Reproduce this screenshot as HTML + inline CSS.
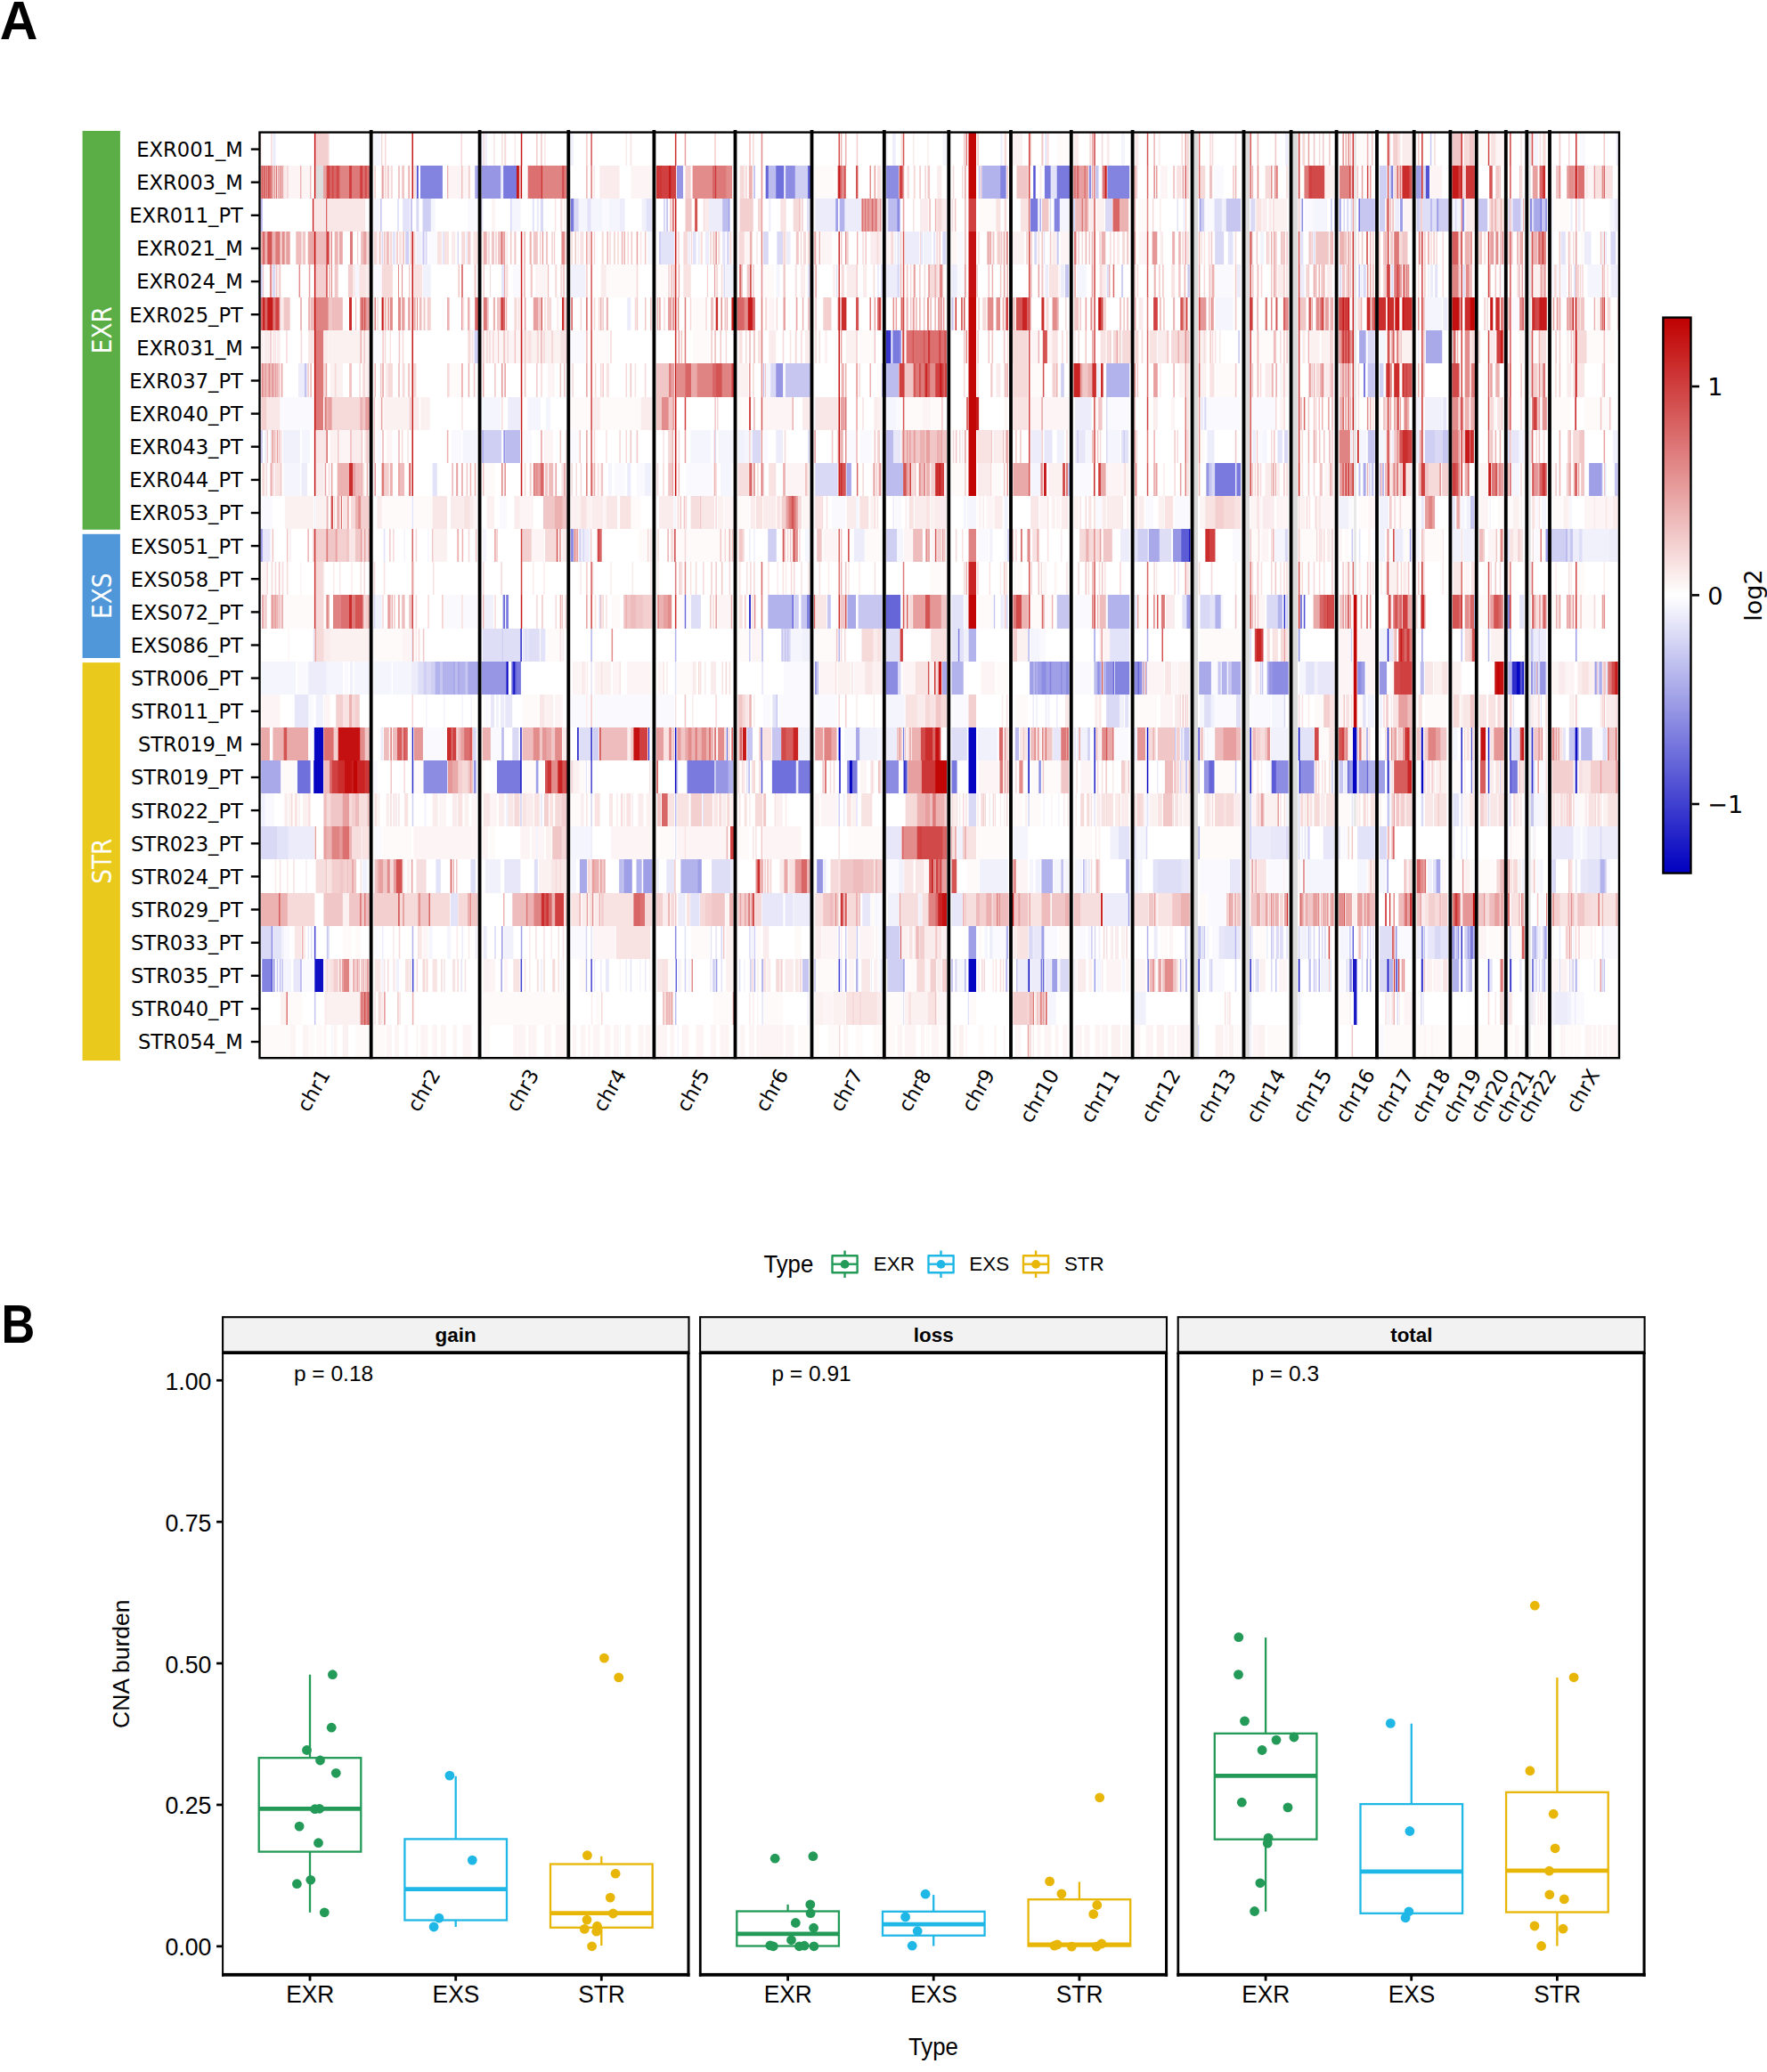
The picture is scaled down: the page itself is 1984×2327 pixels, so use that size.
<!DOCTYPE html>
<html lang="en"><head><meta charset="utf-8"><title>CNA heatmap and burden</title>
<style>
html,body{margin:0;padding:0;background:#fff;}
body{width:1984px;height:2327px;overflow:hidden;}
svg{display:block;}
.dj{font-family:"DejaVu Sans","Liberation Sans",sans-serif;}
.lb{font-family:"Liberation Sans",sans-serif;}
</style></head><body>
<svg width="1984" height="2327" viewBox="0 0 1984 2327">
<rect x="0" y="0" width="1984" height="2327" fill="#ffffff"/>
<text class="lb" transform="translate(-0.2 43.7) scale(0.96 1)" font-size="61.5" font-weight="bold" fill="#000">A</text>
<text class="lb" transform="translate(1.6 1508.3) scale(0.865 1)" font-size="60.5" font-weight="bold" fill="#000">B</text>
<rect x="92.6" y="147" width="42.3" height="447.8" fill="#5aae45"/>
<rect x="92.6" y="599.8" width="42.3" height="139.2" fill="#4f97d9"/>
<rect x="92.6" y="744.1" width="42.3" height="447" fill="#e8c91c"/>
<text class="dj" transform="translate(124.6 370.7) rotate(-90) scale(0.872 1)" text-anchor="middle" font-size="30.2" fill="#fff">EXR</text>
<text class="dj" transform="translate(124.6 669.2) rotate(-90) scale(0.872 1)" text-anchor="middle" font-size="30.2" fill="#fff">EXS</text>
<text class="dj" transform="translate(124.6 967.2) rotate(-90) scale(0.872 1)" text-anchor="middle" font-size="30.2" fill="#fff">STR</text>
<g fill="none">
<g transform="translate(0 167.5)" stroke-width="37">
<path stroke="#fefafa" d="M292 0h1M294 0h1M709 0h1M1130 0h1M1136 0h1M1187 0h12M1211 0h1M1236 0h1M1242 0h1M1300 0h1M1433 0h1M1480 0h1M1517 0h1M1524 0h10M1537 0h3M1661 0h8M1687 0h1M1802 0h1"/>
<path stroke="#faecec" d="M293 0h1M433 0h1M517 0h1M554 0h2M564 0h1M578 0h1M611 0h2M703 0h1M757 0h1M770 0h1M1025 0h1M1177 0h1M1206 0h5M1243 0h2M1275 0h3M1301 0h1M1326 0h1M1345 0h1M1470 0h1M1476 0h1M1575 0h10M1655 0h1M1707 0h1M1735 0h1M1750 0h1M1762 0h1"/>
<path stroke="#f7dede" d="M304 0h1M563 0h1M603 0h1M659 0h1M845 0h1M854 0h1M1169 0h1M1287 0h1M1334 0h1M1536 0h1M1569 0h1"/>
<path stroke="#f9e7e7" d="M305 0h1M352 0h1M369 0h1M846 0h1M856 0h1M1171 0h1M1223 0h1M1411 0h1M1431 0h1M1457 0h1M1515 0h1M1674 0h1M1708 0h1M1800 0h1"/>
<path stroke="#f5f5fd" d="M306 0h1M309 0h1M420 0h7M643 0h1M995 0h2M1005 0h1M1059 0h3M1123 0h1M1125 0h1M1173 0h1M1259 0h4M1605 0h1M1722 0h5"/>
<path stroke="#ececfa" d="M307 0h2M542 0h1M545 0h1M1003 0h2M1124 0h1M1443 0h3M1607 0h1M1815 0h1"/>
<path stroke="#c20606" d="M353 0h1M1088 0h8"/>
<path stroke="#e59696" d="M354 0h1M663 0h1M1508 0h1M1559 0h1M1770 0h1"/>
<path stroke="#f3cfcf" d="M355 0h13M584 0h1M602 0h1M607 0h1M658 0h1M841 0h2M962 0h1M1013 0h1M1015 0h1M1098 0h1M1157 0h1M1289 0h1M1295 0h1M1333 0h1M1492 0h1M1565 0h4M1721 0h1"/>
<path stroke="#f6d9d9" d="M368 0h1M428 0h1M432 0h1M518 0h1M543 0h1M567 0h1M608 0h1M802 0h2M950 0h1M1097 0h1M1128 0h2M1176 0h1M1224 0h1M1237 0h1M1327 0h1M1330 0h1M1361 0h1M1387 0h1M1463 0h2M1481 0h1M1493 0h1M1510 0h1M1557 0h1M1564 0h1M1644 0h6M1670 0h1M1733 0h2M1761 0h1"/>
<path stroke="#fafafe" d="M419 0h1M640 0h1M1058 0h1M1062 0h1M1774 0h6M1814 0h1"/>
<path stroke="#fbf1f1" d="M429 0h1M961 0h1M1011 0h1M1041 0h2M1127 0h1M1137 0h11M1225 0h1M1238 0h1M1245 0h1M1274 0h1M1302 0h1M1413 0h1M1465 0h1M1482 0h1M1534 0h1M1679 0h1M1728 0h1"/>
<path stroke="#e38c8c" d="M462 0h1M855 0h1M1156 0h1M1514 0h1M1696 0h1"/>
<path stroke="#c61919" d="M463 0h1M585 0h1"/>
<path stroke="#f1f1fb" d="M541 0h1M546 0h1M641 0h2M1002 0h1M1816 0h1"/>
<path stroke="#fdf5f5" d="M544 0h1M568 0h1M577 0h1M702 0h1M707 0h1M943 0h1M963 0h1M1026 0h1M1175 0h1M1278 0h1M1332 0h1M1360 0h1M1362 0h1M1386 0h1M1388 0h1M1474 0h1M1572 0h1M1574 0h1M1585 0h1M1630 0h1M1643 0h1M1680 0h7M1730 0h1M1752 0h1"/>
<path stroke="#f8e2e2" d="M566 0h1M708 0h1M768 0h1M945 0h1M1012 0h1M1083 0h1M1358 0h2M1462 0h1M1468 0h1M1486 0h1M1541 0h1M1570 0h2M1593 0h1M1610 0h2M1675 0h4M1729 0h1M1732 0h1"/>
<path stroke="#eebcbc" d="M586 0h1M1084 0h1M1296 0h1M1507 0h1M1560 0h1M1719 0h1"/>
<path stroke="#d96666" d="M664 0h1M1229 0h1M1346 0h1"/>
<path stroke="#cb2d2d" d="M758 0h1M1519 0h1M1558 0h1M1641 0h1M1769 0h1"/>
<path stroke="#eaa9a9" d="M759 0h1M941 0h1M1226 0h1M1403 0h1M1518 0h1"/>
<path stroke="#e79f9f" d="M769 0h1M1331 0h1M1469 0h1"/>
<path stroke="#d45353" d="M942 0h1M1014 0h1M1288 0h1M1404 0h1M1695 0h1M1720 0h1"/>
<path stroke="#ecb2b2" d="M944 0h1M949 0h1M1412 0h1M1459 0h1M1511 0h1M1535 0h1"/>
<path stroke="#f1c6c6" d="M1082 0h1M1170 0h1M1227 0h1M1347 0h1M1432 0h1M1475 0h1M1485 0h1M1513 0h1M1516 0h1M1540 0h1M1592 0h1M1631 0h9M1650 0h5M1672 0h1M1751 0h1M1801 0h1"/>
<path stroke="#de7979" d="M1085 0h1M1228 0h1M1640 0h1"/>
<path stroke="#e08383" d="M1087 0h1M1597 0h1"/>
<path stroke="#d04040" d="M1155 0h1M1458 0h1M1596 0h1M1671 0h1"/>
<path stroke="#d9d9f6" d="M1174 0h1"/>
<path stroke="#dcdcdc" d="M1340 0h5M1398 0h5M1451 0h6"/>
<path stroke="#e8e8e8" d="M1520 0h3M1716 0h3"/>
<path stroke="#c6c6f1" d="M1606 0h1"/>
</g>
<g transform="translate(0 204.5)" stroke-width="37">
<path stroke="#f7dede" d="M292 0h1M309 0h1M313 0h1M323 0h1M440 0h1M519 0h1M854 0h1M1275 0h1M1334 0h1M1411 0h1M1707 0h1M1789 0h1M1791 0h1"/>
<path stroke="#de7979" d="M293 0h1M297 0h1M303 0h1M316 0h1M395 0h9M805 0h10M949 0h1M1206 0h2M1218 0h1M1228 0h1M1238 0h2M1433 0h1M1465 0h4M1516 0h1M1572 0h1M1597 0h1M1630 0h1M1672 0h1M1768 0h1"/>
<path stroke="#d75c5c" d="M294 0h1M304 0h1M370 0h1M372 0h1M377 0h1M1240 0h1M1242 0h1M1469 0h1"/>
<path stroke="#e38c8c" d="M295 0h1M300 0h1M462 0h1M635 0h2M778 0h22M816 0h6M855 0h1M945 0h2M977 0h1M1412 0h1M1427 0h1M1504 0h1M1751 0h1M1762 0h5M1799 0h1"/>
<path stroke="#d45353" d="M296 0h1M301 0h1M374 0h1M380 0h1M411 0h1M631 0h1M943 0h1M948 0h1M961 0h2M1331 0h1M1583 0h2M1673 0h2"/>
<path stroke="#e08383" d="M298 0h1M306 0h1M308 0h1M366 0h1M382 0h10M609 0h22M664 0h1M815 0h1M947 0h1M1087 0h1M1217 0h1M1505 0h10M1675 0h1"/>
<path stroke="#d96666" d="M299 0h1M302 0h1M314 0h1M371 0h1M375 0h2M407 0h1M409 0h1M607 0h1M800 0h3M944 0h1M1210 0h1M1288 0h1M1346 0h1M1404 0h1M1518 0h1M1569 0h1M1695 0h1M1729 0h3M1801 0h1"/>
<path stroke="#f1c6c6" d="M305 0h1M317 0h1M415 0h1M435 0h1M447 0h2M452 0h2M458 0h1M583 0h1M976 0h1M1042 0h2M1084 0h1M1101 0h1M1131 0h1M1142 0h12M1237 0h1M1276 0h1M1318 0h1M1358 0h1M1360 0h1M1428 0h1M1517 0h1M1524 0h1M1643 0h1M1645 0h1M1680 0h3M1684 0h1M1706 0h1M1726 0h1M1747 0h3M1798 0h1"/>
<path stroke="#faecec" d="M307 0h1M315 0h1M319 0h3M464 0h1M674 0h21M736 0h1M1015 0h1M1053 0h4M1081 0h1M1168 0h1M1227 0h1M1332 0h1M1345 0h1M1430 0h1M1528 0h1M1534 0h1M1642 0h1M1720 0h1M1735 0h1M1780 0h3"/>
<path stroke="#dc7070" d="M310 0h1M381 0h1M408 0h1M412 0h3M593 0h14M633 0h2M804 0h1M1013 0h1M1209 0h1M1574 0h1M1772 0h7"/>
<path stroke="#f8e2e2" d="M311 0h1M349 0h1M420 0h1M433 0h1M465 0h2M503 0h1M586 0h1M775 0h1M835 0h1M838 0h1M985 0h4M1020 0h1M1027 0h1M1130 0h1M1141 0h1M1154 0h1M1287 0h1M1322 0h4M1405 0h1M1426 0h1M1444 0h2M1523 0h1M1530 0h1M1559 0h1M1565 0h1M1792 0h6M1802 0h8"/>
<path stroke="#e79f9f" d="M312 0h1M354 0h1M363 0h3M429 0h1M584 0h1M982 0h1M1014 0h1M1156 0h1M1205 0h1M1208 0h1M1212 0h5M1220 0h2M1226 0h1M1274 0h1M1298 0h1M1328 0h1M1431 0h1M1434 0h1M1529 0h1M1538 0h1M1721 0h5M1760 0h1M1767 0h1M1771 0h1M1790 0h1"/>
<path stroke="#f6d9d9" d="M318 0h1M322 0h1M338 0h1M428 0h1M432 0h1M439 0h1M527 0h1M831 0h4M837 0h1M981 0h1M1019 0h1M1026 0h1M1032 0h1M1039 0h1M1070 0h1M1080 0h1M1273 0h1M1327 0h1M1348 0h5M1385 0h1M1421 0h5M1566 0h2M1644 0h1M1679 0h1M1683 0h1M1708 0h1"/>
<path stroke="#fdf5f5" d="M324 0h13M339 0h9M431 0h1M434 0h1M438 0h1M504 0h14M520 0h6M695 0h1M709 0h22M836 0h1M983 0h1M1025 0h1M1069 0h1M1071 0h1M1167 0h1M1169 0h1M1303 0h8M1326 0h1M1329 0h1M1353 0h1M1361 0h1M1407 0h1M1525 0h1M1606 0h13M1685 0h1M1779 0h1M1783 0h6"/>
<path stroke="#ecb2b2" d="M337 0h1M459 0h1M502 0h1M637 0h1M663 0h1M841 0h3M1347 0h1M1387 0h1M1403 0h1M1406 0h1M1432 0h1M1459 0h1M1464 0h1M1536 0h1M1571 0h1M1728 0h1M1750 0h1M1759 0h1"/>
<path stroke="#eebcbc" d="M348 0h1M430 0h1M518 0h1M658 0h1M844 0h1M940 0h1M963 0h1M1009 0h1M1229 0h1M1295 0h1M1330 0h1M1359 0h1"/>
<path stroke="#f9e7e7" d="M352 0h1M667 0h1M759 0h1M769 0h1M856 0h1M1038 0h1M1041 0h1M1321 0h1M1388 0h1M1413 0h1M1457 0h1M1752 0h1M1810 0h1"/>
<path stroke="#c20606" d="M353 0h1M585 0h1M1088 0h8"/>
<path stroke="#dcdcdc" d="M355 0h8M1340 0h5M1398 0h5M1451 0h6"/>
<path stroke="#d24949" d="M367 0h1M373 0h1M378 0h2M404 0h1M410 0h1M632 0h1M1473 0h14M1515 0h1M1655 0h1"/>
<path stroke="#d04040" d="M368 0h2M392 0h3M405 0h2M743 0h8M754 0h5M1010 0h3M1155 0h1M1458 0h1M1470 0h3M1535 0h1M1582 0h1M1638 0h2M1732 0h1M1770 0h1"/>
<path stroke="#f3cfcf" d="M421 0h1M436 0h1M451 0h1M526 0h1M592 0h1M659 0h1M770 0h5M777 0h1M1033 0h1M1289 0h1M1299 0h1M1317 0h1M1333 0h1M1384 0h1M1487 0h1M1539 0h1M1570 0h1M1573 0h1"/>
<path stroke="#fefafa" d="M454 0h1M587 0h5M708 0h1M731 0h1M915 0h21M989 0h1M1044 0h1M1057 0h1M1277 0h1M1319 0h1M1557 0h1M1743 0h3"/>
<path stroke="#fbf1f1" d="M460 0h1M666 0h1M673 0h1M830 0h1M840 0h1M1018 0h1M1052 0h1M1386 0h1M1420 0h1M1488 0h10M1709 0h1"/>
<path stroke="#c61919" d="M463 0h1M580 0h2M751 0h2M942 0h1M1241 0h1M1519 0h1M1631 0h6M1641 0h1M1769 0h1"/>
<path stroke="#e7e7f9" d="M467 0h1M1100 0h1M1268 0h1"/>
<path stroke="#5353d4" d="M468 0h1M1161 0h1M1601 0h4"/>
<path stroke="#7979de" d="M469 0h1M566 0h14M862 0h1M1160 0h1M1173 0h6M1187 0h14M1563 0h1"/>
<path stroke="#8383e0" d="M472 0h24M871 0h1M1124 0h5M1162 0h1M1244 0h24"/>
<path stroke="#8c8ce3" d="M496 0h1M565 0h1M883 0h9M996 0h13M1123 0h1M1223 0h2M1562 0h1"/>
<path stroke="#bcbcee" d="M533 0h1M863 0h8"/>
<path stroke="#a9a9ea" d="M534 0h3M1129 0h1M1590 0h1"/>
<path stroke="#cfcff3" d="M537 0h1M859 0h1M893 0h14M1102 0h1M1549 0h8M1560 0h2M1600 0h1"/>
<path stroke="#dedef7" d="M540 0h1M880 0h1M1233 0h1"/>
<path stroke="#9696e5" d="M541 0h21M760 0h7M882 0h1"/>
<path stroke="#e2e2f8" d="M562 0h1M1180 0h6M1222 0h1M1564 0h1"/>
<path stroke="#ececfa" d="M563 0h2M881 0h1M1098 0h1M1225 0h1"/>
<path stroke="#cb2d2d" d="M582 0h1M608 0h1M1558 0h1M1575 0h7M1596 0h1M1637 0h1M1640 0h1M1733 0h2"/>
<path stroke="#cd3636" d="M737 0h6M753 0h1M803 0h1M941 0h1M1646 0h9"/>
<path stroke="#c6c6f1" d="M846 0h2M1099 0h1M1186 0h1M1230 0h3"/>
<path stroke="#6666d9" d="M860 0h2M907 0h3"/>
<path stroke="#7070dc" d="M872 0h8"/>
<path stroke="#9f9fe7" d="M892 0h1M995 0h1M1179 0h1M1591 0h4"/>
<path stroke="#f1f1fb" d="M910 0h1M1172 0h1"/>
<path stroke="#eaa9a9" d="M1083 0h1M1568 0h1M1800 0h1"/>
<path stroke="#b2b2ec" d="M1103 0h20M1243 0h1M1595 0h1"/>
<path stroke="#e59696" d="M1211 0h1M1219 0h1M1296 0h1M1585 0h1M1696 0h1M1761 0h1"/>
<path stroke="#fafafe" d="M1363 0h11M1548 0h1"/>
<path stroke="#e8e8e8" d="M1520 0h3M1716 0h3"/>
<path stroke="#d9d9f6" d="M1598 0h2"/>
</g>
<g transform="translate(0 241.5)" stroke-width="37">
<path stroke="#e7e7f9" d="M292 0h1M452 0h1M467 0h1M474 0h1M574 0h1M599 0h1M731 0h1M942 0h1M1346 0h1M1376 0h1"/>
<path stroke="#b2b2ec" d="M293 0h1M938 0h1M943 0h5M1168 0h1M1525 0h1M1722 0h1"/>
<path stroke="#c6c6f1" d="M294 0h1M427 0h1M461 0h2M644 0h1M749 0h1M811 0h1M997 0h1M1010 0h1M1167 0h1M1377 0h16M1461 0h1M1527 0h16M1615 0h1M1660 0h10M1699 0h8M1731 0h4"/>
<path stroke="#f9e7e7" d="M350 0h1M353 0h13M368 0h42M757 0h1M1057 0h1M1073 0h1M1430 0h1"/>
<path stroke="#c61919" d="M351 0h1M758 0h1"/>
<path stroke="#eebcbc" d="M352 0h1M1083 0h1M1208 0h6M1216 0h2M1221 0h1M1559 0h1M1695 0h1"/>
<path stroke="#d96666" d="M366 0h1M755 0h1M780 0h1M979 0h1M1155 0h1M1250 0h7"/>
<path stroke="#f1c6c6" d="M367 0h1M753 0h1M770 0h6M854 0h1M897 0h1M985 0h3M1044 0h1M1072 0h1M1170 0h7M1207 0h1M1331 0h1M1458 0h1M1561 0h1M1564 0h1M1595 0h1M1640 0h1M1674 0h1M1678 0h1M1769 0h1"/>
<path stroke="#fefafa" d="M410 0h1M1045 0h1M1071 0h1M1099 0h19M1130 0h1M1278 0h9M1293 0h1M1332 0h1M1575 0h1M1585 0h1M1645 0h1M1745 0h17M1779 0h1"/>
<path stroke="#fafafe" d="M419 0h1M426 0h1M460 0h1M488 0h1M525 0h13M542 0h1M584 0h1M597 0h1M602 0h1M606 0h1M676 0h8M720 0h1M747 0h1M750 0h1M865 0h1M1353 0h10M1393 0h1M1465 0h10M1548 0h1M1571 0h1M1630 0h1M1741 0h1M1807 0h1"/>
<path stroke="#f5f5fd" d="M420 0h6M484 0h4M540 0h1M575 0h9M650 0h9M664 0h12M684 0h12M701 0h1M1178 0h1M1180 0h1M1190 0h10M1463 0h1M1475 0h15M1514 0h1M1631 0h2M1636 0h4M1644 0h1M1670 0h1M1709 0h1M1742 0h2M1763 0h1M1765 0h1M1774 0h1M1808 0h5"/>
<path stroke="#dedef7" d="M428 0h1M1248 0h1M1364 0h7M1597 0h9M1608 0h5M1707 0h1"/>
<path stroke="#e2e2f8" d="M446 0h2M453 0h7M541 0h1M598 0h1M649 0h1M660 0h3M726 0h5M906 0h3M1322 0h1M1329 0h1M1371 0h1M1404 0h1M1503 0h1M1512 0h1M1594 0h1M1693 0h1M1697 0h2M1720 0h1"/>
<path stroke="#d9d9f6" d="M468 0h2M483 0h1M573 0h1M607 0h3M640 0h1M645 0h4M745 0h2M948 0h1M1165 0h1M1179 0h1M1183 0h1M1205 0h2M1241 0h7M1405 0h4M1495 0h1M1498 0h2M1509 0h1M1513 0h1M1517 0h1M1626 0h1M1634 0h1M1694 0h1M1721 0h1"/>
<path stroke="#f1f1fb" d="M470 0h1M721 0h4M863 0h1M915 0h1M995 0h1M1321 0h1M1352 0h1M1372 0h4M1409 0h1M1516 0h1M1566 0h1M1590 0h1M1633 0h1M1816 0h1"/>
<path stroke="#cfcff3" d="M475 0h8M748 0h1M819 0h1M1349 0h3M1494 0h1M1543 0h1M1549 0h6M1591 0h3M1616 0h10"/>
<path stroke="#fdf5f5" d="M552 0h4M624 0h1M634 0h1M754 0h1M789 0h1M890 0h1M1049 0h1M1062 0h1M1068 0h1M1070 0h1M1223 0h1M1231 0h1M1275 0h1M1303 0h1M1417 0h1M1422 0h1M1424 0h1M1457 0h1M1562 0h1M1565 0h1M1576 0h9"/>
<path stroke="#ececfa" d="M603 0h2M659 0h1M663 0h1M696 0h5M725 0h1M796 0h15M864 0h1M916 0h22M949 0h18M996 0h1M1363 0h1M1460 0h1M1508 0h1M1567 0h4M1635 0h1M1708 0h1M1764 0h1M1772 0h2M1813 0h3"/>
<path stroke="#f8e2e2" d="M623 0h1M629 0h1M769 0h1M877 0h5M1015 0h1M1025 0h1M1051 0h2M1119 0h4M1146 0h9M1177 0h1M1222 0h1M1273 0h1M1287 0h1M1411 0h5M1672 0h1M1682 0h2M1687 0h2M1770 0h1"/>
<path stroke="#f6d9d9" d="M630 0h1M790 0h1M845 0h1M851 0h3M891 0h6M1053 0h4M1069 0h1M1128 0h2M1294 0h1M1429 0h1M1596 0h1M1673 0h1M1676 0h2M1680 0h1M1684 0h1M1686 0h1M1778 0h1"/>
<path stroke="#fbf1f1" d="M631 0h1M1026 0h1M1123 0h1M1127 0h1M1232 0h8M1267 0h1M1295 0h1M1416 0h1M1427 0h1M1431 0h14M1689 0h1M1711 0h1M1777 0h1"/>
<path stroke="#faecec" d="M633 0h1M783 0h1M791 0h5M830 0h1M856 0h1M876 0h1M882 0h1M1013 0h1M1033 0h9M1058 0h4M1118 0h1M1224 0h4M1302 0h1M1410 0h1M1418 0h4M1425 0h2M1459 0h1M1646 0h10"/>
<path stroke="#7979de" d="M641 0h3M1157 0h8M1730 0h1"/>
<path stroke="#f3cfcf" d="M752 0h1M831 0h14M898 0h1M900 0h1M989 0h1M1043 0h1M1084 0h1M1156 0h1M1556 0h1M1560 0h1M1563 0h1"/>
<path stroke="#e38c8c" d="M756 0h1M980 0h1M982 0h1M984 0h1M1219 0h1M1288 0h1M1641 0h1"/>
<path stroke="#e79f9f" d="M759 0h1M855 0h1M970 0h1M973 0h1M976 0h2M981 0h1M988 0h1M1014 0h1M1087 0h1M1214 0h1M1519 0h1"/>
<path stroke="#f7dede" d="M776 0h1M901 0h1M1289 0h1M1518 0h1M1681 0h1M1696 0h1"/>
<path stroke="#d45353" d="M781 0h2"/>
<path stroke="#bcbcee" d="M812 0h6M998 0h9M1348 0h1M1505 0h1M1606 0h2"/>
<path stroke="#9f9fe7" d="M818 0h1M939 0h2M1007 0h1M1347 0h1M1504 0h1M1572 0h3M1614 0h1M1735 0h1"/>
<path stroke="#eaa9a9" d="M967 0h1M1218 0h1M1557 0h1"/>
<path stroke="#dc7070" d="M968 0h1M971 0h1"/>
<path stroke="#e59696" d="M969 0h1M972 0h1M978 0h1"/>
<path stroke="#e08383" d="M974 0h2M1228 0h1"/>
<path stroke="#de7979" d="M983 0h1M1215 0h1M1229 0h1"/>
<path stroke="#8c8ce3" d="M1008 0h2M1462 0h1M1642 0h2M1718 0h2"/>
<path stroke="#ecb2b2" d="M1050 0h1M1220 0h1M1249 0h1M1257 0h10M1274 0h1M1675 0h1M1679 0h1M1685 0h1M1710 0h1"/>
<path stroke="#d04040" d="M1088 0h8"/>
<path stroke="#8383e0" d="M1184 0h5"/>
<path stroke="#9696e5" d="M1189 0h1M1729 0h1M1736 0h1"/>
<path stroke="#dcdcdc" d="M1340 0h5M1398 0h5M1451 0h6"/>
<path stroke="#e8e8e8" d="M1520 0h3M1716 0h2"/>
<path stroke="#7070dc" d="M1526 0h1"/>
<path stroke="#cb2d2d" d="M1558 0h1"/>
<path stroke="#a9a9ea" d="M1613 0h1M1723 0h6"/>
</g>
<g transform="translate(0 278.5)" stroke-width="37">
<path stroke="#eaa9a9" d="M293 0h1M314 0h1M319 0h1M346 0h6M381 0h3M408 0h1M562 0h1M658 0h1M915 0h1M1518 0h1M1704 0h1M1708 0h1"/>
<path stroke="#e79f9f" d="M294 0h1M297 0h1M322 0h3M409 0h2M566 0h1M663 0h1M715 0h1M759 0h1M1112 0h1M1131 0h1M1156 0h1M1331 0h1M1405 0h1M1430 0h1M1514 0h1M1594 0h1M1630 0h1M1637 0h1M1674 0h3M1709 0h1M1721 0h1M1769 0h1M1801 0h1"/>
<path stroke="#dc7070" d="M295 0h1M300 0h1"/>
<path stroke="#d96666" d="M296 0h1M563 0h1M1229 0h1M1535 0h1M1695 0h1M1728 0h1M1733 0h1"/>
<path stroke="#ecb2b2" d="M298 0h2M306 0h3M321 0h1M376 0h3M543 0h3M564 0h2M595 0h1M698 0h1M701 0h1M842 0h2M920 0h1M962 0h1M1109 0h2M1127 0h1M1219 0h1M1226 0h1M1237 0h4M1317 0h2M1324 0h1M1346 0h1M1427 0h1M1495 0h1M1505 0h4M1538 0h1M1556 0h1M1603 0h1M1645 0h5M1673 0h1M1679 0h1M1707 0h1M1722 0h4"/>
<path stroke="#d45353" d="M301 0h4M1014 0h1M1288 0h1M1404 0h1M1720 0h1M1731 0h2"/>
<path stroke="#e38c8c" d="M305 0h1M309 0h1M317 0h2M372 0h1M609 0h1M631 0h3M949 0h1M1087 0h1M1274 0h1M1593 0h1M1680 0h2M1687 0h1M1734 0h2"/>
<path stroke="#de7979" d="M310 0h4M366 0h1M393 0h3M664 0h1M855 0h1M1207 0h1M1228 0h1M1534 0h1M1566 0h4"/>
<path stroke="#f6d9d9" d="M315 0h1M320 0h1M338 0h1M412 0h3M420 0h3M432 0h1M438 0h2M461 0h1M465 0h1M519 0h3M548 0h1M556 0h2M606 0h1M620 0h1M636 0h1M652 0h1M654 0h1M661 0h1M667 0h1M676 0h1M681 0h1M689 0h2M700 0h1M705 0h1M761 0h2M768 0h4M776 0h1M787 0h1M797 0h2M807 0h1M820 0h1M830 0h5M844 0h1M854 0h1M880 0h2M902 0h3M907 0h2M919 0h1M985 0h1M1001 0h2M1033 0h1M1052 0h1M1152 0h1M1166 0h1M1215 0h1M1234 0h2M1261 0h2M1287 0h1M1299 0h1M1328 0h1M1330 0h1M1357 0h1M1387 0h1M1424 0h1M1428 0h1M1444 0h1M1459 0h1M1525 0h1M1539 0h1M1549 0h1M1557 0h1M1572 0h2M1609 0h1M1620 0h1M1661 0h1M1670 0h1M1694 0h1M1762 0h1"/>
<path stroke="#eebcbc" d="M316 0h1M325 0h1M333 0h5M355 0h11M384 0h1M406 0h2M434 0h2M586 0h1M589 0h1M630 0h1M682 0h1M803 0h1M1083 0h1M1208 0h1M1316 0h1M1496 0h1M1504 0h1M1555 0h1M1559 0h1M1604 0h1M1686 0h1M1706 0h1M1719 0h1"/>
<path stroke="#f3cfcf" d="M332 0h1M401 0h1M445 0h2M452 0h1M525 0h3M584 0h1M588 0h1M603 0h1M622 0h1M634 0h1M896 0h1M899 0h1M951 0h1M1015 0h1M1084 0h1M1120 0h3M1128 0h1M1153 0h1M1158 0h1M1211 0h1M1265 0h1M1273 0h1M1431 0h1M1440 0h1M1445 0h1M1471 0h1M1473 0h1M1477 0h1M1491 0h1M1513 0h1M1541 0h1M1548 0h1M1561 0h1M1574 0h1M1599 0h1M1610 0h1M1660 0h1M1682 0h1M1693 0h1M1726 0h1M1770 0h1"/>
<path stroke="#faecec" d="M339 0h1M370 0h1M380 0h1M423 0h1M433 0h1M507 0h4M536 0h1M541 0h1M567 0h1M569 0h1M637 0h1M649 0h1M653 0h1M704 0h1M716 0h1M757 0h1M849 0h2M978 0h6M987 0h2M1125 0h1M1180 0h1M1182 0h3M1214 0h1M1254 0h3M1303 0h3M1359 0h1M1410 0h1M1512 0h1M1530 0h1M1619 0h1M1750 0h1M1798 0h1M1800 0h1"/>
<path stroke="#f1c6c6" d="M340 0h3M371 0h1M379 0h1M405 0h1M411 0h1M426 0h1M431 0h1M436 0h1M453 0h1M546 0h1M552 0h3M559 0h3M573 0h1M578 0h1M596 0h1M599 0h4M613 0h2M646 0h1M659 0h1M709 0h1M724 0h1M801 0h1M894 0h2M914 0h1M944 0h1M950 0h1M972 0h1M1011 0h1M1055 0h1M1108 0h1M1111 0h1M1115 0h1M1124 0h1M1170 0h1M1179 0h1M1223 0h1M1266 0h1M1289 0h1M1323 0h1M1325 0h1M1360 0h1M1411 0h1M1422 0h1M1432 0h1M1438 0h2M1441 0h2M1470 0h1M1478 0h13M1493 0h2M1509 0h3M1516 0h1M1529 0h1M1553 0h2M1562 0h2M1575 0h5M1639 0h1M1650 0h1M1662 0h2M1672 0h1M1684 0h2M1697 0h1M1703 0h1M1751 0h1M1761 0h1M1797 0h1"/>
<path stroke="#fefafa" d="M343 0h1M419 0h1M444 0h1M451 0h1M454 0h1M511 0h1M522 0h1M540 0h1M551 0h1M570 0h1M605 0h1M615 0h1M655 0h1M710 0h1M718 0h1M723 0h1M760 0h1M775 0h1M898 0h1M901 0h1M934 0h1M943 0h1M1032 0h1M1068 0h1M1074 0h1M1136 0h1M1167 0h1M1224 0h1M1263 0h1M1278 0h1M1290 0h1M1302 0h1M1353 0h1M1421 0h1M1437 0h1M1517 0h1M1759 0h1M1764 0h1M1775 0h3"/>
<path stroke="#f9e7e7" d="M345 0h1M375 0h1M425 0h1M495 0h1M528 0h1M542 0h1M574 0h1M579 0h1M594 0h1M635 0h1M641 0h1M699 0h1M708 0h1M725 0h1M767 0h1M819 0h1M945 0h1M968 0h1M984 0h1M986 0h1M1116 0h1M1119 0h1M1222 0h1M1225 0h1M1241 0h1M1247 0h1M1251 0h1M1334 0h1M1457 0h1M1515 0h1M1612 0h1M1638 0h1M1644 0h1M1666 0h1M1688 0h1M1767 0h1"/>
<path stroke="#e59696" d="M352 0h1M804 0h1M941 0h1M1294 0h5M1403 0h1M1565 0h1M1651 0h2M1696 0h1M1730 0h1"/>
<path stroke="#c20606" d="M353 0h1"/>
<path stroke="#e08383" d="M354 0h1M369 0h1M462 0h1M1130 0h1M1206 0h1M1570 0h1M1597 0h1M1640 0h1M1727 0h1M1729 0h1"/>
<path stroke="#d04040" d="M367 0h2M1155 0h1M1458 0h1M1596 0h1M1641 0h1M1671 0h1"/>
<path stroke="#fdf5f5" d="M402 0h1M437 0h1M440 0h1M466 0h1M547 0h1M598 0h1M621 0h1M623 0h1M648 0h1M660 0h1M662 0h1M666 0h1M668 0h1M675 0h1M720 0h1M772 0h1M777 0h1M786 0h1M808 0h1M836 0h5M893 0h1M917 0h1M922 0h12M989 0h1M995 0h5M1003 0h1M1012 0h1M1053 0h1M1069 0h5M1113 0h1M1178 0h1M1181 0h1M1191 0h9M1220 0h1M1267 0h1M1275 0h1M1279 0h8M1319 0h1M1329 0h1M1332 0h1M1345 0h1M1351 0h1M1356 0h1M1358 0h1M1361 0h1M1386 0h1M1388 0h1M1412 0h1M1524 0h1M1526 0h1M1528 0h1M1564 0h1M1736 0h1M1796 0h1"/>
<path stroke="#fbf1f1" d="M415 0h1M430 0h1M531 0h1M568 0h1M651 0h1M697 0h1M821 0h1M829 0h1M841 0h1M856 0h1M882 0h1M977 0h1M1137 0h13M1165 0h1M1171 0h1M1185 0h1M1227 0h1M1348 0h1M1425 0h1M1760 0h1M1763 0h1"/>
<path stroke="#f7dede" d="M427 0h1M549 0h1M577 0h1M607 0h1M619 0h1M642 0h1M800 0h1M806 0h1M952 0h1M969 0h1M1013 0h1M1114 0h1M1123 0h1M1157 0h1M1169 0h1M1210 0h1M1246 0h1M1250 0h1M1260 0h1M1293 0h1M1333 0h1M1472 0h1M1542 0h1M1592 0h1M1600 0h1M1613 0h1M1667 0h1M1766 0h1"/>
<path stroke="#f1f1fb" d="M428 0h1M468 0h5M785 0h1M1037 0h9M1062 0h1M1384 0h1M1416 0h2M1802 0h1"/>
<path stroke="#d9d9f6" d="M429 0h1M455 0h1M478 0h1M514 0h1M857 0h5M873 0h6M1059 0h3M1162 0h2M1188 0h1M1365 0h9M1475 0h1M1809 0h5"/>
<path stroke="#e2e2f8" d="M441 0h2M474 0h1M476 0h1M497 0h1M742 0h15M778 0h3M812 0h2M862 0h1M1008 0h2M1035 0h1M1049 0h1M1058 0h1M1161 0h1M1172 0h1M1379 0h5M1460 0h3M1753 0h4"/>
<path stroke="#e7e7f9" d="M443 0h1M479 0h1M498 0h1M811 0h1M872 0h1M1034 0h1M1048 0h1M1757 0h1M1803 0h1M1808 0h1"/>
<path stroke="#f8e2e2" d="M448 0h3M460 0h1M464 0h1M491 0h4M499 0h5M518 0h1M532 0h4M645 0h1M677 0h1M684 0h2M693 0h2M714 0h1M719 0h1M788 0h1M802 0h1M835 0h1M879 0h1M916 0h1M963 0h1M971 0h1M1000 0h1M1051 0h1M1054 0h1M1098 0h2M1126 0h1M1218 0h1M1236 0h1M1327 0h1M1347 0h1M1349 0h1M1352 0h1M1406 0h1M1423 0h1M1433 0h1M1469 0h1M1571 0h1M1580 0h1M1606 0h2M1677 0h1M1698 0h1"/>
<path stroke="#cfcff3" d="M456 0h3M740 0h2M817 0h1"/>
<path stroke="#f5f5fd" d="M459 0h1M467 0h1M473 0h1M524 0h1M728 0h4M814 0h1M887 0h1M1004 0h1M1164 0h1M1415 0h1M1418 0h1M1463 0h1M1474 0h1M1476 0h1M1742 0h2M1752 0h1M1786 0h1"/>
<path stroke="#c61919" d="M463 0h1M585 0h1M758 0h1"/>
<path stroke="#c6c6f1" d="M475 0h1M1187 0h1"/>
<path stroke="#ececfa" d="M477 0h1M513 0h1M523 0h1M773 0h2M781 0h1M784 0h1M792 0h4M818 0h1M883 0h4M1005 0h1M1007 0h1M1016 0h16M1186 0h1M1779 0h7M1799 0h1"/>
<path stroke="#fafafe" d="M481 0h9M496 0h1M727 0h1M739 0h1M783 0h1M1010 0h1M1050 0h1M1075 0h7M1173 0h1M1374 0h1M1378 0h1M1741 0h1M1814 0h1"/>
<path stroke="#dedef7" d="M816 0h1M1364 0h1"/>
<path stroke="#cb2d2d" d="M942 0h1M1519 0h1M1558 0h1"/>
<path stroke="#c41010" d="M1088 0h8"/>
<path stroke="#dcdcdc" d="M1340 0h5M1398 0h5M1451 0h6"/>
<path stroke="#e8e8e8" d="M1520 0h3M1716 0h3"/>
<path stroke="#d75c5c" d="M1631 0h6"/>
</g>
<g transform="translate(0 315.5)" stroke-width="37">
<path stroke="#ececfa" d="M292 0h1M812 0h1M985 0h2M996 0h11M1069 0h5M1174 0h3M1191 0h4M1389 0h4M1460 0h4M1528 0h1M1606 0h3M1809 0h7"/>
<path stroke="#c6c6f1" d="M293 0h1M1196 0h4M1334 0h1"/>
<path stroke="#dedef7" d="M294 0h1M1333 0h1M1504 0h1M1768 0h1"/>
<path stroke="#f1c6c6" d="M295 0h1M310 0h1M314 0h1M376 0h3M459 0h1M515 0h1M533 0h1M588 0h2M596 0h1M633 0h1M754 0h1M756 0h1M833 0h1M839 0h2M880 0h1M915 0h1M1018 0h1M1049 0h1M1054 0h1M1058 0h1M1110 0h1M1123 0h1M1170 0h1M1274 0h1M1297 0h1M1324 0h1M1358 0h1M1387 0h1M1406 0h1M1427 0h1M1432 0h1M1467 0h1M1469 0h1M1484 0h1M1507 0h3M1512 0h1M1516 0h1M1555 0h2M1638 0h1M1652 0h1M1673 0h1M1679 0h1M1684 0h1M1705 0h2M1731 0h3M1751 0h1M1801 0h1"/>
<path stroke="#fdf5f5" d="M296 0h1M302 0h1M315 0h1M337 0h1M415 0h1M428 0h1M452 0h1M570 0h1M601 0h14M616 0h1M625 0h1M716 0h1M752 0h1M763 0h1M892 0h1M935 0h1M937 0h1M944 0h1M1053 0h1M1115 0h1M1122 0h1M1126 0h1M1167 0h1M1188 0h2M1331 0h1M1345 0h1M1386 0h1M1415 0h1M1417 0h1M1470 0h1M1506 0h1M1510 0h1M1534 0h1M1574 0h1M1773 0h1M1775 0h1"/>
<path stroke="#e38c8c" d="M303 0h2M336 0h1M447 0h1M462 0h1M855 0h1M1087 0h1M1535 0h1M1581 0h1M1597 0h1M1646 0h3"/>
<path stroke="#f9e7e7" d="M305 0h1M311 0h1M352 0h1M410 0h1M532 0h1M567 0h1M856 0h1M894 0h1M1019 0h1M1109 0h1M1171 0h1M1187 0h1M1273 0h1M1295 0h1M1315 0h1M1359 0h1M1411 0h1M1457 0h1M1515 0h1M1678 0h1M1703 0h1M1805 0h1"/>
<path stroke="#d9d9f6" d="M306 0h3M813 0h1M1008 0h2M1243 0h1M1335 0h1M1505 0h1M1525 0h1M1531 0h2M1563 0h1M1643 0h1"/>
<path stroke="#faecec" d="M309 0h1M312 0h1M346 0h1M375 0h1M396 0h3M403 0h1M411 0h4M464 0h1M542 0h1M595 0h1M675 0h5M755 0h1M767 0h1M775 0h1M803 0h1M838 0h1M899 0h5M936 0h1M951 0h10M969 0h4M1124 0h1M1227 0h1M1238 0h3M1388 0h1M1435 0h6M1466 0h1M1474 0h1M1490 0h6M1593 0h1M1619 0h1M1639 0h1M1683 0h1M1763 0h1M1798 0h1M1804 0h1"/>
<path stroke="#f6d9d9" d="M313 0h1M379 0h1M429 0h11M569 0h1M584 0h1M624 0h1M630 0h1M715 0h1M751 0h1M805 0h1M810 0h1M909 0h1M945 0h2M961 0h1M981 0h1M1022 0h1M1038 0h1M1044 0h5M1051 0h2M1096 0h1M1128 0h1M1130 0h1M1158 0h1M1165 0h1M1235 0h2M1246 0h1M1277 0h1M1306 0h1M1325 0h1M1347 0h1M1352 0h1M1360 0h1M1363 0h1M1416 0h1M1442 0h1M1476 0h1M1480 0h1M1483 0h1M1487 0h1M1549 0h1M1553 0h1M1592 0h1M1620 0h1M1670 0h1M1746 0h1M1762 0h1M1764 0h1M1770 0h1M1772 0h1M1774 0h1M1800 0h1"/>
<path stroke="#f3cfcf" d="M335 0h1M355 0h11M369 0h1M391 0h5M543 0h1M597 0h1M632 0h1M658 0h1M753 0h1M757 0h1M794 0h1M841 0h1M845 0h1M881 0h1M962 0h1M1015 0h1M1032 0h1M1097 0h1M1249 0h1M1289 0h1M1301 0h1M1305 0h1M1323 0h1M1431 0h1M1441 0h1M1485 0h1M1513 0h1M1536 0h1M1539 0h1M1542 0h1M1548 0h1M1554 0h1M1599 0h1M1650 0h1M1708 0h1M1721 0h1M1729 0h1M1771 0h1"/>
<path stroke="#e79f9f" d="M347 0h1M802 0h1M941 0h1M1026 0h1M1043 0h1M1057 0h1M1127 0h1M1156 0h1M1166 0h1M1226 0h1M1346 0h1M1430 0h1M1475 0h1M1514 0h1M1538 0h1M1572 0h2M1640 0h1M1649 0h1M1709 0h1M1730 0h1"/>
<path stroke="#f8e2e2" d="M348 0h1M404 0h6M465 0h9M514 0h1M568 0h1M623 0h1M629 0h1M761 0h1M768 0h7M879 0h1M893 0h1M947 0h1M1025 0h1M1113 0h1M1178 0h9M1225 0h1M1237 0h1M1251 0h1M1316 0h3M1329 0h1M1407 0h1M1428 0h1M1433 0h1M1444 0h2M1468 0h1M1478 0h1M1511 0h1M1747 0h1M1776 0h2"/>
<path stroke="#c20606" d="M353 0h1"/>
<path stroke="#e59696" d="M354 0h1M451 0h1M663 0h1M1083 0h1M1565 0h1M1575 0h1M1696 0h1M1734 0h1"/>
<path stroke="#d75c5c" d="M366 0h1"/>
<path stroke="#de7979" d="M367 0h1M518 0h1M843 0h1M1228 0h1M1566 0h2M1571 0h1M1579 0h1"/>
<path stroke="#eebcbc" d="M370 0h1M586 0h1M615 0h1M1084 0h1M1206 0h1M1459 0h1M1541 0h1M1578 0h1M1719 0h1M1735 0h1"/>
<path stroke="#e08383" d="M372 0h1M519 0h1M830 0h1M1631 0h6"/>
<path stroke="#fefafa" d="M390 0h1M474 0h1M549 0h1M674 0h1M681 0h33M737 0h12M793 0h1M801 0h1M806 0h1M809 0h1M857 0h12M910 0h1M950 0h1M973 0h1M982 0h1M1010 0h1M1017 0h1M1021 0h1M1039 0h1M1059 0h1M1111 0h1M1177 0h1M1190 0h1M1275 0h1M1278 0h1M1319 0h1M1353 0h1M1434 0h1M1489 0h1M1517 0h1M1680 0h1M1802 0h1"/>
<path stroke="#fafafe" d="M399 0h1M419 0h9M576 0h8M640 0h1M657 0h1M871 0h1M875 0h1M938 0h1M1075 0h8M1195 0h1M1219 0h1M1261 0h1M1364 0h21M1614 0h1M1686 0h1M1741 0h1M1744 0h1M1748 0h1M1752 0h1M1782 0h1"/>
<path stroke="#f5f5fd" d="M400 0h3M483 0h1M814 0h1M823 0h1M872 0h3M940 0h1M1068 0h1M1173 0h1M1209 0h10M1242 0h1M1464 0h1M1527 0h1M1529 0h1M1564 0h1M1642 0h1M1685 0h1M1742 0h2M1749 0h1M1753 0h6M1783 0h15M1808 0h1"/>
<path stroke="#f7dede" d="M440 0h1M534 0h1M550 0h1M659 0h1M750 0h1M804 0h1M846 0h1M854 0h1M1013 0h1M1033 0h1M1169 0h1M1287 0h1M1302 0h1M1357 0h1M1582 0h1M1600 0h1M1645 0h1M1704 0h1M1745 0h1"/>
<path stroke="#fbf1f1" d="M460 0h1M631 0h1M680 0h1M714 0h1M811 0h1M980 0h1M1012 0h1M1023 0h1M1037 0h1M1234 0h1M1241 0h1M1276 0h1M1351 0h1M1413 0h1M1722 0h7M1750 0h1"/>
<path stroke="#c61919" d="M463 0h1M585 0h1"/>
<path stroke="#f1f1fb" d="M475 0h8M641 0h16M815 0h8M995 0h1M1074 0h1M1530 0h1M1603 0h2M1816 0h1"/>
<path stroke="#e7e7f9" d="M563 0h1M1611 0h1M1767 0h1"/>
<path stroke="#e2e2f8" d="M564 0h2M907 0h2M939 0h1M989 0h2M1007 0h1M1244 0h1M1533 0h1M1562 0h1M1612 0h2M1644 0h1"/>
<path stroke="#eaa9a9" d="M566 0h1M759 0h1M916 0h1M1403 0h1M1518 0h1M1577 0h1M1580 0h1M1637 0h1M1672 0h1"/>
<path stroke="#d96666" d="M664 0h1M831 0h1M1056 0h1M1229 0h1M1250 0h1M1560 0h1M1568 0h1M1695 0h1"/>
<path stroke="#cb2d2d" d="M758 0h1M1519 0h1"/>
<path stroke="#ecb2b2" d="M762 0h1M832 0h1M1011 0h1M1027 0h1M1042 0h1M1050 0h1M1055 0h1M1114 0h1M1131 0h1M1157 0h1M1207 0h1M1245 0h1M1296 0h1M1330 0h1M1361 0h2M1412 0h1M1477 0h1M1481 0h1M1486 0h1M1630 0h1M1651 0h1M1761 0h1M1769 0h1M1799 0h1"/>
<path stroke="#d45353" d="M842 0h1M1014 0h1M1288 0h1M1404 0h1M1557 0h1M1576 0h1M1596 0h1M1720 0h1"/>
<path stroke="#d04040" d="M942 0h1M1155 0h1M1458 0h1M1558 0h2M1569 0h1M1641 0h1M1671 0h1"/>
<path stroke="#c41010" d="M1088 0h8"/>
<path stroke="#cfcff3" d="M1259 0h2"/>
<path stroke="#dcdcdc" d="M1340 0h5M1398 0h5M1451 0h6"/>
<path stroke="#e8e8e8" d="M1520 0h3M1716 0h3"/>
<path stroke="#bcbcee" d="M1526 0h1"/>
<path stroke="#dc7070" d="M1570 0h1"/>
</g>
<g transform="translate(0 352.5)" stroke-width="37">
<path stroke="#f3cfcf" d="M292 0h1M454 0h1M480 0h3M504 0h1M519 0h1M548 0h1M584 0h1M606 0h1M677 0h1M757 0h1M879 0h1M916 0h1M925 0h8M940 0h1M989 0h1M1002 0h1M1019 0h1M1029 0h1M1033 0h1M1044 0h1M1049 0h1M1099 0h1M1115 0h1M1127 0h1M1139 0h1M1181 0h1M1206 0h1M1213 0h1M1226 0h1M1262 0h1M1265 0h1M1303 0h1M1306 0h1M1358 0h1M1477 0h1M1557 0h1M1599 0h1M1667 0h1M1773 0h1"/>
<path stroke="#d96666" d="M293 0h2M298 0h2M534 0h3M565 0h2M642 0h1M664 0h1M828 0h7M845 0h2M986 0h1M1012 0h1M1079 0h1M1154 0h1M1229 0h1M1299 0h1M1403 0h1M1442 0h1M1471 0h1M1695 0h1M1710 0h1M1799 0h1"/>
<path stroke="#cb2d2d" d="M295 0h1M300 0h1M392 0h3M631 0h2M804 0h2M945 0h5M1073 0h1M1170 0h2M1458 0h1M1507 0h1M1511 0h1M1513 0h1M1535 0h3M1548 0h8M1559 0h6M1577 0h8M1645 0h5M1680 0h3M1721 0h2M1728 0h1M1766 0h1"/>
<path stroke="#c61919" d="M296 0h1M301 0h5M429 0h1M463 0h1M585 0h1M758 0h1M822 0h2M840 0h4M942 0h1M1234 0h2M1404 0h1M1508 0h1M1514 0h1M1519 0h1M1567 0h4M1641 0h1M1674 0h2M1729 0h7M1769 0h1"/>
<path stroke="#d45353" d="M297 0h1M306 0h1M309 0h1M406 0h1M409 0h1M608 0h1M941 0h1M961 0h3M1082 0h1M1141 0h7M1236 0h2M1295 0h1M1326 0h2M1405 0h1M1433 0h1M1470 0h1M1683 0h1M1720 0h1"/>
<path stroke="#de7979" d="M307 0h2M407 0h1M543 0h3M658 0h1M769 0h1M821 0h1M839 0h1M847 0h1M855 0h1M977 0h1M985 0h1M1056 0h1M1080 0h1M1129 0h1M1228 0h1M1288 0h1M1421 0h2M1483 0h1M1540 0h2M1574 0h1M1685 0h3"/>
<path stroke="#d04040" d="M310 0h3M987 0h1M1014 0h1M1130 0h2M1155 0h1M1296 0h3M1332 0h1M1346 0h1M1484 0h1M1510 0h1M1543 0h1M1596 0h1M1723 0h1M1801 0h1"/>
<path stroke="#dc7070" d="M313 0h1M562 0h1M835 0h1M1347 0h1M1538 0h1M1630 0h1M1679 0h1M1709 0h1M1765 0h1"/>
<path stroke="#f1c6c6" d="M314 0h1M319 0h6M369 0h4M384 0h1M433 0h1M460 0h1M464 0h1M466 0h1M476 0h1M547 0h1M558 0h4M604 0h2M635 0h1M715 0h1M724 0h1M730 0h1M798 0h1M800 0h1M809 0h1M814 0h1M907 0h2M1015 0h1M1022 0h1M1037 0h1M1118 0h1M1137 0h2M1188 0h1M1207 0h4M1240 0h1M1257 0h2M1387 0h1M1411 0h1M1420 0h1M1428 0h1M1460 0h6M1472 0h1M1493 0h2M1515 0h1M1593 0h1M1688 0h1M1693 0h2M1749 0h1M1772 0h1M1775 0h4"/>
<path stroke="#faecec" d="M315 0h3M479 0h1M569 0h1M598 0h1M626 0h1M754 0h1M806 0h1M893 0h1M964 0h1M1058 0h1M1132 0h1M1140 0h1M1174 0h1M1177 0h1M1239 0h1M1279 0h4M1388 0h1M1487 0h1M1524 0h1M1547 0h1M1556 0h1M1745 0h1M1752 0h1M1767 0h1M1802 0h1M1804 0h1"/>
<path stroke="#f7dede" d="M318 0h1M424 0h1M473 0h1M483 0h1M614 0h1M634 0h1M676 0h1M762 0h1M859 0h1M915 0h1M924 0h1M1055 0h1M1108 0h1M1196 0h1M1212 0h1M1359 0h1M1527 0h1M1666 0h1M1670 0h1"/>
<path stroke="#f6d9d9" d="M325 0h1M348 0h1M415 0h1M527 0h1M542 0h1M578 0h2M590 0h1M615 0h4M652 0h1M667 0h1M672 0h1M675 0h1M713 0h1M768 0h1M775 0h1M854 0h1M860 0h1M872 0h1M895 0h1M981 0h1M1005 0h1M1060 0h1M1098 0h1M1104 0h3M1175 0h2M1218 0h1M1241 0h1M1261 0h1M1275 0h1M1289 0h1M1307 0h1M1330 0h1M1354 0h1M1525 0h2M1565 0h1M1771 0h1M1805 0h3M1816 0h1"/>
<path stroke="#eebcbc" d="M337 0h2M346 0h1M349 0h3M373 0h11M399 0h1M420 0h1M435 0h1M471 0h2M586 0h1M682 0h1M741 0h1M799 0h1M803 0h1M944 0h1M976 0h1M1028 0h1M1032 0h1M1045 0h1M1050 0h1M1057 0h1M1157 0h1M1224 0h1M1266 0h1M1302 0h1M1317 0h1M1357 0h1M1434 0h1M1534 0h1M1571 0h1M1598 0h1M1644 0h1M1676 0h1M1761 0h1M1768 0h1"/>
<path stroke="#ecb2b2" d="M347 0h1M432 0h1M458 0h1M465 0h1M502 0h2M525 0h2M554 0h2M568 0h1M674 0h1M681 0h1M738 0h1M740 0h1M816 0h1M827 0h1M901 0h1M943 0h1M1011 0h1M1018 0h1M1026 0h1M1053 0h1M1126 0h1M1187 0h1M1318 0h1M1333 0h1M1362 0h1M1412 0h1M1446 0h1M1481 0h1M1496 0h1M1528 0h1M1759 0h1M1764 0h1M1790 0h1M1798 0h1"/>
<path stroke="#eaa9a9" d="M352 0h1M451 0h1M607 0h1M633 0h1M750 0h1M881 0h1M950 0h1M1072 0h1M1083 0h1M1172 0h1M1361 0h1M1469 0h1M1473 0h1M1491 0h1"/>
<path stroke="#c20606" d="M353 0h1M1088 0h8M1558 0h1M1651 0h4"/>
<path stroke="#d75c5c" d="M354 0h1M430 0h1M1153 0h1M1441 0h1M1485 0h1M1503 0h1M1542 0h1M1566 0h1M1640 0h1"/>
<path stroke="#e08383" d="M355 0h13M410 0h1M421 0h1M533 0h1M1087 0h1M1156 0h1M1169 0h1M1238 0h1M1325 0h1M1406 0h1M1482 0h1M1585 0h1M1597 0h1"/>
<path stroke="#e79f9f" d="M368 0h1M404 0h1M412 0h3M428 0h1M436 0h1M452 0h2M459 0h1M589 0h1M599 0h5M659 0h1M751 0h3M755 0h1M759 0h1M880 0h1M894 0h1M982 0h1M1006 0h1M1025 0h1M1059 0h1M1219 0h1M1274 0h1M1329 0h1M1488 0h3M1495 0h1M1518 0h1M1639 0h1M1744 0h1M1748 0h1M1751 0h1M1760 0h1M1762 0h2M1770 0h1"/>
<path stroke="#fdf5f5" d="M400 0h1M521 0h1M553 0h1M588 0h1M666 0h1M668 0h1M712 0h1M716 0h1M760 0h1M774 0h1M776 0h1M801 0h1M817 0h1M861 0h1M863 0h6M900 0h1M983 0h1M1004 0h1M1007 0h1M1043 0h1M1107 0h1M1123 0h1M1136 0h1M1211 0h1M1220 0h1M1278 0h1M1283 0h1M1319 0h1M1386 0h1M1440 0h1M1793 0h3"/>
<path stroke="#e38c8c" d="M405 0h1M408 0h1M438 0h2M447 0h3M462 0h1M468 0h1M546 0h1M756 0h1M761 0h1M810 0h1M824 0h1M836 0h3M1003 0h1M1013 0h1M1041 0h2M1054 0h1M1109 0h6M1119 0h4M1182 0h4M1225 0h1M1328 0h1M1331 0h1M1360 0h1M1427 0h1M1443 0h3M1478 0h3M1592 0h1M1707 0h2M1797 0h1"/>
<path stroke="#e59696" d="M411 0h1M440 0h1M518 0h1M641 0h1M663 0h1M1186 0h1M1348 0h6M1432 0h1M1459 0h1M1486 0h1M1696 0h1M1706 0h1M1800 0h1"/>
<path stroke="#f8e2e2" d="M423 0h1M475 0h1M477 0h1M520 0h1M537 0h1M567 0h1M582 0h1M611 0h2M636 0h1M731 0h1M745 0h2M770 0h1M792 0h2M813 0h1M815 0h1M856 0h1M1017 0h1M1024 0h1M1103 0h1M1125 0h1M1287 0h1M1457 0h1M1539 0h1M1711 0h1M1743 0h1M1747 0h1M1750 0h1M1774 0h1"/>
<path stroke="#f9e7e7" d="M431 0h1M437 0h1M577 0h1M714 0h1M725 0h1M739 0h1M902 0h1M933 0h1M1023 0h1M1038 0h1M1197 0h1M1345 0h1M1466 0h1M1529 0h1M1669 0h1M1789 0h1M1796 0h1"/>
<path stroke="#fbf1f1" d="M470 0h1M580 0h2M583 0h1M625 0h1M651 0h1M673 0h1M680 0h1M737 0h1M871 0h1M1791 0h1M1808 0h1M1817 0h1"/>
<path stroke="#cd3636" d="M563 0h1"/>
<path stroke="#d24949" d="M564 0h1M988 0h1M1233 0h1M1504 0h3M1509 0h1M1512 0h1M1638 0h1M1673 0h1M1724 0h4M1736 0h1"/>
<path stroke="#fefafa" d="M619 0h1M627 0h1M653 0h1M671 0h1M723 0h1M778 0h14M869 0h1M873 0h1M1021 0h1M1792 0h1M1815 0h1"/>
<path stroke="#f1f1fb" d="M704 0h1M1620 0h1"/>
<path stroke="#ececfa" d="M705 0h3M1621 0h4"/>
<path stroke="#fafafe" d="M708 0h1M1364 0h1M1384 0h1M1625 0h1M1698 0h8"/>
<path stroke="#c92323" d="M844 0h1M1148 0h5M1576 0h1M1650 0h1M1655 0h1"/>
<path stroke="#e2e2f8" d="M1068 0h1"/>
<path stroke="#c6c6f1" d="M1069 0h1"/>
<path stroke="#dedef7" d="M1070 0h1"/>
<path stroke="#dcdcdc" d="M1340 0h5M1398 0h5M1451 0h6"/>
<path stroke="#f5f5fd" d="M1365 0h19M1600 0h19"/>
<path stroke="#e8e8e8" d="M1520 0h3M1716 0h3"/>
<path stroke="#c41010" d="M1575 0h1M1631 0h7"/>
</g>
<g transform="translate(0 389.5)" stroke-width="37">
<path stroke="#fefafa" d="M292 0h1M339 0h1M415 0h1M540 0h1M666 0h18M766 0h1M778 0h18M804 0h1M816 0h1M845 0h1M871 0h1M886 0h1M949 0h1M965 0h16M983 0h1M1111 0h1M1115 0h1M1126 0h1M1130 0h1M1154 0h1M1176 0h1M1220 0h1M1249 0h1M1299 0h1M1355 0h1M1363 0h1M1406 0h5M1414 0h15M1433 0h1M1483 0h1M1679 0h1M1691 0h1M1722 0h5M1736 0h1M1782 0h18M1803 0h10"/>
<path stroke="#faecec" d="M293 0h2M297 0h5M306 0h1M308 0h1M311 0h3M346 0h1M363 0h5M447 0h1M528 0h1M567 0h1M588 0h1M592 0h1M602 0h1M621 0h1M757 0h1M833 0h1M838 0h1M864 0h7M904 0h5M927 0h1M1181 0h1M1187 0h1M1206 0h2M1241 0h1M1300 0h10M1312 0h1M1353 0h1M1369 0h1M1413 0h1M1463 0h2M1674 0h5M1760 0h1M1781 0h1"/>
<path stroke="#fdf5f5" d="M295 0h2M302 0h1M314 0h1M368 0h1M431 0h1M433 0h1M449 0h1M451 0h1M453 0h1M541 0h1M544 0h2M548 0h1M551 0h2M555 0h4M561 0h4M568 0h1M571 0h6M580 0h4M763 0h1M829 0h1M878 0h1M880 0h1M888 0h1M892 0h1M926 0h1M928 0h1M943 0h1M1012 0h1M1136 0h1M1157 0h8M1167 0h1M1177 0h4M1235 0h1M1242 0h1M1255 0h1M1270 0h1M1281 0h1M1283 0h1M1290 0h1M1360 0h1M1362 0h1M1365 0h1M1370 0h1M1465 0h1M1471 0h1M1481 0h1M1585 0h1M1651 0h1M1710 0h1M1752 0h1M1802 0h1"/>
<path stroke="#f3cfcf" d="M303 0h2M404 0h1M430 0h1M565 0h1M659 0h1M799 0h1M802 0h1M847 0h1M1098 0h1M1246 0h1M1289 0h1M1310 0h2M1332 0h1M1347 0h1M1359 0h1M1441 0h1M1445 0h1M1493 0h1M1495 0h1M1570 0h1M1598 0h1M1650 0h1M1721 0h1M1747 0h1M1751 0h1M1766 0h1"/>
<path stroke="#f9e7e7" d="M307 0h1M309 0h1M347 0h5M525 0h1M569 0h1M596 0h1M629 0h1M764 0h1M900 0h1M915 0h1M981 0h1M1109 0h1M1113 0h1M1128 0h1M1193 0h1M1210 0h1M1218 0h1M1298 0h1M1335 0h1M1351 0h1M1438 0h1M1457 0h1M1468 0h1M1637 0h1M1693 0h1"/>
<path stroke="#fafafe" d="M310 0h1M419 0h9M641 0h16"/>
<path stroke="#f8e2e2" d="M321 0h2M352 0h1M438 0h1M530 0h1M547 0h1M550 0h1M554 0h1M577 0h1M593 0h3M630 0h7M685 0h2M770 0h1M808 0h1M830 0h3M851 0h3M856 0h1M887 0h1M894 0h1M920 0h1M1083 0h1M1182 0h5M1197 0h2M1236 0h5M1245 0h1M1274 0h1M1287 0h1M1291 0h7M1364 0h1M1411 0h1M1567 0h1M1660 0h2M1727 0h1M1763 0h1M1771 0h1M1800 0h1"/>
<path stroke="#fbf1f1" d="M337 0h1M369 0h35M406 0h2M410 0h5M437 0h1M529 0h1M531 0h1M560 0h1M579 0h1M587 0h1M591 0h1M597 0h5M605 0h2M609 0h1M612 0h7M622 0h7M637 0h1M814 0h1M863 0h1M919 0h1M950 0h11M1132 0h1M1278 0h1M1345 0h1M1348 0h3M1354 0h1M1462 0h1M1470 0h1M1472 0h9M1484 0h8M1574 0h11M1635 0h1M1673 0h1M1706 0h4M1750 0h1M1759 0h1M1761 0h1"/>
<path stroke="#f6d9d9" d="M338 0h1M429 0h1M432 0h1M452 0h1M526 0h2M570 0h1M603 0h2M619 0h2M761 0h1M768 0h1M798 0h1M815 0h1M837 0h1M854 0h1M879 0h1M893 0h1M945 0h1M961 0h2M1097 0h1M1131 0h1M1137 0h17M1243 0h2M1250 0h3M1256 0h3M1261 0h9M1275 0h3M1282 0h1M1316 0h6M1324 0h6M1352 0h1M1358 0h1M1361 0h1M1442 0h1M1444 0h1M1494 0h1M1496 0h1M1557 0h1M1571 0h2M1652 0h3M1670 0h1M1729 0h1M1746 0h1M1772 0h9"/>
<path stroke="#c20606" d="M353 0h1M1088 0h8"/>
<path stroke="#d45353" d="M354 0h1M664 0h1M1025 0h1M1037 0h1M1054 0h1M1061 0h1M1171 0h4M1510 0h1M1513 0h1M1596 0h1M1720 0h1"/>
<path stroke="#de7979" d="M355 0h8M769 0h1M855 0h1M1013 0h1M1228 0h1M1506 0h1M1559 0h1"/>
<path stroke="#ecb2b2" d="M405 0h1M586 0h1M1166 0h1M1323 0h1M1412 0h1M1430 0h1M1459 0h1M1469 0h1M1562 0h1M1631 0h1M1634 0h1M1636 0h1M1728 0h1"/>
<path stroke="#f7dede" d="M408 0h1M543 0h1M546 0h1M549 0h1M553 0h1M590 0h1M610 0h2M899 0h1M916 0h1M1165 0h1M1170 0h1M1192 0h1M1211 0h1M1247 0h1M1260 0h1M1315 0h1M1437 0h1M1599 0h1M1644 0h1M1655 0h1M1730 0h6M1767 0h1"/>
<path stroke="#f1c6c6" d="M409 0h1M448 0h1M542 0h1M559 0h1M566 0h1M578 0h1M584 0h1M589 0h1M608 0h1M765 0h1M803 0h1M809 0h1M841 0h2M846 0h1M982 0h1M1015 0h1M1017 0h1M1082 0h1M1084 0h1M1110 0h1M1114 0h1M1127 0h1M1219 0h1M1227 0h1M1253 0h1M1322 0h1M1333 0h2M1431 0h2M1573 0h1M1672 0h1M1688 0h1M1692 0h1M1764 0h1M1801 0h1"/>
<path stroke="#e38c8c" d="M462 0h1M663 0h1M941 0h1M1085 0h1M1331 0h1M1346 0h1M1516 0h1M1597 0h1M1645 0h5M1680 0h1"/>
<path stroke="#c61919" d="M463 0h1M585 0h1M942 0h1M1519 0h1M1685 0h2M1769 0h1"/>
<path stroke="#ececfa" d="M532 0h1M1001 0h1M1592 0h1M1619 0h1"/>
<path stroke="#cfcff3" d="M533 0h4M1391 0h1"/>
<path stroke="#f5f5fd" d="M537 0h1M1535 0h1M1549 0h7M1593 0h1M1600 0h1"/>
<path stroke="#eebcbc" d="M607 0h1M658 0h1M1330 0h1M1719 0h1M1768 0h1"/>
<path stroke="#cb2d2d" d="M758 0h1M1514 0h1M1558 0h1"/>
<path stroke="#eaa9a9" d="M759 0h1M1226 0h1M1503 0h1M1568 0h1"/>
<path stroke="#e79f9f" d="M762 0h1M944 0h1M1156 0h1M1254 0h1M1403 0h1M1504 0h2M1517 0h1M1563 0h1M1640 0h1"/>
<path stroke="#d9d9f6" d="M994 0h1M1390 0h1M1536 0h7"/>
<path stroke="#3636cd" d="M995 0h5"/>
<path stroke="#b2b2ec" d="M1000 0h1M1526 0h1"/>
<path stroke="#9f9fe7" d="M1002 0h1M1011 0h1"/>
<path stroke="#7979de" d="M1003 0h7"/>
<path stroke="#8c8ce3" d="M1010 0h1"/>
<path stroke="#d04040" d="M1014 0h1M1055 0h1M1155 0h1M1404 0h1M1458 0h1M1511 0h1M1641 0h1M1671 0h1M1681 0h4"/>
<path stroke="#dc7070" d="M1018 0h6M1026 0h11M1039 0h3M1045 0h9M1057 0h3M1062 0h1M1509 0h1M1512 0h1M1515 0h1"/>
<path stroke="#d96666" d="M1024 0h1M1038 0h1M1044 0h1M1056 0h1M1175 0h1M1229 0h1M1288 0h1M1518 0h1M1569 0h1M1632 0h2M1695 0h1"/>
<path stroke="#cd3636" d="M1042 0h2M1508 0h1"/>
<path stroke="#d75c5c" d="M1060 0h1M1564 0h1M1770 0h1"/>
<path stroke="#e08383" d="M1087 0h1"/>
<path stroke="#dcdcdc" d="M1340 0h5M1398 0h5M1451 0h6"/>
<path stroke="#d24949" d="M1507 0h1M1687 0h1"/>
<path stroke="#e8e8e8" d="M1520 0h3M1716 0h3"/>
<path stroke="#a9a9ea" d="M1527 0h6M1601 0h18"/>
<path stroke="#c6c6f1" d="M1533 0h1"/>
<path stroke="#e2e2f8" d="M1543 0h1"/>
<path stroke="#e59696" d="M1560 0h1M1565 0h1M1696 0h1"/>
</g>
<g transform="translate(0 427)" stroke-width="38">
<path stroke="#f1c6c6" d="M293 0h1M312 0h2M392 0h3M427 0h1M447 0h2M459 0h1M532 0h1M564 0h1M566 0h1M589 0h1M629 0h1M659 0h1M708 0h1M737 0h14M859 0h1M947 0h1M1016 0h9M1113 0h1M1128 0h2M1216 0h5M1277 0h1M1387 0h1M1406 0h1M1429 0h1M1432 0h1M1486 0h1M1505 0h2M1516 0h1M1679 0h1M1683 0h1M1751 0h1"/>
<path stroke="#e38c8c" d="M294 0h1M302 0h1M306 0h1M462 0h1M663 0h1M760 0h9M855 0h1M941 0h1M1045 0h5M1205 0h1M1274 0h1M1484 0h1M1574 0h1M1645 0h5M1696 0h1M1728 0h1"/>
<path stroke="#e79f9f" d="M295 0h1M298 0h1M309 0h1M316 0h1M366 0h1M754 0h3M782 0h1M962 0h1M1025 0h1M1156 0h1M1213 0h2M1296 0h3M1331 0h1M1470 0h1M1485 0h1M1507 0h1M1511 0h1M1513 0h1M1640 0h1M1674 0h1"/>
<path stroke="#eebcbc" d="M296 0h1M299 0h2M304 0h1M307 0h2M310 0h1M349 0h1M421 0h1M429 0h1M519 0h1M586 0h1M842 0h1M1172 0h1M1215 0h1M1221 0h1M1318 0h1M1347 0h1M1482 0h1M1496 0h1M1571 0h1M1675 0h1M1719 0h1"/>
<path stroke="#eaa9a9" d="M297 0h1M301 0h1M305 0h1M567 0h1M658 0h1M776 0h6M1009 0h1M1295 0h1M1403 0h1M1471 0h1M1518 0h1M1768 0h1"/>
<path stroke="#ecb2b2" d="M303 0h1M311 0h1M430 0h1M518 0h1M526 0h1M542 0h1M945 0h2M949 0h1M961 0h1M977 0h1M1131 0h1M1186 0h1M1222 0h4M1299 0h1M1412 0h1M1428 0h1M1433 0h1M1459 0h1M1475 0h1M1483 0h1M1495 0h1M1510 0h1M1592 0h1M1673 0h1M1680 0h3M1693 0h1M1721 0h1M1801 0h1"/>
<path stroke="#f8e2e2" d="M314 0h1M317 0h1M407 0h1M464 0h1M607 0h2M681 0h2M713 0h1M964 0h2M1287 0h1M1359 0h4M1481 0h1M1651 0h1M1692 0h1M1726 0h1M1746 0h2M1767 0h1"/>
<path stroke="#faecec" d="M315 0h1M367 0h1M375 0h1M412 0h3M433 0h2M454 0h1M533 0h1M675 0h1M702 0h1M824 0h1M1083 0h1M1097 0h1M1119 0h4M1181 0h1M1302 0h1M1345 0h1M1358 0h1M1388 0h1M1421 0h5M1488 0h5M1750 0h1M1760 0h4"/>
<path stroke="#ececfa" d="M335 0h7M1232 0h2M1535 0h1M1553 0h1"/>
<path stroke="#bcbcee" d="M342 0h1M857 0h1M990 0h1M996 0h13M1242 0h1"/>
<path stroke="#c6c6f1" d="M343 0h1M882 0h28M995 0h1M1536 0h7"/>
<path stroke="#e2e2f8" d="M344 0h1"/>
<path stroke="#f7dede" d="M345 0h1M404 0h1M440 0h1M603 0h1M634 0h1M643 0h1M676 0h1M845 0h1M854 0h1M1170 0h1M1185 0h1M1333 0h1M1472 0h1M1599 0h1M1644 0h1M1670 0h1M1727 0h1"/>
<path stroke="#f3cfcf" d="M346 0h1M348 0h1M365 0h1M458 0h1M555 0h1M584 0h1M602 0h1M633 0h1M677 0h1M1130 0h1M1182 0h3M1273 0h1M1289 0h1M1317 0h1M1441 0h1M1469 0h1M1473 0h1M1493 0h2M1504 0h1M1509 0h1M1512 0h1M1598 0h1M1650 0h1M1672 0h1M1708 0h1M1722 0h4M1729 0h1"/>
<path stroke="#f9e7e7" d="M352 0h1M377 0h1M403 0h1M428 0h1M435 0h1M504 0h1M525 0h1M590 0h1M628 0h1M642 0h1M683 0h1M707 0h1M846 0h1M856 0h1M944 0h1M1098 0h1M1114 0h1M1127 0h1M1137 0h1M1276 0h1M1334 0h1M1405 0h1M1411 0h1M1427 0h1M1457 0h1M1476 0h1M1766 0h1M1772 0h7"/>
<path stroke="#c20606" d="M353 0h1M1088 0h8"/>
<path stroke="#d45353" d="M354 0h1M664 0h1M804 0h6M1026 0h1M1033 0h1M1038 0h1M1041 0h3M1050 0h1M1059 0h1M1171 0h1M1404 0h1M1560 0h1M1565 0h1M1577 0h1M1580 0h5M1671 0h1M1695 0h1M1720 0h1"/>
<path stroke="#de7979" d="M355 0h8M752 0h1M769 0h1M1015 0h1M1028 0h4M1034 0h4M1514 0h1M1652 0h3M1733 0h2"/>
<path stroke="#f6d9d9" d="M363 0h2M376 0h1M408 0h2M420 0h1M436 0h4M452 0h2M465 0h2M502 0h2M543 0h1M556 0h1M668 0h1M674 0h1M703 0h1M724 0h1M757 0h1M950 0h1M976 0h1M1082 0h1M1112 0h1M1138 0h16M1187 0h1M1330 0h1M1415 0h1M1442 0h1M1478 0h3M1515 0h1M1525 0h1M1593 0h1M1707 0h1M1730 0h2M1799 0h2"/>
<path stroke="#fefafa" d="M370 0h1M426 0h1M432 0h1M505 0h13M588 0h1M630 0h1M667 0h1M680 0h1M709 0h1M714 0h1M723 0h1M736 0h1M828 0h1M985 0h4M1154 0h1M1157 0h12M1278 0h1M1329 0h1M1354 0h1M1365 0h21M1407 0h1M1487 0h1M1517 0h1M1764 0h1"/>
<path stroke="#fbf1f1" d="M371 0h4M378 0h7M411 0h1M467 0h1M527 0h1M669 0h1M725 0h1M829 0h11M858 0h1M1348 0h6M1363 0h1M1413 0h1M1426 0h1M1474 0h1M1477 0h1M1735 0h1M1759 0h1M1771 0h1"/>
<path stroke="#fdf5f5" d="M410 0h1M415 0h1M451 0h1M460 0h1M531 0h1M615 0h8M712 0h1M1118 0h1M1123 0h1M1275 0h1M1303 0h1M1324 0h5M1332 0h1M1386 0h1M1414 0h1M1416 0h1M1420 0h1M1437 0h4M1443 0h3M1524 0h1M1526 0h1M1694 0h1M1752 0h1M1798 0h1M1802 0h1"/>
<path stroke="#c61919" d="M463 0h1M585 0h1M758 0h1M942 0h1M1056 0h1M1558 0h1M1769 0h1"/>
<path stroke="#e59696" d="M563 0h1M753 0h1M841 0h1M1508 0h1M1561 0h2M1585 0h1M1630 0h1M1638 0h1M1732 0h1"/>
<path stroke="#e08383" d="M751 0h1M759 0h1M783 0h17M811 0h10M1044 0h1M1087 0h1M1597 0h1M1655 0h1"/>
<path stroke="#d96666" d="M770 0h6M800 0h4M810 0h1M1060 0h1M1226 0h1M1288 0h1M1346 0h1M1556 0h1"/>
<path stroke="#d75c5c" d="M821 0h1M1027 0h1M1770 0h1"/>
<path stroke="#d04040" d="M822 0h2M1010 0h5M1051 0h4M1058 0h1M1061 0h2M1155 0h1M1212 0h1M1230 0h1M1458 0h1M1559 0h1M1579 0h1M1596 0h1M1641 0h1"/>
<path stroke="#f5f5fd" d="M860 0h5M881 0h1M1231 0h1M1234 0h1"/>
<path stroke="#dedef7" d="M865 0h1"/>
<path stroke="#d9d9f6" d="M866 0h5M1191 0h1M1194 0h1"/>
<path stroke="#a9a9ea" d="M871 0h1"/>
<path stroke="#9696e5" d="M872 0h7"/>
<path stroke="#f1f1fb" d="M879 0h1M1268 0h1"/>
<path stroke="#fafafe" d="M880 0h1M910 0h1M1548 0h1"/>
<path stroke="#7979de" d="M991 0h4M1531 0h2"/>
<path stroke="#d24949" d="M1032 0h1M1557 0h1M1576 0h1M1578 0h1M1631 0h7"/>
<path stroke="#cb2d2d" d="M1039 0h1M1227 0h3M1236 0h2M1519 0h1M1566 0h5M1575 0h1"/>
<path stroke="#c92323" d="M1040 0h1M1055 0h1M1206 0h6"/>
<path stroke="#cd3636" d="M1057 0h1"/>
<path stroke="#cfcff3" d="M1192 0h2M1543 0h1M1549 0h4"/>
<path stroke="#dc7070" d="M1238 0h1"/>
<path stroke="#b2b2ec" d="M1243 0h25"/>
<path stroke="#dcdcdc" d="M1340 0h5M1398 0h5M1451 0h6"/>
<path stroke="#e8e8e8" d="M1520 0h3M1716 0h3"/>
</g>
<g transform="translate(0 464.5)" stroke-width="37">
<path stroke="#f6d9d9" d="M293 0h1M373 0h31M415 0h1M429 0h1M584 0h1M757 0h1M770 0h1M802 0h1M805 0h1M1058 0h1M1287 0h1M1347 0h1M1432 0h1M1477 0h1M1485 0h1M1539 0h1M1555 0h1M1557 0h1M1571 0h1M1643 0h1M1670 0h1M1674 0h3"/>
<path stroke="#f3cfcf" d="M294 0h5M803 0h1M847 0h1M854 0h1M889 0h1M1057 0h1M1233 0h1M1536 0h1M1556 0h1"/>
<path stroke="#f8e2e2" d="M299 0h1M943 0h1M1138 0h16M1441 0h2M1463 0h1M1480 0h1M1515 0h1M1525 0h1M1567 0h1M1638 0h1M1673 0h1M1682 0h3M1707 0h2M1808 0h1"/>
<path stroke="#f9e7e7" d="M300 0h14M352 0h1M461 0h1M518 0h1M916 0h24M969 0h1M1099 0h1M1273 0h1M1334 0h1M1457 0h1M1512 0h1M1542 0h1M1582 0h1M1644 0h1"/>
<path stroke="#fdf5f5" d="M314 0h1M421 0h1M424 0h3M470 0h1M472 0h1M482 0h1M665 0h1M719 0h1M857 0h32M981 0h1M989 0h1M1036 0h9M1128 0h3M1157 0h12M1171 0h29M1230 0h2M1315 0h4M1437 0h4M1470 0h1M1474 0h1M1517 0h1M1526 0h1M1534 0h1M1573 0h1"/>
<path stroke="#fafafe" d="M315 0h37M540 0h1M592 0h1M1006 0h5M1244 0h24M1351 0h1M1355 0h38M1405 0h27M1589 0h1M1619 0h1M1624 0h1"/>
<path stroke="#c20606" d="M353 0h1M942 0h1M1088 0h8"/>
<path stroke="#d45353" d="M354 0h1M664 0h1M855 0h1M1014 0h1M1404 0h1M1569 0h1"/>
<path stroke="#de7979" d="M355 0h8M365 0h1M949 0h1M1085 0h1M1331 0h1M1768 0h1"/>
<path stroke="#eebcbc" d="M364 0h1M404 0h1M586 0h1M846 0h1M950 0h1M961 0h1M1169 0h1M1504 0h1M1559 0h2M1576 0h1M1630 0h1M1637 0h1M1651 0h1M1693 0h1M1727 0h1"/>
<path stroke="#e59696" d="M366 0h1M1696 0h1M1732 0h4"/>
<path stroke="#ecb2b2" d="M367 0h1M372 0h1M405 0h2M890 0h1M948 0h1M962 0h1M1170 0h1M1459 0h1M1484 0h1M1505 0h2M1510 0h2M1513 0h1M1516 0h1M1538 0h1M1561 0h1M1565 0h1M1580 0h2M1639 0h1M1645 0h4M1655 0h1"/>
<path stroke="#eaa9a9" d="M368 0h1M410 0h1M755 0h1M1403 0h1M1491 0h1M1652 0h3M1736 0h1"/>
<path stroke="#e79f9f" d="M369 0h3M411 0h4M428 0h1M750 0h1M756 0h1M759 0h1M944 0h4M1156 0h1M1518 0h1M1566 0h1M1572 0h1M1642 0h1M1728 0h1"/>
<path stroke="#f1c6c6" d="M407 0h3M420 0h1M460 0h1M737 0h6M751 0h4M768 0h1M1015 0h1M1234 0h3M1274 0h1M1289 0h1M1330 0h1M1460 0h2M1465 0h1M1469 0h1M1475 0h1M1481 0h1M1492 0h1M1495 0h2M1553 0h2M1649 0h1M1672 0h1M1686 0h1M1694 0h1M1726 0h1M1797 0h1M1807 0h1"/>
<path stroke="#faecec" d="M419 0h1M459 0h1M465 0h5M519 0h1M564 0h1M666 0h7M720 0h11M806 0h1M901 0h9M915 0h1M968 0h1M982 0h3M1137 0h1M1295 0h4M1433 0h1M1468 0h1M1476 0h1M1681 0h1M1685 0h1M1729 0h1M1798 0h1"/>
<path stroke="#fefafa" d="M423 0h1M430 0h1M641 0h22M674 0h45M736 0h1M829 0h10M1016 0h20M1046 0h11M1127 0h1M1131 0h1M1154 0h1M1232 0h1M1275 0h1M1524 0h1M1678 0h2M1743 0h20M1779 0h17M1799 0h8"/>
<path stroke="#fbf1f1" d="M427 0h1M431 0h28M464 0h1M473 0h9M673 0h1M731 0h1M940 0h1M985 0h4M1299 0h1M1332 0h1M1345 0h1M1478 0h1M1509 0h1M1548 0h2M1562 0h1M1677 0h1M1687 0h1M1796 0h1"/>
<path stroke="#e38c8c" d="M462 0h1M663 0h1M743 0h7M1229 0h1M1346 0h1M1507 0h1M1535 0h1M1577 0h3M1631 0h6"/>
<path stroke="#c61919" d="M463 0h1M585 0h1M758 0h1M1096 0h3M1519 0h1"/>
<path stroke="#f5f5fd" d="M541 0h21M593 0h14M613 0h5M995 0h11M1225 0h1"/>
<path stroke="#f7dede" d="M563 0h1M856 0h1M1013 0h1M1237 0h1M1333 0h1M1541 0h1M1731 0h1"/>
<path stroke="#f1f1fb" d="M570 0h1M1590 0h5M1600 0h19"/>
<path stroke="#ececfa" d="M571 0h13M1207 0h18M1243 0h1M1348 0h3M1354 0h1M1620 0h1"/>
<path stroke="#d04040" d="M769 0h1M1155 0h1M1288 0h1M1458 0h1M1596 0h1M1671 0h1M1722 0h3"/>
<path stroke="#d24949" d="M841 0h2"/>
<path stroke="#e08383" d="M941 0h1M1087 0h1M1568 0h1M1597 0h1M1720 0h1"/>
<path stroke="#d96666" d="M1086 0h1M1464 0h1M1508 0h1M1514 0h1M1570 0h1M1695 0h1M1721 0h1M1725 0h1"/>
<path stroke="#d75c5c" d="M1228 0h1"/>
<path stroke="#d9d9f6" d="M1242 0h1M1353 0h1"/>
<path stroke="#dcdcdc" d="M1340 0h5M1398 0h5M1451 0h6"/>
<path stroke="#e2e2f8" d="M1352 0h1"/>
<path stroke="#e8e8e8" d="M1520 0h3M1716 0h3"/>
<path stroke="#cb2d2d" d="M1558 0h1M1769 0h1"/>
<path stroke="#e7e7f9" d="M1621 0h3"/>
<path stroke="#dc7070" d="M1640 0h1"/>
<path stroke="#cd3636" d="M1641 0h1"/>
</g>
<g transform="translate(0 501.5)" stroke-width="37">
<path stroke="#ececfa" d="M292 0h1M298 0h1M801 0h1M872 0h7M1158 0h11M1207 0h1M1218 0h1M1356 0h7M1407 0h3M1434 0h1M1563 0h1M1590 0h4"/>
<path stroke="#c6c6f1" d="M293 0h1M567 0h1M995 0h1M1536 0h7M1620 0h6"/>
<path stroke="#cfcff3" d="M294 0h1M543 0h20M1210 0h1M1262 0h1M1600 0h11"/>
<path stroke="#f1f1fb" d="M297 0h1M303 0h1M318 0h19M829 0h6M844 0h1M871 0h1M1157 0h1M1172 0h1M1181 0h1M1187 0h8M1406 0h1M1535 0h1M1564 0h1M1705 0h1M1811 0h5"/>
<path stroke="#f9e7e7" d="M299 0h1M314 0h1M352 0h1M355 0h11M458 0h1M628 0h1M680 0h1M695 0h1M707 0h1M745 0h1M757 0h1M981 0h1M1074 0h1M1097 0h1M1127 0h1M1275 0h1M1457 0h1M1468 0h1M1478 0h1M1482 0h1M1642 0h1M1683 0h1M1734 0h1M1750 0h1"/>
<path stroke="#f1c6c6" d="M300 0h1M307 0h2M313 0h1M379 0h1M393 0h2M406 0h1M412 0h1M420 0h1M429 0h2M447 0h2M629 0h1M651 0h1M659 0h1M708 0h1M715 0h1M802 0h1M914 0h1M934 0h1M946 0h1M950 0h1M961 0h2M982 0h1M1016 0h2M1020 0h1M1023 0h2M1028 0h5M1039 0h1M1044 0h8M1058 0h5M1073 0h1M1084 0h1M1113 0h1M1126 0h1M1232 0h1M1330 0h1M1387 0h1M1411 0h1M1430 0h1M1477 0h1M1481 0h1M1486 0h1M1492 0h2M1566 0h2M1644 0h1M1674 0h2M1719 0h1M1728 0h1M1762 0h2M1774 0h5"/>
<path stroke="#fbf1f1" d="M304 0h1M371 0h7M452 0h1M584 0h1M761 0h1M1236 0h1M1332 0h1M1345 0h1M1461 0h1M1470 0h1M1685 0h1M1752 0h1"/>
<path stroke="#e79f9f" d="M305 0h1M311 0h1M759 0h1M769 0h1M1018 0h1M1021 0h1M1026 0h1M1040 0h4M1057 0h1M1156 0h1M1274 0h1M1475 0h1M1594 0h1M1637 0h2M1801 0h1"/>
<path stroke="#eebcbc" d="M306 0h1M586 0h1M608 0h1M943 0h1M1025 0h1M1038 0h1M1055 0h1M1129 0h1M1226 0h1M1296 0h1M1560 0h1M1570 0h1M1695 0h1"/>
<path stroke="#f6d9d9" d="M309 0h1M315 0h1M411 0h1M451 0h1M667 0h1M703 0h1M751 0h3M762 0h1M881 0h1M940 0h1M985 0h1M1070 0h1M1077 0h1M1146 0h1M1235 0h1M1273 0h1M1276 0h1M1289 0h1M1322 0h1M1427 0h1M1462 0h1M1496 0h1M1503 0h1M1556 0h1M1696 0h1M1725 0h1M1760 0h1M1767 0h6M1800 0h1"/>
<path stroke="#f8e2e2" d="M310 0h1M312 0h1M380 0h1M410 0h1M414 0h1M503 0h1M650 0h1M768 0h1M842 0h1M1012 0h1M1098 0h14M1132 0h1M1197 0h2M1287 0h1M1431 0h1M1487 0h1M1639 0h1M1670 0h1M1678 0h1M1733 0h1M1766 0h1"/>
<path stroke="#fdf5f5" d="M316 0h1M378 0h1M381 0h12M415 0h1M421 0h1M434 0h6M501 0h1M611 0h10M634 0h1M637 0h1M666 0h1M668 0h1M716 0h1M880 0h1M882 0h1M933 0h1M984 0h1M1069 0h1M1071 0h1M1081 0h1M1115 0h1M1231 0h1M1386 0h1M1412 0h1M1518 0h1M1680 0h1M1729 0h1M1802 0h1"/>
<path stroke="#fafafe" d="M317 0h1M423 0h5M507 0h11M519 0h1M535 0h1M563 0h1M587 0h10M641 0h9M775 0h1M804 0h1M806 0h1M823 0h1M828 0h1M857 0h5M951 0h10M966 0h13M1186 0h1M1219 0h1M1225 0h1M1267 0h1M1413 0h5M1422 0h1M1526 0h1M1562 0h1M1589 0h1M1599 0h1"/>
<path stroke="#f5f5fd" d="M339 0h9M520 0h15M776 0h22M807 0h16M835 0h6M843 0h1M1011 0h1M1220 0h5M1244 0h14M1355 0h1M1363 0h1M1418 0h4M1527 0h7M1549 0h7M1706 0h5M1816 0h1"/>
<path stroke="#c20606" d="M353 0h1M1088 0h8"/>
<path stroke="#eaa9a9" d="M354 0h1M658 0h1M915 0h1M1027 0h1M1083 0h1M1130 0h1M1403 0h1M1557 0h1"/>
<path stroke="#e59696" d="M366 0h1M663 0h1M1559 0h1M1640 0h1"/>
<path stroke="#de7979" d="M367 0h1M941 0h1M1014 0h1M1228 0h1M1288 0h1M1571 0h1M1631 0h6M1650 0h1"/>
<path stroke="#fefafa" d="M370 0h1M440 0h1M450 0h1M630 0h1M709 0h1M763 0h1M856 0h1M939 0h1M983 0h1M1072 0h1M1114 0h1M1234 0h1M1277 0h1M1348 0h5M1410 0h1M1463 0h1M1480 0h1"/>
<path stroke="#faecec" d="M395 0h10M409 0h1M419 0h1M457 0h1M635 0h2M681 0h1M702 0h1M714 0h1M744 0h1M770 0h1M935 0h1M1078 0h1M1080 0h1M1116 0h10M1233 0h1M1321 0h1M1388 0h1M1428 0h1M1474 0h1M1676 0h1M1724 0h1M1727 0h1M1732 0h1"/>
<path stroke="#f7dede" d="M405 0h1M413 0h1M696 0h1M750 0h1M854 0h1M1112 0h1M1141 0h1M1169 0h1M1318 0h1M1334 0h1M1476 0h1"/>
<path stroke="#e38c8c" d="M462 0h1M855 0h1M949 0h1M1346 0h1M1515 0h1M1569 0h1M1585 0h1"/>
<path stroke="#c61919" d="M463 0h1M585 0h1M758 0h1M942 0h1M1646 0h4"/>
<path stroke="#ecb2b2" d="M502 0h1M607 0h1M755 0h1M944 0h2M1013 0h1M1015 0h1M1019 0h1M1022 0h1M1033 0h5M1052 0h3M1056 0h1M1131 0h1M1459 0h1M1469 0h1M1519 0h1M1568 0h1M1630 0h1M1643 0h1M1679 0h1M1684 0h1M1751 0h1"/>
<path stroke="#bcbcee" d="M541 0h1M565 0h1M568 0h16M996 0h7"/>
<path stroke="#b2b2ec" d="M542 0h1"/>
<path stroke="#9696e5" d="M566 0h1"/>
<path stroke="#d96666" d="M664 0h1M1229 0h1M1331 0h1M1671 0h1M1720 0h1"/>
<path stroke="#f3cfcf" d="M754 0h1M841 0h1M986 0h2M1140 0h1M1145 0h1M1170 0h1M1227 0h1M1295 0h1M1319 0h1M1333 0h1M1347 0h1M1495 0h1M1565 0h1M1595 0h1M1672 0h2M1721 0h1M1761 0h1M1773 0h1"/>
<path stroke="#dedef7" d="M803 0h1M1693 0h2"/>
<path stroke="#d9d9f6" d="M845 0h9M1209 0h1M1242 0h1M1261 0h1M1442 0h4M1543 0h1M1611 0h9"/>
<path stroke="#e2e2f8" d="M907 0h2M1259 0h2M1263 0h4M1435 0h4"/>
<path stroke="#e7e7f9" d="M1003 0h8M1173 0h8M1208 0h1M1211 0h7M1243 0h1M1439 0h1M1517 0h1M1697 0h8"/>
<path stroke="#e08383" d="M1087 0h1M1504 0h11M1597 0h1"/>
<path stroke="#d04040" d="M1155 0h1M1458 0h1M1581 0h4M1596 0h1M1654 0h1"/>
<path stroke="#dcdcdc" d="M1340 0h5M1398 0h5M1451 0h6"/>
<path stroke="#d45353" d="M1404 0h1M1572 0h3"/>
<path stroke="#e8e8e8" d="M1520 0h3M1716 0h3"/>
<path stroke="#cb2d2d" d="M1524 0h1M1558 0h1M1575 0h5M1641 0h1M1645 0h1M1651 0h3"/>
<path stroke="#d75c5c" d="M1525 0h1"/>
<path stroke="#cd3636" d="M1580 0h1"/>
</g>
<g transform="translate(0 538.5)" stroke-width="37">
<path stroke="#f8e2e2" d="M294 0h1M309 0h5M364 0h1M411 0h1M461 0h1M631 0h2M671 0h1M744 0h2M840 0h1M850 0h2M864 0h7M906 0h2M989 0h1M1023 0h1M1026 0h1M1028 0h1M1262 0h1M1347 0h1M1428 0h1M1431 0h1M1444 0h2M1457 0h1M1462 0h1M1562 0h1M1580 0h4M1707 0h2M1760 0h1M1773 0h1"/>
<path stroke="#f6d9d9" d="M295 0h2M299 0h1M303 0h1M369 0h1M373 0h1M408 0h1M436 0h1M589 0h1M635 0h1M647 0h1M652 0h1M738 0h1M803 0h1M986 0h1M1024 0h2M1045 0h1M1112 0h1M1326 0h1M1409 0h1M1415 0h1M1442 0h1M1475 0h1M1496 0h1M1563 0h1M1571 0h1M1604 0h12M1619 0h1M1692 0h1M1746 0h1"/>
<path stroke="#fdf5f5" d="M297 0h1M363 0h1M368 0h1M370 0h2M413 0h1M525 0h1M670 0h1M677 0h1M737 0h1M739 0h1M871 0h1M883 0h21M982 0h1M1044 0h1M1060 0h1M1113 0h1M1177 0h1M1242 0h20M1264 0h4M1324 0h1M1345 0h1M1414 0h1M1416 0h1M1420 0h1M1433 0h1M1461 0h1M1470 0h1M1474 0h1M1476 0h1M1487 0h6M1534 0h1M1661 0h9M1694 0h1"/>
<path stroke="#faecec" d="M298 0h1M308 0h1M316 0h1M355 0h8M366 0h1M407 0h1M514 0h1M523 0h1M598 0h1M630 0h1M646 0h1M672 0h1M674 0h1M985 0h1M1061 0h2M1098 0h14M1421 0h5M1434 0h3M1468 0h1M1481 0h1M1536 0h1M1570 0h1M1584 0h1M1688 0h1M1771 0h1"/>
<path stroke="#e79f9f" d="M304 0h1M365 0h1M372 0h1M396 0h3M406 0h1M513 0h1M601 0h1M604 0h2M610 0h1M624 0h1M755 0h1M759 0h1M987 0h2M1018 0h2M1033 0h1M1037 0h1M1131 0h1M1170 0h1M1298 0h1M1325 0h1M1403 0h1M1429 0h1M1505 0h2M1512 0h1M1567 0h1M1649 0h1M1685 0h3M1693 0h1M1726 0h1M1772 0h1"/>
<path stroke="#f7dede" d="M305 0h1M314 0h1M543 0h1M596 0h1M642 0h1M666 0h1M804 0h1M829 0h11M969 0h1M984 0h1M1031 0h1M1084 0h1M1263 0h1M1287 0h1M1319 0h1M1333 0h1M1639 0h1"/>
<path stroke="#f1c6c6" d="M306 0h1M315 0h1M405 0h1M420 0h1M428 0h1M431 0h1M524 0h1M542 0h1M612 0h3M616 0h1M665 0h1M675 0h2M751 0h4M762 0h1M904 0h2M963 0h1M1027 0h1M1127 0h1M1241 0h1M1297 0h1M1330 0h1M1406 0h1M1427 0h1M1469 0h1M1482 0h2M1572 0h2M1594 0h1M1600 0h4M1674 0h1M1759 0h1M1776 0h3M1801 0h1"/>
<path stroke="#fefafa" d="M307 0h1M454 0h1M544 0h12M588 0h1M615 0h1M653 0h1M763 0h1M882 0h1M1068 0h14M1114 0h10M1126 0h1M1407 0h1M1410 0h1M1463 0h1M1743 0h3"/>
<path stroke="#fafafe" d="M318 0h1M690 0h12M708 0h1M715 0h9M770 0h30M821 0h1M1157 0h1M1207 0h18M1548 0h1M1812 0h1"/>
<path stroke="#f5f5fd" d="M319 0h18M338 0h1M485 0h1M683 0h4M809 0h12M1158 0h10M1539 0h1M1697 0h9M1803 0h1"/>
<path stroke="#ececfa" d="M339 0h6M705 0h3M1387 0h1"/>
<path stroke="#f9e7e7" d="M352 0h1M378 0h1M527 0h1M534 0h1M636 0h1M641 0h1M668 0h1M757 0h1M761 0h1M801 0h1M863 0h1M968 0h1M1128 0h1M1318 0h1M1334 0h1M1405 0h1M1411 0h1M1574 0h1M1592 0h1M1644 0h1M1750 0h1"/>
<path stroke="#c20606" d="M353 0h1M758 0h1M1088 0h8"/>
<path stroke="#eaa9a9" d="M354 0h1M447 0h2M633 0h1M1138 0h17M1156 0h1M1236 0h5M1459 0h1M1504 0h1M1560 0h1M1616 0h1"/>
<path stroke="#ecb2b2" d="M379 0h13M412 0h1M438 0h2M512 0h1M518 0h1M528 0h1M533 0h1M659 0h1M667 0h1M802 0h1M844 0h1M847 0h1M880 0h1M1040 0h4M1274 0h1M1296 0h1M1346 0h1M1412 0h1M1432 0h1M1493 0h1M1509 0h1M1515 0h1M1535 0h1M1556 0h1M1564 0h1M1593 0h1M1645 0h3M1727 0h1M1751 0h1M1761 0h3M1767 0h1"/>
<path stroke="#cb2d2d" d="M392 0h4M944 0h1M1051 0h2M1054 0h1M1174 0h1M1228 0h1M1458 0h1M1514 0h1M1519 0h1M1575 0h3M1641 0h1"/>
<path stroke="#eebcbc" d="M399 0h6M440 0h1M449 0h5M508 0h1M519 0h1M564 0h1M566 0h1M586 0h1M617 0h4M634 0h1M856 0h1M879 0h1M881 0h1M1020 0h1M1034 0h3M1168 0h1M1295 0h1M1494 0h1M1550 0h1M1555 0h1M1568 0h1M1681 0h2"/>
<path stroke="#e59696" d="M421 0h1M567 0h1M603 0h1M606 0h1M1578 0h1M1617 0h1M1640 0h1M1696 0h1M1723 0h3"/>
<path stroke="#de7979" d="M429 0h2M599 0h1M949 0h1M1021 0h1M1038 0h1M1197 0h2M1331 0h1M1513 0h1M1565 0h1M1675 0h4M1720 0h1M1770 0h1"/>
<path stroke="#f3cfcf" d="M432 0h4M507 0h1M584 0h1M595 0h1M623 0h1M750 0h1M854 0h1M857 0h1M980 0h1M983 0h1M1046 0h4M1083 0h1M1130 0h1M1137 0h1M1276 0h1M1289 0h1M1299 0h1M1430 0h1M1441 0h1M1484 0h1M1495 0h1M1551 0h1M1557 0h1M1566 0h1M1620 0h6M1747 0h1M1775 0h1"/>
<path stroke="#fbf1f1" d="M437 0h1M529 0h1M532 0h1M590 0h1M594 0h1M621 0h1M651 0h1M828 0h1M961 0h1M1039 0h1M1178 0h15M1196 0h1M1306 0h2M1332 0h1M1408 0h1M1413 0h1M1426 0h1M1579 0h1M1752 0h1M1766 0h1"/>
<path stroke="#e08383" d="M459 0h1M563 0h1M658 0h1M841 0h1M846 0h1M1087 0h1M1559 0h1M1637 0h1M1736 0h1"/>
<path stroke="#d96666" d="M460 0h1M607 0h3M842 0h2M855 0h1M962 0h1M1014 0h1M1193 0h1M1233 0h1M1508 0h1M1518 0h1M1648 0h1M1695 0h1M1729 0h2M1735 0h1"/>
<path stroke="#e38c8c" d="M462 0h1M600 0h1M602 0h1M663 0h1M941 0h1M981 0h1M1032 0h1M1169 0h1M1229 0h1M1275 0h1M1516 0h2M1595 0h1M1630 0h1M1638 0h1M1683 0h2M1722 0h1M1728 0h1M1768 0h1"/>
<path stroke="#c61919" d="M463 0h1M585 0h1M942 0h1M1055 0h1M1172 0h2M1558 0h1M1672 0h2"/>
<path stroke="#e2e2f8" d="M486 0h4M915 0h1M1538 0h1M1802 0h1"/>
<path stroke="#e7e7f9" d="M490 0h1M940 0h1M1542 0h1M1799 0h1"/>
<path stroke="#d75c5c" d="M664 0h1M1679 0h1"/>
<path stroke="#f1f1fb" d="M704 0h1M724 0h7M1393 0h1"/>
<path stroke="#d9d9f6" d="M916 0h24M1199 0h1M1361 0h3M1537 0h1M1816 0h1"/>
<path stroke="#d45353" d="M943 0h1M946 0h3M1015 0h2M1155 0h1M1195 0h1M1288 0h1M1569 0h1M1635 0h2M1680 0h1M1721 0h1M1731 0h1"/>
<path stroke="#d04040" d="M945 0h1M1022 0h1M1056 0h4M1194 0h1M1234 0h2M1404 0h1M1511 0h1M1596 0h3M1631 0h3M1769 0h1"/>
<path stroke="#cfcff3" d="M950 0h1M1360 0h1"/>
<path stroke="#a9a9ea" d="M951 0h4M1388 0h1M1531 0h2M1784 0h1"/>
<path stroke="#b2b2ec" d="M955 0h1M1357 0h1M1798 0h1"/>
<path stroke="#c6c6f1" d="M995 0h1M1358 0h2M1533 0h1M1540 0h2M1813 0h3"/>
<path stroke="#bcbcee" d="M996 0h18M1200 0h1M1354 0h1M1526 0h1M1549 0h1M1552 0h2"/>
<path stroke="#dc7070" d="M1017 0h1M1507 0h1M1510 0h1"/>
<path stroke="#d24949" d="M1050 0h1M1599 0h1M1634 0h1M1671 0h1"/>
<path stroke="#cd3636" d="M1053 0h1M1732 0h3"/>
<path stroke="#dcdcdc" d="M1340 0h5M1398 0h5M1451 0h6"/>
<path stroke="#9696e5" d="M1355 0h2"/>
<path stroke="#8383e0" d="M1364 0h1"/>
<path stroke="#7979de" d="M1365 0h22M1389 0h4"/>
<path stroke="#e8e8e8" d="M1520 0h3M1716 0h3"/>
<path stroke="#dedef7" d="M1525 0h1M1527 0h1M1530 0h1"/>
<path stroke="#9f9fe7" d="M1785 0h13"/>
</g>
<g transform="translate(0 575.5)" stroke-width="37">
<path stroke="#fafafe" d="M293 0h13M354 0h1M561 0h8M759 0h1M934 0h15M1005 0h7M1127 0h1M1230 0h7M1286 0h9M1319 0h16M1503 0h1M1514 0h5M1590 0h6M1630 0h1M1640 0h1M1644 0h1M1646 0h1M1672 0h1M1724 0h3M1762 0h1M1764 0h1"/>
<path stroke="#fefafa" d="M319 0h1M374 0h1M384 0h1M429 0h33M464 0h21M535 0h1M546 0h1M709 0h10M756 0h1M762 0h1M765 0h1M812 0h2M823 0h1M829 0h12M842 0h1M848 0h1M856 0h1M871 0h1M924 0h1M929 0h1M950 0h1M983 0h1M986 0h1M1016 0h1M1018 0h1M1026 0h1M1044 0h1M1107 0h1M1115 0h1M1166 0h2M1180 0h1M1190 0h2M1211 0h1M1220 0h1M1242 0h1M1300 0h1M1307 0h1M1317 0h1M1393 0h1M1416 0h1M1457 0h1M1465 0h1M1471 0h1M1475 0h1M1526 0h9M1536 0h1M1569 0h2M1574 0h12M1682 0h7M1693 0h6M1709 0h1M1729 0h1M1743 0h11"/>
<path stroke="#fbf1f1" d="M320 0h32M355 0h10M376 0h1M428 0h1M531 0h1M547 0h8M583 0h1M641 0h11M659 0h4M680 0h1M708 0h1M760 0h1M775 0h1M806 0h6M978 0h3M1045 0h5M1181 0h3M1206 0h5M1218 0h1M1241 0h1M1301 0h6M1430 0h1M1459 0h1M1461 0h4M1476 0h1M1480 0h1M1699 0h6M1708 0h1M1756 0h5M1789 0h1M1802 0h1M1804 0h1M1816 0h1"/>
<path stroke="#ececfa" d="M353 0h1M1003 0h1M1598 0h1M1655 0h1"/>
<path stroke="#fdf5f5" d="M365 0h1M423 0h1M485 0h1M532 0h3M577 0h1M584 0h15M663 0h2M677 0h3M771 0h1M814 0h9M876 0h1M901 0h8M927 0h1M975 0h1M977 0h1M984 0h1M1020 0h1M1099 0h3M1103 0h1M1108 0h7M1116 0h1M1125 0h1M1168 0h8M1177 0h1M1184 0h1M1186 0h4M1225 0h1M1237 0h1M1265 0h1M1277 0h2M1284 0h1M1347 0h6M1404 0h7M1414 0h2M1417 0h1M1433 0h13M1460 0h1M1466 0h1M1468 0h2M1479 0h1M1483 0h15M1537 0h7M1567 0h1M1573 0h1M1599 0h1M1611 0h1M1661 0h10M1705 0h1M1707 0h1M1723 0h1M1727 0h1M1755 0h1M1761 0h1M1779 0h10M1791 0h11M1805 0h6"/>
<path stroke="#f6d9d9" d="M366 0h1M368 0h1M375 0h1M381 0h1M394 0h5M761 0h1M770 0h1M896 0h3M923 0h1M982 0h1M1219 0h1M1364 0h1M1374 0h12M1412 0h1M1458 0h1M1467 0h1M1477 0h1M1572 0h1"/>
<path stroke="#ecb2b2" d="M367 0h1M380 0h1M399 0h3M623 0h8M1638 0h1"/>
<path stroke="#eebcbc" d="M371 0h1M391 0h1M631 0h1M882 0h1"/>
<path stroke="#d45353" d="M372 0h2M889 0h2"/>
<path stroke="#f1c6c6" d="M378 0h1M405 0h1M610 0h13M632 0h4M764 0h1M768 0h1M786 0h1M1560 0h1M1635 0h1"/>
<path stroke="#eaa9a9" d="M379 0h1M390 0h1M895 0h1M1636 0h2"/>
<path stroke="#f8e2e2" d="M382 0h1M385 0h5M522 0h5M653 0h5M697 0h11M785 0h1M849 0h7M873 0h3M916 0h6M928 0h1M966 0h9M985 0h1M1021 0h4M1040 0h4M1176 0h1M1223 0h2M1228 0h2M1275 0h2M1308 0h9M1354 0h10M1386 0h7M1470 0h1M1481 0h1M1566 0h1M1721 0h2M1728 0h1"/>
<path stroke="#d96666" d="M383 0h1"/>
<path stroke="#e59696" d="M402 0h1"/>
<path stroke="#e38c8c" d="M403 0h2M885 0h1M893 0h1M1604 0h1"/>
<path stroke="#f3cfcf" d="M406 0h9M878 0h4M1365 0h9M1561 0h1"/>
<path stroke="#faecec" d="M415 0h1M424 0h4M506 0h15M528 0h3M578 0h5M658 0h1M665 0h12M740 0h16M767 0h1M843 0h5M857 0h14M872 0h1M951 0h10M981 0h1M1017 0h1M1025 0h1M1027 0h13M1050 0h13M1104 0h1M1117 0h8M1157 0h1M1192 0h5M1198 0h1M1212 0h1M1222 0h1M1238 0h3M1243 0h17M1266 0h1M1274 0h1M1279 0h5M1411 0h1M1413 0h1M1418 0h12M1482 0h1M1571 0h1M1790 0h1M1811 0h5"/>
<path stroke="#f5f5fd" d="M462 0h1M757 0h2M961 0h3M1002 0h1M1082 0h3M1086 0h10M1131 0h1M1641 0h3M1650 0h1M1673 0h1M1731 0h5M1763 0h1"/>
<path stroke="#e2e2f8" d="M463 0h1"/>
<path stroke="#f9e7e7" d="M486 0h16M521 0h1M527 0h1M652 0h1M681 0h12M696 0h1M763 0h1M769 0h1M788 0h14M803 0h1M877 0h1M915 0h1M922 0h1M965 0h1M1158 0h8M1197 0h1M1213 0h1M1260 0h1M1353 0h1M1478 0h1M1565 0h1M1639 0h1M1720 0h1M1803 0h1"/>
<path stroke="#f7dede" d="M636 0h1M776 0h9M787 0h1M804 0h1M899 0h1M1562 0h1"/>
<path stroke="#e79f9f" d="M883 0h2M894 0h1M1600 0h4M1608 0h3"/>
<path stroke="#de7979" d="M886 0h2M892 0h1"/>
<path stroke="#dc7070" d="M888 0h1M891 0h1"/>
<path stroke="#f1f1fb" d="M1128 0h3M1504 0h10M1549 0h10M1647 0h3"/>
<path stroke="#dcdcdc" d="M1340 0h5M1398 0h5M1451 0h6"/>
<path stroke="#e8e8e8" d="M1520 0h3M1716 0h3"/>
<path stroke="#e7e7f9" d="M1596 0h2M1631 0h3"/>
<path stroke="#e08383" d="M1605 0h3"/>
<path stroke="#c6c6f1" d="M1651 0h4"/>
</g>
<g transform="translate(0 612.5)" stroke-width="37">
<path stroke="#dedef7" d="M292 0h1M640 0h1M650 0h1M1302 0h13M1760 0h3M1773 0h3"/>
<path stroke="#9696e5" d="M293 0h1M1318 0h8"/>
<path stroke="#a9a9ea" d="M294 0h1M1290 0h11"/>
<path stroke="#e7e7f9" d="M295 0h8M1517 0h1M1694 0h1M1776 0h1"/>
<path stroke="#f1f1fb" d="M303 0h1M846 0h1M970 0h1M1112 0h2M1442 0h1M1549 0h6M1566 0h1M1582 0h1M1631 0h9M1643 0h13M1777 0h30M1816 0h1"/>
<path stroke="#f9e7e7" d="M305 0h1M323 0h1M392 0h7M442 0h1M829 0h1M888 0h1M898 0h1M945 0h1M1049 0h1M1141 0h1M1159 0h1M1459 0h1M1484 0h1M1599 0h1M1695 0h1M1709 0h1"/>
<path stroke="#f1c6c6" d="M306 0h1M322 0h1M369 0h7M389 0h3M399 0h6M406 0h1M410 0h1M413 0h1M485 0h1M513 0h1M534 0h1M624 0h1M646 0h1M663 0h1M809 0h1M822 0h1M830 0h3M881 0h1M887 0h1M918 0h4M944 0h1M1025 0h1M1035 0h1M1060 0h1M1087 0h1M1137 0h1M1164 0h1M1222 0h1M1239 0h9M1404 0h1M1458 0h1M1557 0h1M1680 0h1M1684 0h1"/>
<path stroke="#fefafa" d="M307 0h1M321 0h1M468 0h1M484 0h1M717 0h10M729 0h1M760 0h8M771 0h37M810 0h3M815 0h3M886 0h1M924 0h1M940 0h1M943 0h1M971 0h19M1024 0h1M1044 0h1M1072 0h1M1175 0h1M1405 0h7M1416 0h1M1424 0h1M1460 0h18M1489 0h1M1510 0h4M1539 0h1M1576 0h6M1600 0h19M1681 0h1"/>
<path stroke="#faecec" d="M325 0h1M535 0h1M632 0h4M664 0h1M728 0h1M813 0h1M821 0h1M1136 0h1M1191 0h1M1230 0h1M1238 0h1M1428 0h1M1487 0h1M1490 0h4M1620 0h1"/>
<path stroke="#fdf5f5" d="M326 0h1M520 0h1M525 0h1M527 0h1M533 0h1M597 0h14M631 0h1M636 0h1M756 0h1M770 0h1M820 0h1M823 0h1M883 0h1M885 0h1M925 0h15M1015 0h9M1046 0h3M1138 0h1M1167 0h1M1177 0h1M1192 0h1M1414 0h1M1417 0h7M1457 0h1M1480 0h1M1504 0h3M1536 0h3M1619 0h1M1640 0h1M1671 0h8M1720 0h1"/>
<path stroke="#f3cfcf" d="M345 0h1M355 0h11M379 0h10M437 0h1M558 0h1M587 0h9M644 0h1M670 0h1M749 0h1M833 0h1M878 0h1M917 0h1M1053 0h4M1059 0h1M1234 0h1M1248 0h1M1495 0h1M1559 0h1M1597 0h1M1665 0h2M1705 0h1"/>
<path stroke="#eebcbc" d="M346 0h1M352 0h1M368 0h1M376 0h1M556 0h1M626 0h1M750 0h1M1026 0h9M1041 0h1M1051 0h1M1153 0h1M1156 0h1M1219 0h1M1596 0h1M1661 0h4M1687 0h1M1729 0h1"/>
<path stroke="#f6d9d9" d="M351 0h1M407 0h2M411 0h2M467 0h1M526 0h1M557 0h1M584 0h1M596 0h1M612 0h12M727 0h1M754 0h2M769 0h1M814 0h1M834 0h1M884 0h1M922 0h1M1052 0h1M1073 0h1M1213 0h6M1223 0h5M1231 0h3M1236 0h1M1413 0h1M1427 0h1M1430 0h1M1478 0h1M1486 0h1M1496 0h1M1641 0h1M1721 0h1"/>
<path stroke="#cb2d2d" d="M353 0h1M1354 0h4"/>
<path stroke="#e79f9f" d="M354 0h1M366 0h1M377 0h1M409 0h1M628 0h1M648 0h1M880 0h1M895 0h1M1058 0h1M1165 0h1M1228 0h2M1235 0h1M1364 0h1M1558 0h1"/>
<path stroke="#de7979" d="M367 0h1M645 0h1M890 0h1M1146 0h1M1155 0h1M1730 0h1"/>
<path stroke="#ecb2b2" d="M378 0h1M414 0h1M462 0h1M514 0h1M519 0h1M555 0h1M586 0h1M629 0h1M647 0h1M819 0h1M941 0h1M1039 0h1M1220 0h2M1429 0h1"/>
<path stroke="#e59696" d="M405 0h1M675 0h1M1154 0h1"/>
<path stroke="#f8e2e2" d="M415 0h1M486 0h1M518 0h1M730 0h1M738 0h2M753 0h1M808 0h1M835 0h1M1061 0h1M1080 0h1M1160 0h4M1176 0h1M1403 0h1M1481 0h3M1679 0h1M1696 0h3M1707 0h2"/>
<path stroke="#fafafe" d="M430 0h1M453 0h1M481 0h1M1098 0h12M1114 0h1M1127 0h1M1268 0h1M1315 0h1M1384 0h9M1519 0h1M1525 0h1M1541 0h3M1590 0h1M1630 0h1M1642 0h1M1723 0h5"/>
<path stroke="#e2e2f8" d="M431 0h1M654 0h1M1274 0h3M1526 0h1M1584 0h1M1693 0h1"/>
<path stroke="#f5f5fd" d="M432 0h1M454 0h1M480 0h1M542 0h4M842 0h1M847 0h1M904 0h5M1007 0h7M1111 0h1M1128 0h3M1431 0h11M1527 0h1M1575 0h1M1591 0h3"/>
<path stroke="#f7dede" d="M438 0h1M441 0h1M818 0h1M897 0h1M1140 0h1M1166 0h1M1212 0h1M1598 0h1M1704 0h1M1706 0h1"/>
<path stroke="#d96666" d="M463 0h1M673 0h2M891 0h2M942 0h1"/>
<path stroke="#fbf1f1" d="M466 0h1M487 0h15M515 0h1M649 0h1M731 0h1M768 0h1M1057 0h1M1074 0h1M1081 0h1M1412 0h1M1479 0h1M1699 0h5"/>
<path stroke="#d04040" d="M585 0h1M1358 0h6"/>
<path stroke="#d45353" d="M625 0h1M757 0h1M879 0h1M952 0h1M1050 0h1M1564 0h1"/>
<path stroke="#8c8ce3" d="M641 0h3"/>
<path stroke="#cfcff3" d="M651 0h1M863 0h8M996 0h11M1132 0h1M1278 0h10M1735 0h1M1742 0h16"/>
<path stroke="#ececfa" d="M652 0h2M656 0h6M841 0h1M959 0h11M1258 0h10M1273 0h1M1289 0h1M1567 0h8M1766 0h7M1807 0h9"/>
<path stroke="#d9d9f6" d="M655 0h1M862 0h1M871 0h1M995 0h1M1131 0h1M1277 0h1M1288 0h1M1443 0h3"/>
<path stroke="#d24949" d="M671 0h2"/>
<path stroke="#e38c8c" d="M758 0h1M894 0h1M953 0h1M1040 0h1M1565 0h1M1685 0h2"/>
<path stroke="#eaa9a9" d="M893 0h1M1042 0h2"/>
<path stroke="#e08383" d="M1088 0h8M1147 0h1"/>
<path stroke="#b2b2ec" d="M1301 0h1"/>
<path stroke="#9f9fe7" d="M1317 0h1M1583 0h1M1736 0h5"/>
<path stroke="#7070dc" d="M1326 0h1"/>
<path stroke="#5c5cd7" d="M1327 0h8"/>
<path stroke="#1919c6" d="M1335 0h1"/>
<path stroke="#7979de" d="M1336 0h1"/>
<path stroke="#dcdcdc" d="M1340 0h5M1398 0h5M1451 0h6"/>
<path stroke="#dc7070" d="M1353 0h1"/>
<path stroke="#c6c6f1" d="M1518 0h1M1763 0h3"/>
<path stroke="#e8e8e8" d="M1520 0h3M1716 0h3"/>
<path stroke="#bcbcee" d="M1741 0h1M1758 0h2"/>
</g>
<g transform="translate(0 649.5)" stroke-width="37">
<path stroke="#fdf5f5" d="M293 0h6M308 0h1M310 0h1M312 0h1M316 0h1M318 0h1M337 0h1M375 0h1M382 0h1M419 0h1M421 0h1M432 0h1M599 0h1M651 0h1M666 0h1M709 0h1M731 0h1M776 0h1M831 0h1M872 0h1M878 0h1M943 0h1M981 0h1M1110 0h1M1172 0h3M1184 0h2M1233 0h1M1235 0h1M1299 0h1M1332 0h1M1359 0h1M1361 0h1M1413 0h1M1415 0h1M1470 0h1M1474 0h1M1476 0h1M1525 0h1M1527 0h1M1575 0h1M1579 0h2M1619 0h1M1631 0h1M1645 0h5M1683 0h1M1685 0h1M1746 0h1M1763 0h1M1800 0h1"/>
<path stroke="#f9e7e7" d="M299 0h1M562 0h1M762 0h1M770 0h1M790 0h1M811 0h1M843 0h1M847 0h1M863 0h1M899 0h1M908 0h1M952 0h1M1128 0h1M1157 0h1M1165 0h1M1197 0h1M1210 0h1M1218 0h1M1238 0h1M1295 0h1M1318 0h1M1334 0h1M1431 0h1M1437 0h1M1536 0h1M1541 0h1M1599 0h1M1632 0h8M1655 0h1M1678 0h1"/>
<path stroke="#f6d9d9" d="M300 0h1M305 0h1M309 0h1M317 0h1M322 0h1M355 0h7M409 0h1M420 0h1M464 0h1M542 0h1M584 0h1M665 0h1M765 0h1M781 0h1M799 0h1M819 0h1M888 0h1M891 0h1M1015 0h1M1082 0h1M1084 0h1M1169 0h1M1222 0h1M1234 0h1M1330 0h1M1346 0h1M1360 0h1M1406 0h1M1427 0h1M1462 0h1M1475 0h1M1481 0h1M1496 0h1M1538 0h1M1556 0h1M1573 0h1M1674 0h1M1684 0h1M1693 0h1"/>
<path stroke="#fbf1f1" d="M304 0h1M323 0h1M394 0h2M404 0h1M487 0h1M610 0h2M685 0h2M738 0h2M757 0h1M782 0h1M818 0h1M839 0h1M889 0h1M919 0h1M964 0h2M1168 0h1M1221 0h1M1241 0h1M1347 0h1M1405 0h1M1461 0h1M1482 0h1M1487 0h1M1510 0h3M1515 0h1M1550 0h2M1560 0h8M1572 0h1M1692 0h1M1747 0h1M1762 0h1"/>
<path stroke="#fefafa" d="M306 0h1M321 0h1M338 0h1M364 0h1M430 0h1M766 0h1M774 0h1M780 0h1M809 0h1M820 0h1M829 0h1M880 0h2M883 0h1M887 0h1M929 0h1M931 0h1M983 0h1M1044 0h19M1112 0h1M1122 0h1M1124 0h1M1126 0h1M1138 0h10M1167 0h1M1170 0h2M1175 0h1M1183 0h1M1186 0h1M1220 0h1M1223 0h1M1236 0h1M1345 0h1M1386 0h1M1388 0h1M1407 0h1M1417 0h1M1433 0h1M1463 0h1M1480 0h1M1516 0h1M1534 0h1M1570 0h1M1574 0h1M1644 0h1M1651 0h1M1680 0h1M1694 0h1M1772 0h7"/>
<path stroke="#f1c6c6" d="M313 0h1M586 0h1M759 0h1M763 0h1M810 0h1M949 0h1M1127 0h1M1166 0h1M1219 0h1M1237 0h1M1412 0h1M1432 0h1M1469 0h1M1518 0h1M1535 0h1M1559 0h1M1569 0h1M1581 0h1M1592 0h1M1679 0h1M1719 0h1"/>
<path stroke="#faecec" d="M314 0h1M352 0h1M363 0h1M374 0h1M381 0h1M408 0h1M543 0h1M598 0h1M652 0h1M710 0h1M730 0h1M764 0h1M862 0h1M873 0h1M882 0h1M892 0h1M900 0h1M907 0h1M930 0h1M953 0h1M1083 0h1M1123 0h1M1198 0h1M1298 0h1M1387 0h1M1411 0h1M1428 0h1M1438 0h1M1457 0h1M1468 0h1M1526 0h1M1539 0h1M1542 0h1M1576 0h3M1582 0h1M1620 0h1M1673 0h1M1764 0h1M1801 0h1"/>
<path stroke="#cb2d2d" d="M353 0h1"/>
<path stroke="#e79f9f" d="M354 0h1M463 0h1M1331 0h1M1770 0h1"/>
<path stroke="#f7dede" d="M362 0h1M563 0h1M659 0h1M768 0h1M789 0h1M798 0h1M803 0h1M842 0h1M846 0h1M1158 0h1M1211 0h1M1296 0h1M1319 0h1M1333 0h1M1507 0h1M1568 0h1M1598 0h1M1670 0h1"/>
<path stroke="#f8e2e2" d="M405 0h1M431 0h1M486 0h1M775 0h1M830 0h1M838 0h1M856 0h1M879 0h1M920 0h1M945 0h1M950 0h1M982 0h1M1013 0h1M1097 0h2M1111 0h1M1129 0h2M1240 0h1M1257 0h2M1287 0h1M1416 0h1M1441 0h2M1444 0h2M1486 0h1M1593 0h1M1652 0h3M1761 0h1"/>
<path stroke="#ecb2b2" d="M462 0h1M944 0h1M1085 0h1M1514 0h1M1696 0h1"/>
<path stroke="#d04040" d="M585 0h1M1558 0h1M1596 0h1M1769 0h1"/>
<path stroke="#f3cfcf" d="M658 0h1M804 0h1M854 0h1M1227 0h1M1289 0h1M1495 0h1M1508 0h1M1513 0h1M1672 0h1M1721 0h1"/>
<path stroke="#e59696" d="M663 0h1"/>
<path stroke="#dc7070" d="M664 0h1"/>
<path stroke="#de7979" d="M758 0h1M942 0h1M1014 0h1M1229 0h1M1404 0h1"/>
<path stroke="#e38c8c" d="M769 0h1M1087 0h1"/>
<path stroke="#d96666" d="M855 0h1M1288 0h1M1519 0h1M1641 0h1M1720 0h1"/>
<path stroke="#eebcbc" d="M941 0h1M1226 0h1M1403 0h1M1459 0h1"/>
<path stroke="#c92323" d="M1088 0h8"/>
<path stroke="#d45353" d="M1155 0h1M1458 0h1M1671 0h1"/>
<path stroke="#eaa9a9" d="M1156 0h1M1557 0h1M1640 0h1"/>
<path stroke="#e08383" d="M1228 0h1M1597 0h1M1695 0h1"/>
<path stroke="#f5f5fd" d="M1322 0h1"/>
<path stroke="#ececfa" d="M1323 0h1"/>
<path stroke="#dcdcdc" d="M1340 0h5M1398 0h5M1451 0h6"/>
<path stroke="#e8e8e8" d="M1520 0h3M1716 0h3"/>
</g>
<g transform="translate(0 687)" stroke-width="38">
<path stroke="#e79f9f" d="M294 0h1M309 0h1M354 0h1M368 0h1M738 0h1M745 0h5M1019 0h1M1026 0h13M1056 0h1M1277 0h1M1510 0h1M1516 0h1M1528 0h1M1538 0h1M1649 0h2M1674 0h3M1728 0h1M1751 0h1M1759 0h1M1762 0h1M1766 0h1M1799 0h1"/>
<path stroke="#f1c6c6" d="M295 0h1M316 0h1M438 0h1M451 0h2M460 0h2M631 0h1M659 0h1M674 0h1M701 0h1M704 0h4M714 0h8M803 0h1M836 0h1M944 0h4M1057 0h6M1128 0h1M1172 0h1M1289 0h1M1387 0h1M1409 0h1M1412 0h1M1505 0h2M1558 0h1M1574 0h1M1600 0h1M1736 0h1"/>
<path stroke="#ecb2b2" d="M296 0h1M298 0h1M306 0h3M311 0h1M366 0h1M369 0h1M414 0h1M440 0h1M447 0h1M453 0h1M542 0h1M629 0h1M703 0h1M740 0h5M821 0h1M1137 0h1M1147 0h7M1181 0h1M1227 0h1M1232 0h1M1296 0h1M1406 0h1M1507 0h1M1512 0h1M1673 0h1M1723 0h1M1729 0h1M1747 0h1M1761 0h1"/>
<path stroke="#f8e2e2" d="M299 0h1M415 0h1M429 0h2M480 0h2M518 0h1M555 0h2M628 0h1M630 0h1M668 0h1M675 0h1M800 0h2M820 0h1M830 0h3M837 0h1M844 0h1M856 0h1M913 0h1M1016 0h1M1024 0h1M1182 0h1M1234 0h1M1405 0h1M1457 0h1M1529 0h1M1725 0h1M1727 0h1M1764 0h1M1767 0h1M1798 0h1"/>
<path stroke="#f3cfcf" d="M304 0h1M312 0h1M315 0h1M410 0h3M442 0h1M459 0h1M496 0h1M584 0h1M608 0h1M700 0h1M722 0h10M797 0h1M915 0h1M948 0h1M1169 0h1M1241 0h1M1504 0h1M1511 0h1M1519 0h1M1539 0h1M1585 0h1M1672 0h1M1724 0h1M1765 0h1M1775 0h1"/>
<path stroke="#e38c8c" d="M305 0h1M407 0h1M462 0h1M663 0h1M739 0h1M750 0h4M847 0h1M1044 0h1M1513 0h1M1561 0h1M1570 0h1M1645 0h4M1732 0h1M1735 0h1M1801 0h1"/>
<path stroke="#eebcbc" d="M310 0h1M313 0h1M408 0h1M413 0h1M435 0h1M448 0h1M586 0h1M702 0h1M708 0h6M1015 0h1M1235 0h6M1760 0h1M1763 0h1M1800 0h1"/>
<path stroke="#f7dede" d="M314 0h1M409 0h1M497 0h1M543 0h1M602 0h1M677 0h1M848 0h1M1013 0h1M1474 0h1M1630 0h1M1644 0h1M1670 0h1"/>
<path stroke="#eaa9a9" d="M317 0h1M437 0h1M658 0h1M759 0h1M804 0h1M941 0h1M950 0h1M1025 0h1M1171 0h1M1300 0h1M1403 0h1M1459 0h1M1475 0h6M1581 0h4M1722 0h1"/>
<path stroke="#fefafa" d="M319 0h33M468 0h1M632 0h1M667 0h1M687 0h9M760 0h8M805 0h1M843 0h1M1098 0h17M1157 0h12M1173 0h7M1279 0h8M1410 0h1M1420 0h1M1661 0h8M1742 0h4M1776 0h13"/>
<path stroke="#f9e7e7" d="M352 0h1M519 0h1M603 0h1M676 0h1M680 0h1M754 0h1M845 0h2M916 0h12M1233 0h1M1408 0h1M1562 0h1M1730 0h1"/>
<path stroke="#cb2d2d" d="M353 0h1M392 0h3M758 0h1M942 0h1M1155 0h1M1458 0h1M1596 0h3M1641 0h1M1769 0h1"/>
<path stroke="#f6d9d9" d="M355 0h8M439 0h1M443 0h1M454 0h1M467 0h1M609 0h1M624 0h1M635 0h1M798 0h1M854 0h1M943 0h1M1021 0h3M1154 0h1M1278 0h1M1287 0h1M1515 0h1M1590 0h1M1726 0h1M1731 0h1M1748 0h3M1774 0h1M1790 0h1"/>
<path stroke="#faecec" d="M363 0h1M623 0h1M681 0h1M732 0h1M757 0h1M833 0h1M1017 0h1M1129 0h1M1309 0h10M1388 0h1M1411 0h1M1527 0h1M1591 0h1M1752 0h1"/>
<path stroke="#e08383" d="M367 0h1M374 0h9M1087 0h1M1226 0h1M1307 0h1M1523 0h1M1534 0h1M1595 0h1M1696 0h1"/>
<path stroke="#dc7070" d="M383 0h9M1228 0h1M1571 0h1"/>
<path stroke="#de7979" d="M395 0h4M855 0h1M1138 0h3M1304 0h3M1535 0h1M1565 0h1M1569 0h1M1580 0h1M1639 0h1M1685 0h2M1720 0h1"/>
<path stroke="#d45353" d="M399 0h8M664 0h1M949 0h1M1014 0h1M1039 0h5M1229 0h1M1299 0h1M1404 0h1M1486 0h3M1514 0h1M1567 0h2M1631 0h7M1640 0h1M1671 0h1M1678 0h4M1721 0h1"/>
<path stroke="#f1f1fb" d="M419 0h1M422 0h6M544 0h10M672 0h1M910 0h1M1011 0h1M1068 0h1M1115 0h1M1186 0h1M1243 0h1M1268 0h1"/>
<path stroke="#d9d9f6" d="M420 0h1M673 0h1M768 0h1M896 0h1M990 0h1M1348 0h10M1423 0h11M1444 0h1"/>
<path stroke="#ececfa" d="M421 0h1M1124 0h3M1131 0h1M1274 0h1M1327 0h1M1347 0h1M1443 0h1"/>
<path stroke="#f5f5fd" d="M428 0h1M1083 0h4M1117 0h1M1123 0h1M1276 0h1M1371 0h2"/>
<path stroke="#e59696" d="M436 0h1M1045 0h11M1156 0h1M1295 0h1M1481 0h1M1508 0h1M1564 0h1M1599 0h1M1687 0h1M1770 0h1"/>
<path stroke="#d04040" d="M463 0h1M1288 0h1M1575 0h5M1695 0h1"/>
<path stroke="#fbf1f1" d="M466 0h1M822 0h1M1231 0h1M1303 0h1M1413 0h1M1789 0h1"/>
<path stroke="#fafafe" d="M498 0h20M520 0h16M771 0h5M1127 0h1M1207 0h18M1373 0h1M1711 0h1"/>
<path stroke="#cfcff3" d="M564 0h1M892 0h4M932 0h1M951 0h1M1130 0h1M1434 0h1M1445 0h1M1655 0h1M1692 0h1"/>
<path stroke="#8383e0" d="M565 0h1M570 0h1M906 0h4M1461 0h1"/>
<path stroke="#6666d9" d="M566 0h1M769 0h1M890 0h1M995 0h16"/>
<path stroke="#9696e5" d="M568 0h1"/>
<path stroke="#7979de" d="M569 0h1M1460 0h1"/>
<path stroke="#c61919" d="M585 0h1"/>
<path stroke="#fdf5f5" d="M634 0h1M636 0h1M669 0h1M737 0h1M806 0h14M829 0h1M1020 0h1M1180 0h1M1386 0h1M1407 0h1M1414 0h6M1509 0h1M1517 0h1M1746 0h1M1772 0h2M1791 0h1M1802 0h1"/>
<path stroke="#e2e2f8" d="M770 0h1M786 0h1M899 0h1M994 0h1M1069 0h12M1275 0h1M1328 0h4M1359 0h5M1422 0h1M1707 0h4"/>
<path stroke="#dedef7" d="M776 0h10M891 0h1M1200 0h1M1358 0h1M1463 0h1"/>
<path stroke="#3636cd" d="M841 0h2"/>
<path stroke="#c6c6f1" d="M862 0h1M900 0h6M929 0h3M964 0h26M1116 0h1M1187 0h13M1336 0h1M1364 0h1M1370 0h1"/>
<path stroke="#b2b2ec" d="M863 0h26M1244 0h24M1365 0h5M1435 0h4"/>
<path stroke="#8c8ce3" d="M889 0h1M1693 0h2"/>
<path stroke="#d96666" d="M914 0h1M1018 0h1M1170 0h1M1482 0h4M1572 0h2M1638 0h1M1651 0h4M1677 0h1M1683 0h2M1733 0h2"/>
<path stroke="#a9a9ea" d="M952 0h9M1441 0h1"/>
<path stroke="#e7e7f9" d="M963 0h1M1081 0h1M1706 0h1"/>
<path stroke="#c20606" d="M1088 0h8M1520 0h3"/>
<path stroke="#d24949" d="M1141 0h6M1491 0h7M1560 0h1"/>
<path stroke="#bcbcee" d="M1332 0h1M1439 0h1M1465 0h1M1656 0h1"/>
<path stroke="#9f9fe7" d="M1333 0h3"/>
<path stroke="#dcdcdc" d="M1340 0h5M1398 0h5M1451 0h6"/>
<path stroke="#2d2dcb" d="M1442 0h1"/>
<path stroke="#5353d4" d="M1464 0h1"/>
<path stroke="#d75c5c" d="M1489 0h1M1559 0h1M1566 0h1M1682 0h1"/>
<path stroke="#cd3636" d="M1490 0h1"/>
<path stroke="#e8e8e8" d="M1716 0h3"/>
</g>
<g transform="translate(0 724.5)" stroke-width="37">
<path stroke="#fefafa" d="M323 0h1M415 0h1M419 0h33M461 0h1M613 0h15M829 0h12M915 0h23M943 0h1M1238 0h1M1348 0h45M1437 0h1M1524 0h1"/>
<path stroke="#fdf5f5" d="M324 0h1M452 0h9M466 0h1M469 0h1M471 0h1M474 0h1M630 0h2M688 0h1M844 0h10M938 0h1M1234 0h1M1239 0h7M1428 0h1M1504 0h12M1525 0h19M1644 0h1M1688 0h1"/>
<path stroke="#fafafe" d="M351 0h1M606 0h1M994 0h1M1167 0h7M1268 0h1M1518 0h1M1694 0h1"/>
<path stroke="#e2e2f8" d="M352 0h1M591 0h1M593 0h1M605 0h1M607 0h5M759 0h1M887 0h1M1069 0h6M1078 0h4M1247 0h21"/>
<path stroke="#f3cfcf" d="M353 0h1M686 0h1M1138 0h4M1441 0h1M1519 0h1M1566 0h1M1650 0h2"/>
<path stroke="#e79f9f" d="M354 0h1M463 0h1M1237 0h1M1418 0h1M1442 0h1M1567 0h1"/>
<path stroke="#f6d9d9" d="M355 0h8M464 0h1M470 0h1M944 0h1M948 0h1M968 0h12M1408 0h1M1423 0h2M1438 0h3M1645 0h5"/>
<path stroke="#f8e2e2" d="M363 0h1M629 0h1M980 0h1M985 0h4M1046 0h17M1137 0h1M1425 0h1M1429 0h5M1443 0h3"/>
<path stroke="#faecec" d="M364 0h7M467 0h1M476 0h1M632 0h1M949 0h1M967 0h1M981 0h4M989 0h1M1235 0h1"/>
<path stroke="#fbf1f1" d="M371 0h44M628 0h1M945 0h1M1142 0h12M1422 0h1M1674 0h14"/>
<path stroke="#e7e7f9" d="M462 0h1M587 0h3M592 0h1M1246 0h1M1289 0h1M1561 0h3M1727 0h1"/>
<path stroke="#f1c6c6" d="M475 0h1M939 0h1M1236 0h1M1565 0h1"/>
<path stroke="#f5f5fd" d="M541 0h1M586 0h1M612 0h1M757 0h1M888 0h13M1157 0h10"/>
<path stroke="#dedef7" d="M542 0h21M565 0h19M594 0h11M842 0h1M995 0h15M1640 0h1M1721 0h1"/>
<path stroke="#d9d9f6" d="M563 0h1M590 0h1M877 0h1M879 0h2M883 0h1M886 0h1M941 0h1M1075 0h1M1087 0h1M1404 0h1M1693 0h1M1728 0h1"/>
<path stroke="#cfcff3" d="M564 0h1M663 0h1M841 0h1M882 0h1M885 0h1M1154 0h1M1459 0h1M1517 0h1M1557 0h1M1696 0h1M1770 0h1"/>
<path stroke="#7070dc" d="M584 0h1"/>
<path stroke="#4040d0" d="M585 0h1"/>
<path stroke="#bcbcee" d="M664 0h1M1155 0h1M1228 0h1M1559 0h1M1641 0h1M1671 0h1M1695 0h1"/>
<path stroke="#e38c8c" d="M687 0h1"/>
<path stroke="#b2b2ec" d="M758 0h1M942 0h1M1088 0h8M1229 0h1"/>
<path stroke="#c6c6f1" d="M855 0h2M878 0h1M881 0h1M884 0h1M1077 0h1M1597 0h1M1719 0h2"/>
<path stroke="#f1f1fb" d="M901 0h9M1068 0h1M1082 0h5M1457 0h1M1516 0h1M1549 0h8M1670 0h1M1692 0h1"/>
<path stroke="#f9e7e7" d="M940 0h1M1045 0h1M1434 0h1M1564 0h1"/>
<path stroke="#ecb2b2" d="M1010 0h1M1585 0h1M1652 0h1"/>
<path stroke="#d04040" d="M1011 0h2M1410 0h1M1416 0h2M1571 0h1M1574 0h2"/>
<path stroke="#d45353" d="M1013 0h1M1305 0h1M1576 0h1M1579 0h1M1582 0h1M1653 0h2"/>
<path stroke="#7979de" d="M1076 0h1"/>
<path stroke="#ececfa" d="M1287 0h1M1403 0h1M1560 0h1M1672 0h1M1722 0h5M1729 0h7"/>
<path stroke="#a9a9ea" d="M1288 0h1M1596 0h1"/>
<path stroke="#eaa9a9" d="M1304 0h1"/>
<path stroke="#dcdcdc" d="M1340 0h5M1398 0h5M1451 0h6"/>
<path stroke="#d24949" d="M1409 0h1"/>
<path stroke="#c92323" d="M1411 0h5"/>
<path stroke="#8c8ce3" d="M1458 0h1"/>
<path stroke="#c20606" d="M1520 0h3"/>
<path stroke="#e08383" d="M1523 0h1"/>
<path stroke="#1919c6" d="M1558 0h1"/>
<path stroke="#de7979" d="M1570 0h1M1583 0h2"/>
<path stroke="#cb2d2d" d="M1572 0h1"/>
<path stroke="#c61919" d="M1573 0h1"/>
<path stroke="#d96666" d="M1577 0h2M1655 0h1"/>
<path stroke="#cd3636" d="M1580 0h2"/>
<path stroke="#e8e8e8" d="M1716 0h3"/>
<path stroke="#9f9fe7" d="M1769 0h1"/>
</g>
<g transform="translate(0 761.5)" stroke-width="37">
<path stroke="#f5f5fd" d="M293 0h39M367 0h18M398 0h17M420 0h19M441 0h21M759 0h1M1378 0h1M1393 0h1M1459 0h7M1548 0h1M1557 0h1"/>
<path stroke="#fafafe" d="M334 0h12M387 0h4M397 0h1M415 0h1M419 0h1M439 0h1M757 0h1M880 0h29M1207 0h18M1360 0h7"/>
<path stroke="#f1f1fb" d="M346 0h1M366 0h1M393 0h3M1403 0h1M1414 0h1M1476 0h3M1594 0h1"/>
<path stroke="#ececfa" d="M347 0h19M462 0h7M663 0h1M855 0h1M1011 0h1M1416 0h1M1418 0h1M1479 0h1M1803 0h1"/>
<path stroke="#e2e2f8" d="M469 0h1M758 0h1M1367 0h1M1404 0h1M1422 0h1M1467 0h8M1727 0h1M1804 0h1"/>
<path stroke="#dedef7" d="M470 0h5M540 0h1"/>
<path stroke="#d9d9f6" d="M475 0h1M479 0h5M917 0h1M1008 0h3M1068 0h1M1228 0h1M1251 0h1M1370 0h1M1721 0h1M1728 0h1"/>
<path stroke="#cfcff3" d="M476 0h3M484 0h4M537 0h1M1415 0h1M1711 0h1M1724 0h1M1790 0h1"/>
<path stroke="#c6c6f1" d="M488 0h1M494 0h3M523 0h2M1081 0h1M1230 0h1M1236 0h1M1282 0h1M1368 0h2M1377 0h1M1379 0h4M1417 0h1M1532 0h1M1598 0h1M1693 0h1M1722 0h1M1795 0h1"/>
<path stroke="#b2b2ec" d="M489 0h5M497 0h12M516 0h6M525 0h1M918 0h1M1069 0h12M1160 0h1M1164 0h1M1229 0h1M1231 0h1M1239 0h3M1273 0h1M1284 0h1M1359 0h1M1372 0h5M1423 0h1M1446 0h1M1694 0h3M1726 0h1M1792 0h1M1796 0h1"/>
<path stroke="#a9a9ea" d="M509 0h2M514 0h2M526 0h11M1058 0h5M1156 0h1M1163 0h1M1235 0h1M1347 0h12M1383 0h10M1424 0h1M1797 0h1"/>
<path stroke="#bcbcee" d="M511 0h3M522 0h1M1161 0h1M1200 0h1M1287 0h1M1346 0h1M1595 0h3M1723 0h1M1735 0h1M1798 0h1"/>
<path stroke="#9696e5" d="M541 0h27M574 0h1M1169 0h1M1174 0h1M1178 0h1M1180 0h1M1192 0h1M1242 0h7M1425 0h4M1528 0h1M1549 0h8M1697 0h1M1719 0h2M1730 0h5"/>
<path stroke="#5c5cd7" d="M568 0h1"/>
<path stroke="#0606c2" d="M569 0h1M1703 0h3"/>
<path stroke="#5353d4" d="M570 0h1M578 0h1M1707 0h2"/>
<path stroke="#6666d9" d="M575 0h1M579 0h1M1250 0h1M1278 0h1"/>
<path stroke="#2d2dcb" d="M576 0h1M1698 0h5M1709 0h1"/>
<path stroke="#1919c6" d="M577 0h1M1706 0h1M1710 0h1"/>
<path stroke="#7979de" d="M580 0h4M1277 0h1"/>
<path stroke="#8383e0" d="M584 0h1M1179 0h1M1252 0h16"/>
<path stroke="#fdf5f5" d="M643 0h9M657 0h1M688 0h7M704 0h27M739 0h4M777 0h1M792 0h1M818 0h1M920 0h17M939 0h1M959 0h12M990 0h1M1014 0h13M1102 0h15M1289 0h18M1316 0h6M1409 0h1M1413 0h1M1504 0h14M1534 0h9M1625 0h1M1640 0h1M1743 0h7M1758 0h9"/>
<path stroke="#fefafa" d="M652 0h1M658 0h1M660 0h1M667 0h1M760 0h17M816 0h1M820 0h1M940 0h1M1013 0h1M1101 0h1M1117 0h1M1119 0h13M1288 0h1M1335 0h1M1518 0h1M1543 0h1M1560 0h5M1630 0h1M1742 0h1M1767 0h1"/>
<path stroke="#faecec" d="M653 0h4M659 0h1M676 0h1M695 0h1M744 0h1M778 0h3M785 0h1M791 0h1M798 0h6M957 0h1M971 0h1M979 0h1M1410 0h3M1750 0h7M1772 0h4"/>
<path stroke="#e7e7f9" d="M664 0h1M856 0h1M994 0h1M1268 0h1M1371 0h1M1466 0h1M1475 0h1M1480 0h18M1736 0h1M1794 0h1"/>
<path stroke="#fbf1f1" d="M668 0h7M677 0h9M748 0h2M781 0h1M787 0h1M810 0h1M814 0h1M937 0h1M941 0h14M980 0h10M1027 0h1M1044 0h5M1323 0h12M1610 0h9M1631 0h9M1757 0h1M1771 0h1M1784 0h6"/>
<path stroke="#f8e2e2" d="M675 0h1M786 0h1M811 0h1M819 0h1M938 0h1M1028 0h13M1051 0h1M1620 0h5M1777 0h6"/>
<path stroke="#f9e7e7" d="M696 0h1M745 0h1M956 0h1M972 0h7M1285 0h1M1308 0h7M1600 0h9M1619 0h1M1776 0h1M1783 0h1M1799 0h1"/>
<path stroke="#f6d9d9" d="M784 0h1M815 0h1M1041 0h1M1052 0h1"/>
<path stroke="#9f9fe7" d="M915 0h2M1157 0h3M1162 0h1M1165 0h4M1175 0h3M1181 0h10M1193 0h4M1232 0h1M1234 0h1M1524 0h1M1529 0h3M1729 0h1M1791 0h1"/>
<path stroke="#8c8ce3" d="M995 0h13M1170 0h4M1191 0h1M1197 0h3M1233 0h1M1249 0h1M1274 0h3M1279 0h3M1429 0h17M1525 0h3"/>
<path stroke="#d45353" d="M1042 0h1M1237 0h1M1678 0h1"/>
<path stroke="#eebcbc" d="M1043 0h1"/>
<path stroke="#cb2d2d" d="M1049 0h1M1813 0h1"/>
<path stroke="#e59696" d="M1050 0h1M1805 0h1"/>
<path stroke="#ecb2b2" d="M1053 0h1M1283 0h1M1725 0h1"/>
<path stroke="#c61919" d="M1054 0h3M1814 0h2"/>
<path stroke="#f1c6c6" d="M1057 0h1M1793 0h1M1801 0h2"/>
<path stroke="#f3cfcf" d="M1238 0h1M1519 0h1M1800 0h1"/>
<path stroke="#e79f9f" d="M1286 0h1"/>
<path stroke="#dcdcdc" d="M1340 0h5M1398 0h5M1451 0h6"/>
<path stroke="#c20606" d="M1520 0h3M1681 0h3"/>
<path stroke="#e08383" d="M1523 0h1"/>
<path stroke="#dc7070" d="M1565 0h1"/>
<path stroke="#d24949" d="M1566 0h6M1810 0h3"/>
<path stroke="#d04040" d="M1572 0h13"/>
<path stroke="#e38c8c" d="M1585 0h1M1688 0h1"/>
<path stroke="#c41010" d="M1679 0h2M1684 0h4"/>
<path stroke="#e8e8e8" d="M1716 0h3"/>
<path stroke="#de7979" d="M1806 0h3"/>
<path stroke="#d96666" d="M1809 0h1"/>
<path stroke="#d75c5c" d="M1816 0h1"/>
</g>
<g transform="translate(0 798.5)" stroke-width="37">
<path stroke="#fefafa" d="M293 0h1M314 0h1M370 0h1M587 0h18M621 0h1M631 0h1M980 0h1M1124 0h1M1126 0h1M1129 0h1M1140 0h14M1274 0h25M1329 0h1M1457 0h1M1463 0h1M1468 0h1M1470 0h1M1476 0h10M1518 0h1M1524 0h6M1600 0h24M1639 0h1M1688 0h1M1698 0h1M1796 0h1M1802 0h1"/>
<path stroke="#fdf5f5" d="M294 0h20M364 0h6M623 0h8M659 0h1M759 0h1M770 0h1M778 0h1M847 0h1M1016 0h1M1229 0h1M1232 0h2M1303 0h14M1334 0h1M1461 0h1M1504 0h4M1559 0h1M1561 0h1M1592 0h1M1679 0h1M1722 0h5M1767 0h1"/>
<path stroke="#fafafe" d="M330 0h1M347 0h5M354 0h1M479 0h1M499 0h1M518 0h1M528 0h1M543 0h7M566 0h1M575 0h1M641 0h17M660 0h3M666 0h65M737 0h20M857 0h8M873 0h1M875 0h34M916 0h24M1015 0h1M1069 0h18M1173 0h1M1175 0h2M1178 0h1M1267 0h1M1364 0h24M1393 0h1M1404 0h23M1443 0h1M1535 0h1M1700 0h1M1729 0h1"/>
<path stroke="#e7e7f9" d="M331 0h15M551 0h4M568 0h7M1263 0h1M1359 0h1M1530 0h1"/>
<path stroke="#f5f5fd" d="M346 0h1M478 0h1M498 0h1M519 0h1M529 0h1M995 0h20M1159 0h1M1163 0h1M1187 0h1M1347 0h5M1363 0h1M1428 0h13"/>
<path stroke="#f1f1fb" d="M355 0h8M557 0h3M1164 0h1M1177 0h1M1257 0h5M1360 0h3M1536 0h7M1549 0h3"/>
<path stroke="#f6d9d9" d="M377 0h1M395 0h4M403 0h1M463 0h1M834 0h2M942 0h1M1039 0h5M1050 0h1M1057 0h6M1325 0h1M1333 0h1M1458 0h1M1486 0h1M1512 0h1M1514 0h1M1517 0h1M1556 0h1M1558 0h1M1585 0h1M1632 0h6M1682 0h2M1799 0h1"/>
<path stroke="#f3cfcf" d="M378 0h7M399 0h4M664 0h1M833 0h1M949 0h1M1056 0h1M1088 0h8M1331 0h1M1487 0h6M1519 0h1M1695 0h1"/>
<path stroke="#f8e2e2" d="M385 0h7M758 0h1M1017 0h13M1044 0h6M1130 0h1M1462 0h1M1493 0h5M1508 0h1M1553 0h2M1565 0h5M1593 0h3M1672 0h7M1697 0h1M1770 0h1M1800 0h1M1814 0h2"/>
<path stroke="#ecb2b2" d="M392 0h3M842 0h1M1570 0h1M1580 0h1"/>
<path stroke="#faecec" d="M462 0h1M658 0h1M768 0h1M777 0h1M840 0h1M846 0h1M941 0h1M981 0h1M1030 0h9M1125 0h1M1230 0h2M1319 0h5M1330 0h1M1469 0h1M1511 0h1M1513 0h1M1562 0h1M1631 0h1M1642 0h1M1649 0h1M1655 0h1M1719 0h3M1766 0h1M1797 0h2M1804 0h10M1816 0h1"/>
<path stroke="#ececfa" d="M562 0h4M567 0h1M867 0h1M1160 0h1M1174 0h1M1186 0h1M1441 0h1M1533 0h1"/>
<path stroke="#f9e7e7" d="M606 0h5M803 0h1M828 0h1M837 0h3M950 0h1M1087 0h1M1196 0h4M1234 0h2M1324 0h1M1327 0h1M1564 0h1M1596 0h1M1638 0h1M1643 0h6M1661 0h8M1671 0h1M1681 0h1M1685 0h3M1728 0h1M1735 0h1"/>
<path stroke="#fbf1f1" d="M611 0h10M961 0h2M1131 0h1M1200 0h1M1236 0h1M1332 0h1M1459 0h1M1516 0h1M1640 0h2M1762 0h4M1803 0h1"/>
<path stroke="#f7dede" d="M663 0h1M804 0h1M836 0h1M1650 0h1M1684 0h1M1696 0h1M1727 0h1M1736 0h1"/>
<path stroke="#f1c6c6" d="M769 0h1M829 0h4M841 0h1M843 0h1M1051 0h5M1328 0h1M1509 0h1M1557 0h1M1651 0h4M1769 0h1M1801 0h1"/>
<path stroke="#e2e2f8" d="M868 0h3M1264 0h3M1352 0h1M1531 0h2M1699 0h1M1730 0h1"/>
<path stroke="#d9d9f6" d="M871 0h1M1243 0h14M1442 0h1"/>
<path stroke="#c6c6f1" d="M872 0h1"/>
<path stroke="#dedef7" d="M1242 0h1M1353 0h6M1388 0h5"/>
<path stroke="#dcdcdc" d="M1340 0h5M1398 0h5M1451 0h6"/>
<path stroke="#c20606" d="M1520 0h3"/>
<path stroke="#e08383" d="M1523 0h1"/>
<path stroke="#e79f9f" d="M1571 0h9"/>
<path stroke="#eebcbc" d="M1581 0h4"/>
<path stroke="#e8e8e8" d="M1716 0h3"/>
</g>
<g transform="translate(0 835.5)" stroke-width="37">
<path stroke="#ecb2b2" d="M293 0h1M302 0h1M307 0h11M542 0h8M598 0h1M764 0h1M769 0h1M777 0h3M783 0h4M793 0h3M798 0h3M915 0h1M1021 0h2M1024 0h9M1166 0h1M1171 0h1M1173 0h1M1231 0h1M1250 0h1M1295 0h1M1373 0h1M1528 0h1M1565 0h2M1583 0h2M1677 0h1"/>
<path stroke="#eaa9a9" d="M294 0h8M323 0h23M363 0h1M438 0h1M517 0h1M614 0h5M770 0h2M787 0h1M925 0h1M934 0h5M1033 0h1M1212 0h1M1244 0h5M1603 0h1M1727 0h1M1750 0h1"/>
<path stroke="#f3cfcf" d="M306 0h1M375 0h4M636 0h1M708 0h1M853 0h1M939 0h1M1172 0h1M1321 0h3M1406 0h1M1411 0h4M1420 0h1M1560 0h1M1570 0h4M1585 0h1M1594 0h1M1600 0h3M1711 0h1M1722 0h1"/>
<path stroke="#e38c8c" d="M318 0h1M405 0h4M439 0h1M599 0h6M624 0h7M752 0h2M773 0h3M782 0h1M788 0h5M807 0h6M1010 0h1M1162 0h1M1238 0h4M1562 0h1M1567 0h1M1731 0h1M1743 0h2"/>
<path stroke="#d45353" d="M319 0h3M454 0h1M673 0h1M882 0h1M1242 0h1M1504 0h3M1577 0h1"/>
<path stroke="#e79f9f" d="M322 0h1M409 0h1M452 0h1M474 0h1M518 0h3M613 0h1M737 0h8M761 0h3M772 0h1M776 0h1M780 0h1M830 0h1M916 0h8M1129 0h1M1161 0h1M1165 0h1M1197 0h1M1237 0h1M1374 0h14M1510 0h1M1612 0h5M1728 0h1M1747 0h1M1806 0h1"/>
<path stroke="#fefafa" d="M346 0h1M430 0h1M440 0h1M819 0h1M838 0h1M866 0h1M1126 0h1M1130 0h1M1393 0h1M1426 0h1M1482 0h10M1514 0h1M1518 0h1M1643 0h1"/>
<path stroke="#fafafe" d="M347 0h5M475 0h27M551 0h12M994 0h1M1144 0h1M1252 0h15M1354 0h1M1357 0h7M1631 0h1M1636 0h1M1789 0h10M1804 0h1"/>
<path stroke="#cfcff3" d="M352 0h1M666 0h6M1222 0h1M1287 0h1M1557 0h1M1595 0h1M1651 0h1M1670 0h1M1697 0h1"/>
<path stroke="#0606c2" d="M353 0h10M758 0h1M942 0h1M1088 0h8M1288 0h1M1458 0h1M1519 0h4M1558 0h1M1596 0h1M1769 0h1"/>
<path stroke="#dc7070" d="M364 0h10M404 0h1M522 0h5M674 0h1M1174 0h1M1198 0h1M1662 0h1"/>
<path stroke="#e59696" d="M374 0h1M379 0h1M451 0h1M465 0h9M605 0h1M609 0h4M623 0h1M751 0h1M806 0h1M821 0h1M933 0h1M1191 0h1M1243 0h1M1277 0h9M1423 0h3M1511 0h1M1678 0h10"/>
<path stroke="#c41010" d="M380 0h24M712 0h6M1051 0h3M1663 0h5"/>
<path stroke="#f1c6c6" d="M410 0h5M436 0h1M514 0h1M530 0h1M606 0h3M619 0h4M709 0h2M755 0h2M765 0h4M818 0h1M829 0h1M1007 0h3M1012 0h1M1016 0h1M1056 0h1M1127 0h1M1131 0h1M1149 0h1M1157 0h1M1175 0h6M1211 0h1M1294 0h1M1300 0h19M1348 0h3M1364 0h1M1421 0h2M1524 0h1M1563 0h2M1576 0h1M1591 0h3M1618 0h6M1688 0h1M1723 0h4M1729 0h2M1742 0h1M1746 0h1M1807 0h7"/>
<path stroke="#f9e7e7" d="M415 0h1M541 0h1M727 0h1M754 0h1M828 0h1M856 0h1M1023 0h1M1132 0h1M1145 0h3M1150 0h1M1347 0h1M1649 0h1M1668 0h1M1673 0h1M1676 0h1"/>
<path stroke="#f5f5fd" d="M427 0h1M948 0h13M985 0h6M1013 0h1M1119 0h1M1276 0h1M1325 0h1M1328 0h1M1355 0h2M1549 0h2M1632 0h4"/>
<path stroke="#ececfa" d="M428 0h2M582 0h1M665 0h1M995 0h12M1068 0h1M1182 0h1M1190 0h1M1206 0h1M1210 0h1M1274 0h2M1320 0h1M1335 0h1M1352 0h1M1475 0h1M1698 0h1M1761 0h1M1799 0h1"/>
<path stroke="#eebcbc" d="M431 0h5M441 0h5M512 0h1M515 0h2M550 0h1M587 0h11M675 0h29M760 0h1M833 0h1M1128 0h1M1158 0h3M1365 0h8M1388 0h5M1407 0h3M1617 0h1M1706 0h1M1745 0h1M1749 0h1M1815 0h1"/>
<path stroke="#fdf5f5" d="M437 0h1M631 0h1M736 0h1M801 0h1M817 0h1M1018 0h1M1167 0h1M1169 0h1M1236 0h1M1286 0h1M1299 0h1M1351 0h1M1515 0h3M1529 0h1M1536 0h1M1646 0h1M1732 0h1"/>
<path stroke="#d75c5c" d="M446 0h5M453 0h1M528 0h2M711 0h1M883 0h7M1047 0h1M1814 0h1"/>
<path stroke="#d96666" d="M455 0h2M527 0h1M822 0h1M831 0h2M877 0h1M1048 0h2M1122 0h4M1503 0h1M1582 0h1"/>
<path stroke="#e08383" d="M457 0h1M802 0h1M926 0h7M1170 0h1M1480 0h1M1509 0h1M1526 0h1M1604 0h8"/>
<path stroke="#fbf1f1" d="M461 0h1M804 0h1M1121 0h1M1230 0h1M1533 0h1M1645 0h1"/>
<path stroke="#c6c6f1" d="M462 0h1M563 0h1M565 0h1M839 0h6M867 0h10M1319 0h1M1330 0h5M1762 0h6M1775 0h1M1787 0h1"/>
<path stroke="#1919c6" d="M463 0h1M728 0h1M1404 0h1M1641 0h1M1671 0h1"/>
<path stroke="#f8e2e2" d="M464 0h1M745 0h6M857 0h9M924 0h1M1019 0h2M1148 0h1M1151 0h2M1163 0h1M1232 0h1M1297 0h1M1493 0h5M1525 0h1M1537 0h1M1555 0h2M1647 0h2M1674 0h2M1736 0h1M1751 0h3"/>
<path stroke="#cb2d2d" d="M502 0h4M1039 0h8M1054 0h1M1580 0h2"/>
<path stroke="#d04040" d="M506 0h1M509 0h3M718 0h9M1055 0h1M1507 0h2M1578 0h1"/>
<path stroke="#de7979" d="M507 0h1M521 0h1M781 0h1M796 0h2M803 0h1M1192 0h5M1199 0h1M1249 0h1M1512 0h1M1527 0h1M1575 0h1M1805 0h1"/>
<path stroke="#d24949" d="M508 0h1M878 0h4M890 0h1M1034 0h5M1476 0h4"/>
<path stroke="#f6d9d9" d="M513 0h1M814 0h1M852 0h1M896 0h1M1164 0h1M1290 0h4M1296 0h1M1324 0h1M1410 0h1M1513 0h1M1644 0h1M1748 0h1"/>
<path stroke="#d9d9f6" d="M531 0h3M576 0h6M1221 0h1M1223 0h1M1326 0h2M1329 0h1M1559 0h1"/>
<path stroke="#e7e7f9" d="M534 0h1M650 0h1M729 0h1M757 0h1M965 0h1M1183 0h7M1207 0h1M1755 0h1M1757 0h1"/>
<path stroke="#bcbcee" d="M564 0h1M1140 0h4M1534 0h1M1672 0h1M1721 0h1M1772 0h1M1776 0h11"/>
<path stroke="#e2e2f8" d="M575 0h1M815 0h1M1015 0h1M1085 0h1M1457 0h1M1460 0h15M1756 0h1"/>
<path stroke="#4949d2" d="M584 0h1"/>
<path stroke="#5c5cd7" d="M585 0h1"/>
<path stroke="#f7dede" d="M586 0h1M704 0h1M813 0h1M1011 0h1M1181 0h1M1415 0h5M1569 0h1M1599 0h1M1653 0h2"/>
<path stroke="#faecec" d="M632 0h4M637 0h1M672 0h1M705 0h3M1017 0h1M1168 0h1M1233 0h3M1492 0h1M1530 0h3M1538 0h1M1574 0h1M1590 0h1M1624 0h1M1735 0h1M1754 0h1"/>
<path stroke="#3636cd" d="M648 0h1M1597 0h1"/>
<path stroke="#5353d4" d="M649 0h1M943 0h1M1346 0h1M1652 0h1"/>
<path stroke="#dedef7" d="M651 0h12M1069 0h16M1699 0h7M1800 0h4"/>
<path stroke="#7070dc" d="M663 0h1"/>
<path stroke="#4040d0" d="M664 0h1M1695 0h1"/>
<path stroke="#9f9fe7" d="M759 0h1M941 0h1M1523 0h1"/>
<path stroke="#6666d9" d="M816 0h1M1154 0h1"/>
<path stroke="#c61919" d="M834 0h4M1709 0h2"/>
<path stroke="#9696e5" d="M854 0h1M1345 0h1M1459 0h1"/>
<path stroke="#8383e0" d="M855 0h1M1087 0h1M1228 0h1"/>
<path stroke="#c92323" d="M891 0h5M1050 0h1"/>
<path stroke="#f1f1fb" d="M897 0h13M966 0h19M1098 0h21M1139 0h1M1209 0h1M1213 0h8M1273 0h1M1427 0h19"/>
<path stroke="#a9a9ea" d="M961 0h4M1719 0h1"/>
<path stroke="#7979de" d="M1014 0h1"/>
<path stroke="#2323c9" d="M1155 0h1M1229 0h1"/>
<path stroke="#b2b2ec" d="M1289 0h1M1535 0h1"/>
<path stroke="#dcdcdc" d="M1340 0h5M1398 0h5M1451 0h6"/>
<path stroke="#8c8ce3" d="M1403 0h1M1640 0h1M1696 0h1M1768 0h1M1771 0h1"/>
<path stroke="#cd3636" d="M1579 0h1M1707 0h2"/>
<path stroke="#e8e8e8" d="M1716 0h3"/>
<path stroke="#2d2dcb" d="M1720 0h1"/>
<path stroke="#1010c4" d="M1770 0h1"/>
</g>
<g transform="translate(0 872.5)" stroke-width="37">
<path stroke="#b2b2ec" d="M293 0h1M818 0h5M962 0h1M1074 0h1M1166 0h1M1289 0h1M1363 0h1M1446 0h1M1458 0h1M1537 0h7"/>
<path stroke="#a9a9ea" d="M294 0h21M348 0h1M896 0h1M1536 0h1M1719 0h1M1721 0h1"/>
<path stroke="#f1f1fb" d="M315 0h1M839 0h1M866 0h1M910 0h1M1509 0h1M1723 0h1"/>
<path stroke="#fefafa" d="M316 0h17M465 0h10M541 0h4M587 0h14M651 0h6M660 0h3M832 0h1M1121 0h1M1126 0h1M1158 0h8M1173 0h18M1213 0h1M1225 0h1M1236 0h1M1274 0h13M1307 0h1M1317 0h1M1330 0h1M1365 0h21M1407 0h1M1413 0h1M1415 0h1M1417 0h1M1476 0h1M1479 0h1M1624 0h1M1632 0h8M1677 0h1M1771 0h1"/>
<path stroke="#f5f5fd" d="M333 0h1M1300 0h1M1324 0h1M1351 0h1M1386 0h1M1508 0h1"/>
<path stroke="#7070dc" d="M334 0h14M867 0h26"/>
<path stroke="#3636cd" d="M352 0h1"/>
<path stroke="#0606c2" d="M353 0h10M758 0h1M954 0h2M1088 0h8M1288 0h1M1404 0h1M1519 0h4M1558 0h1M1596 0h2"/>
<path stroke="#f6d9d9" d="M363 0h1M519 0h6M642 0h1M829 0h1M833 0h1M923 0h1M932 0h1M936 0h1M979 0h1M988 0h1M1132 0h1M1191 0h1M1232 0h1M1321 0h3M1480 0h1M1607 0h1M1617 0h1M1705 0h1M1710 0h1M1766 0h1"/>
<path stroke="#eebcbc" d="M364 0h6M527 0h1M529 0h1M1122 0h1M1148 0h1M1308 0h9M1319 0h1M1816 0h1"/>
<path stroke="#de7979" d="M370 0h1M926 0h2M1123 0h3M1565 0h1"/>
<path stroke="#d96666" d="M371 0h2M738 0h1"/>
<path stroke="#d04040" d="M373 0h6M626 0h1M631 0h1M635 0h1M1580 0h1"/>
<path stroke="#cd3636" d="M379 0h1M410 0h5M615 0h4M1035 0h15"/>
<path stroke="#cb2d2d" d="M380 0h7M409 0h1"/>
<path stroke="#c41010" d="M387 0h8M1050 0h1"/>
<path stroke="#c92323" d="M395 0h1M401 0h8M627 0h4M1581 0h4"/>
<path stroke="#c61919" d="M396 0h1"/>
<path stroke="#c20606" d="M397 0h4M1051 0h12"/>
<path stroke="#ecb2b2" d="M415 0h1M1019 0h1M1129 0h1M1144 0h1"/>
<path stroke="#fafafe" d="M419 0h5M657 0h1M761 0h1M1421 0h6M1729 0h6"/>
<path stroke="#f8e2e2" d="M438 0h1M729 0h1M835 0h1M852 0h2M978 0h1M1237 0h1M1320 0h1M1329 0h1M1334 0h1M1406 0h1M1412 0h1M1484 0h1M1492 0h2M1616 0h1M1680 0h3M1685 0h2M1707 0h3M1773 0h1M1776 0h1"/>
<path stroke="#f1c6c6" d="M439 0h1M514 0h1M526 0h1M530 0h1M924 0h1M986 0h2M1127 0h2M1171 0h1M1192 0h8M1335 0h1M1477 0h1M1726 0h1M1796 0h1M1798 0h1"/>
<path stroke="#f9e7e7" d="M453 0h1M845 0h1M1141 0h1M1209 0h1M1263 0h2M1327 0h1M1478 0h1M1488 0h1M1562 0h1M1600 0h1M1602 0h4M1610 0h1M1654 0h1M1687 0h1M1742 0h1M1777 0h9"/>
<path stroke="#f7dede" d="M454 0h1M641 0h1M844 0h1M847 0h1M1140 0h1M1241 0h1M1266 0h1M1326 0h1M1336 0h1M1487 0h1M1563 0h1M1599 0h1M1736 0h1M1774 0h2"/>
<path stroke="#bcbcee" d="M462 0h1M534 0h1M771 0h1M841 0h1M1068 0h1M1475 0h1M1672 0h1M1768 0h1"/>
<path stroke="#2d2dcb" d="M463 0h1M584 0h1M1015 0h1M1459 0h1M1641 0h1M1671 0h1M1720 0h1M1769 0h1"/>
<path stroke="#d9d9f6" d="M464 0h1M823 0h1M1325 0h1M1345 0h1M1496 0h1M1512 0h1M1651 0h1M1670 0h1M1684 0h1M1722 0h1"/>
<path stroke="#c6c6f1" d="M475 0h1M760 0h1M803 0h1M1331 0h2M1346 0h1M1387 0h1M1504 0h4"/>
<path stroke="#8c8ce3" d="M476 0h26M663 0h1M893 0h1M952 0h1M995 0h14M1167 0h1M1433 0h13M1460 0h15"/>
<path stroke="#e2e2f8" d="M502 0h1M658 0h1M838 0h1M1510 0h1"/>
<path stroke="#e59696" d="M503 0h5M1034 0h1"/>
<path stroke="#eaa9a9" d="M508 0h6M1727 0h1"/>
<path stroke="#f3cfcf" d="M515 0h4M525 0h1M846 0h1M1242 0h1M1259 0h4M1267 0h1M1318 0h1M1585 0h1M1608 0h1M1706 0h1M1743 0h23M1786 0h10M1799 0h15"/>
<path stroke="#e79f9f" d="M528 0h1M1020 0h14M1131 0h1M1797 0h1M1814 0h2"/>
<path stroke="#e7e7f9" d="M531 0h1M757 0h1M994 0h1"/>
<path stroke="#9696e5" d="M532 0h2M804 0h13M1018 0h1M1352 0h5M1515 0h1M1534 0h1M1559 0h1M1640 0h1"/>
<path stroke="#7979de" d="M558 0h26M772 0h30M897 0h13M957 0h5M1069 0h5M1357 0h1M1513 0h2M1652 0h1M1695 0h1M1697 0h6"/>
<path stroke="#5353d4" d="M585 0h1M664 0h1M855 0h1M942 0h2M1017 0h1M1696 0h1"/>
<path stroke="#ececfa" d="M601 0h1M894 0h2M1299 0h1M1388 0h1M1503 0h1"/>
<path stroke="#9f9fe7" d="M602 0h2M817 0h1M951 0h1M1014 0h1M1168 0h1M1516 0h3M1526 0h8M1544 0h11"/>
<path stroke="#cfcff3" d="M604 0h1M802 0h1M840 0h1M854 0h1M1287 0h1M1427 0h1M1495 0h1M1525 0h1M1557 0h1M1560 0h1M1595 0h1M1598 0h1"/>
<path stroke="#d45353" d="M612 0h2M632 0h3"/>
<path stroke="#d24949" d="M614 0h1"/>
<path stroke="#e08383" d="M619 0h1M737 0h1"/>
<path stroke="#e38c8c" d="M620 0h6M1145 0h3"/>
<path stroke="#d75c5c" d="M636 0h1M1566 0h14M1662 0h6"/>
<path stroke="#faecec" d="M643 0h1M834 0h1M925 0h1M980 0h1M1170 0h1M1208 0h1M1249 0h1M1416 0h1M1609 0h1M1644 0h1M1653 0h1M1674 0h3M1679 0h1M1735 0h1"/>
<path stroke="#fbf1f1" d="M644 0h6M730 0h1M977 0h1M989 0h1M1481 0h1M1485 0h1M1612 0h4M1618 0h6M1668 0h1M1673 0h1"/>
<path stroke="#fdf5f5" d="M650 0h1M828 0h1M830 0h1M836 0h1M931 0h1M933 0h1M935 0h1M937 0h1M966 0h7M981 0h1M1099 0h22M1130 0h1M1172 0h1M1214 0h11M1231 0h1M1233 0h1M1238 0h1M1250 0h1M1328 0h1M1333 0h1M1405 0h1M1411 0h1M1645 0h1M1683 0h1M1711 0h1M1772 0h1"/>
<path stroke="#8383e0" d="M759 0h1M953 0h1M1087 0h1M1228 0h1M1403 0h1M1523 0h1M1703 0h1"/>
<path stroke="#dedef7" d="M856 0h1"/>
<path stroke="#1010c4" d="M956 0h1"/>
<path stroke="#4949d2" d="M1016 0h1"/>
<path stroke="#6666d9" d="M1154 0h1M1358 0h5M1432 0h1M1535 0h1"/>
<path stroke="#2323c9" d="M1155 0h1M1229 0h1"/>
<path stroke="#dcdcdc" d="M1340 0h5M1398 0h5M1451 0h6"/>
<path stroke="#5c5cd7" d="M1428 0h4"/>
<path stroke="#e8e8e8" d="M1716 0h3"/>
<path stroke="#4040d0" d="M1770 0h1"/>
</g>
<g transform="translate(0 909.5)" stroke-width="37">
<path stroke="#f1f1fb" d="M293 0h4M462 0h1M477 0h1M1287 0h1M1289 0h1M1444 0h2M1459 0h1M1557 0h1M1631 0h1M1693 0h1M1722 0h1"/>
<path stroke="#f5f5fd" d="M297 0h1M464 0h1M568 0h1M948 0h1M1172 0h1M1188 0h1M1286 0h1M1517 0h1M1595 0h1M1598 0h1M1672 0h1M1723 0h12"/>
<path stroke="#fafafe" d="M298 0h10M476 0h1M478 0h1M1171 0h1M1189 0h1M1457 0h1M1519 0h1M1638 0h1M1768 0h4"/>
<path stroke="#fdf5f5" d="M319 0h1M493 0h8M519 0h1M521 0h1M530 0h5M550 0h8M576 0h1M655 0h1M667 0h1M699 0h2M708 0h2M716 0h1M722 0h1M810 0h1M820 0h1M823 0h1M831 0h1M835 0h1M842 0h1M869 0h1M878 0h1M915 0h5M922 0h18M979 0h1M1068 0h1M1075 0h1M1078 0h1M1110 0h1M1128 0h1M1180 0h1M1195 0h1M1207 0h1M1217 0h1M1224 0h1M1231 0h1M1235 0h2M1328 0h1M1360 0h1M1362 0h1M1406 0h4M1414 0h1M1464 0h1M1523 0h1M1525 0h1M1527 0h1M1536 0h1M1538 0h1M1624 0h1M1643 0h6M1681 0h1M1705 0h1M1746 0h1M1751 0h1M1779 0h1M1792 0h1"/>
<path stroke="#faecec" d="M320 0h2M328 0h1M348 0h1M425 0h1M434 0h2M441 0h5M448 0h1M486 0h5M508 0h5M560 0h6M570 0h1M583 0h1M591 0h7M653 0h2M659 0h1M673 0h1M701 0h1M703 0h1M710 0h1M717 0h5M760 0h1M775 0h1M801 0h1M812 0h3M821 0h2M838 0h1M841 0h1M882 0h1M1070 0h3M1077 0h1M1082 0h1M1085 0h1M1105 0h1M1111 0h1M1123 0h1M1127 0h1M1194 0h1M1208 0h1M1232 0h3M1241 0h1M1252 0h4M1259 0h8M1284 0h1M1325 0h2M1353 0h2M1385 0h8M1410 0h1M1438 0h1M1475 0h1M1483 0h4M1524 0h1M1571 0h1M1578 0h1M1673 0h1M1682 0h1M1688 0h1M1703 0h2M1747 0h4M1755 0h1M1780 0h2M1793 0h1M1796 0h2M1816 0h1"/>
<path stroke="#fbf1f1" d="M322 0h1M324 0h3M335 0h2M340 0h6M420 0h1M423 0h1M436 0h1M491 0h1M522 0h4M586 0h1M598 0h1M652 0h1M692 0h2M726 0h5M773 0h1M811 0h1M819 0h1M871 0h7M957 0h4M1016 0h1M1073 0h1M1097 0h2M1114 0h1M1116 0h1M1131 0h1M1151 0h2M1198 0h2M1223 0h1M1273 0h1M1291 0h8M1324 0h1M1329 0h7M1352 0h1M1357 0h1M1421 0h13M1441 0h1M1463 0h1M1470 0h1M1473 0h1M1487 0h1M1530 0h1M1549 0h2M1670 0h1M1702 0h1M1708 0h1M1735 0h1M1742 0h1M1758 0h1M1783 0h1M1798 0h1M1800 0h5"/>
<path stroke="#fefafa" d="M323 0h1M330 0h1M424 0h1M426 0h1M433 0h1M437 0h1M458 0h1M485 0h1M513 0h1M526 0h1M529 0h1M535 0h1M542 0h1M566 0h1M599 0h1M616 0h1M621 0h1M641 0h11M725 0h1M737 0h1M815 0h1M829 0h1M847 0h1M856 0h1M860 0h1M881 0h1M883 0h1M921 0h1M940 0h1M950 0h1M1118 0h1M1122 0h1M1124 0h1M1129 0h1M1138 0h10M1157 0h11M1181 0h1M1226 0h1M1267 0h1M1275 0h1M1285 0h1M1290 0h1M1299 0h1M1305 0h1M1323 0h1M1327 0h1M1359 0h1M1420 0h1M1443 0h1M1466 0h1M1482 0h1M1488 0h1M1503 0h13M1534 0h1M1642 0h1M1649 0h1M1655 0h1M1706 0h1M1772 0h7M1782 0h1"/>
<path stroke="#f6d9d9" d="M327 0h1M363 0h1M367 0h4M392 0h3M403 0h1M578 0h5M624 0h7M698 0h1M790 0h10M808 0h2M817 0h2M848 0h8M1017 0h12M1069 0h1M1081 0h1M1106 0h1M1115 0h1M1130 0h1M1214 0h3M1221 0h2M1242 0h1M1274 0h1M1277 0h6M1356 0h1M1361 0h1M1364 0h10M1377 0h8M1411 0h1M1419 0h1M1442 0h1M1461 0h2M1476 0h5M1531 0h2M1567 0h1M1579 0h6M1614 0h1M1700 0h1M1753 0h1M1761 0h1M1764 0h1M1791 0h1"/>
<path stroke="#f8e2e2" d="M331 0h2M346 0h2M421 0h2M438 0h1M455 0h3M515 0h4M587 0h3M600 0h5M618 0h3M623 0h1M668 0h5M704 0h4M751 0h6M761 0h12M807 0h1M816 0h1M830 0h1M836 0h2M870 0h1M951 0h4M968 0h11M1074 0h1M1117 0h1M1213 0h1M1220 0h1M1225 0h1M1237 0h4M1244 0h5M1256 0h2M1300 0h4M1316 0h1M1320 0h3M1358 0h1M1374 0h3M1460 0h1M1465 0h1M1469 0h1M1471 0h2M1481 0h1M1489 0h9M1526 0h1M1533 0h1M1535 0h1M1539 0h4M1572 0h1M1611 0h3M1616 0h8M1666 0h4M1743 0h3M1754 0h1M1756 0h2M1760 0h1M1784 0h5M1790 0h1M1806 0h10"/>
<path stroke="#f9e7e7" d="M333 0h1M415 0h1M439 0h1M447 0h1M454 0h1M514 0h1M543 0h7M571 0h5M577 0h1M590 0h1M605 0h1M617 0h1M636 0h1M658 0h1M684 0h4M750 0h1M802 0h4M955 0h1M967 0h1M1084 0h1M1101 0h1M1243 0h1M1249 0h1M1276 0h1M1283 0h1M1304 0h1M1319 0h1M1355 0h1M1412 0h1M1437 0h1M1543 0h1M1577 0h1M1585 0h1M1600 0h9M1610 0h1M1650 0h5M1674 0h7M1701 0h1M1707 0h1M1736 0h1M1767 0h1M1789 0h1M1805 0h1"/>
<path stroke="#eebcbc" d="M364 0h2M384 0h1M399 0h4M1044 0h3M1418 0h1"/>
<path stroke="#f1c6c6" d="M366 0h1M372 0h12M413 0h2M738 0h4M858 0h2M1060 0h1M1306 0h10M1413 0h1M1434 0h1M1468 0h1M1568 0h3M1759 0h1M1762 0h1"/>
<path stroke="#f3cfcf" d="M371 0h1M395 0h4M412 0h1M611 0h5M631 0h5M776 0h12M857 0h1M1029 0h1M1061 0h2M1104 0h1M1415 0h1M1563 0h2M1573 0h4M1615 0h1M1662 0h4M1763 0h1"/>
<path stroke="#e79f9f" d="M385 0h7M1039 0h5M1416 0h2M1435 0h1M1565 0h1"/>
<path stroke="#f7dede" d="M404 0h8M697 0h1M1102 0h2M1317 0h1M1467 0h1M1562 0h1M1683 0h5M1699 0h1M1752 0h1M1766 0h1M1794 0h2"/>
<path stroke="#cfcff3" d="M463 0h1M942 0h1"/>
<path stroke="#ececfa" d="M569 0h1M608 0h1M947 0h1M961 0h1M1087 0h1M1228 0h1M1640 0h1M1694 0h1"/>
<path stroke="#d9d9f6" d="M584 0h1M664 0h1M1088 0h8M1155 0h1M1458 0h1M1559 0h1M1596 0h2M1641 0h1M1671 0h1M1695 0h1"/>
<path stroke="#dedef7" d="M585 0h1"/>
<path stroke="#e7e7f9" d="M607 0h1M941 0h1M962 0h1M1229 0h1M1560 0h1M1696 0h1"/>
<path stroke="#e2e2f8" d="M663 0h1M759 0h1M789 0h1M1154 0h1M1288 0h1M1403 0h1M1518 0h1M1632 0h6"/>
<path stroke="#d96666" d="M743 0h6"/>
<path stroke="#e59696" d="M749 0h1"/>
<path stroke="#bcbcee" d="M758 0h1"/>
<path stroke="#ecb2b2" d="M1030 0h9M1051 0h9"/>
<path stroke="#e08383" d="M1047 0h1"/>
<path stroke="#de7979" d="M1048 0h2"/>
<path stroke="#e38c8c" d="M1050 0h1"/>
<path stroke="#dcdcdc" d="M1340 0h5M1398 0h5M1451 0h6"/>
<path stroke="#c6c6f1" d="M1404 0h1M1719 0h3"/>
<path stroke="#e8e8e8" d="M1520 0h3M1716 0h3"/>
<path stroke="#b2b2ec" d="M1558 0h1"/>
</g>
<g transform="translate(0 946.5)" stroke-width="37">
<path stroke="#d9d9f6" d="M293 0h18M1287 0h1M1444 0h2M1458 0h1M1549 0h8M1797 0h1"/>
<path stroke="#e2e2f8" d="M311 0h12M758 0h1M1256 0h12M1403 0h1M1446 0h1M1465 0h1M1468 0h1M1470 0h1M1525 0h18M1641 0h1"/>
<path stroke="#e7e7f9" d="M323 0h1M995 0h17M1274 0h2M1427 0h17M1486 0h12M1504 0h1M1524 0h1M1743 0h23M1796 0h1M1798 0h1"/>
<path stroke="#ececfa" d="M324 0h29M664 0h1M1406 0h21M1462 0h1M1503 0h1M1543 0h1M1632 0h1M1646 0h1M1693 0h1M1766 0h1M1782 0h14M1799 0h17"/>
<path stroke="#f6d9d9" d="M353 0h1M631 0h4M1514 0h1"/>
<path stroke="#e79f9f" d="M354 0h1M364 0h2M372 0h1M1558 0h1"/>
<path stroke="#f1c6c6" d="M363 0h1M621 0h9M855 0h1M1081 0h1M1518 0h1"/>
<path stroke="#eaa9a9" d="M366 0h1M1083 0h1"/>
<path stroke="#ecb2b2" d="M367 0h5M392 0h3M816 0h1M1068 0h1M1072 0h2"/>
<path stroke="#e08383" d="M373 0h8"/>
<path stroke="#e59696" d="M381 0h3M1565 0h1"/>
<path stroke="#e38c8c" d="M384 0h1M1015 0h14"/>
<path stroke="#dc7070" d="M385 0h7"/>
<path stroke="#f7dede" d="M395 0h10M815 0h1M1069 0h1"/>
<path stroke="#f9e7e7" d="M405 0h1M845 0h1M848 0h1M1517 0h1M1560 0h1"/>
<path stroke="#faecec" d="M406 0h1M824 0h1M846 0h1M849 0h1M854 0h1M1230 0h1M1513 0h1M1696 0h1M1723 0h1"/>
<path stroke="#f8e2e2" d="M407 0h8M636 0h1M769 0h1M942 0h1M1070 0h2M1082 0h1M1085 0h11"/>
<path stroke="#fdf5f5" d="M415 0h1M465 0h70M542 0h6M585 0h10M597 0h5M604 0h7M686 0h45M761 0h7M770 0h45M856 0h1M858 0h41"/>
<path stroke="#fafafe" d="M420 0h8M994 0h1M1074 0h1M1137 0h1M1246 0h1M1268 0h1M1457 0h1M1466 0h1M1485 0h1M1506 0h7M1548 0h1M1631 0h1M1633 0h1M1722 0h1M1767 0h2M1776 0h1"/>
<path stroke="#fefafa" d="M429 0h33M464 0h1M535 0h1M541 0h1M550 0h6M584 0h1M731 0h1M737 0h20M760 0h1M818 0h1M829 0h12M857 0h1M899 0h1M953 0h38M1097 0h34M1206 0h21M1229 0h1M1231 0h1M1233 0h1M1235 0h1M1347 0h46M1519 0h1M1695 0h1M1697 0h14"/>
<path stroke="#f1f1fb" d="M602 0h1M663 0h1M1075 0h6M1247 0h9M1273 0h1M1286 0h1M1405 0h1M1459 0h1M1640 0h1M1721 0h1M1816 0h1"/>
<path stroke="#f5f5fd" d="M603 0h1M641 0h22M759 0h1M1138 0h16M1276 0h10M1288 0h1M1461 0h1M1464 0h1M1467 0h1M1647 0h1M1692 0h1M1742 0h1M1769 0h6M1777 0h5"/>
<path stroke="#fbf1f1" d="M613 0h6M768 0h1M817 0h1M941 0h1M1067 0h1M1234 0h1"/>
<path stroke="#f3cfcf" d="M620 0h1M630 0h1M635 0h1M1559 0h1M1562 0h1"/>
<path stroke="#d04040" d="M820 0h4M1030 0h5"/>
<path stroke="#eebcbc" d="M1012 0h1M1084 0h1M1563 0h1"/>
<path stroke="#d96666" d="M1013 0h1M1059 0h4M1564 0h1"/>
<path stroke="#de7979" d="M1014 0h1M1029 0h1"/>
<path stroke="#d24949" d="M1035 0h23"/>
<path stroke="#d75c5c" d="M1058 0h1"/>
<path stroke="#dcdcdc" d="M1340 0h5M1398 0h5M1451 0h6"/>
<path stroke="#cfcff3" d="M1345 0h1M1469 0h1"/>
<path stroke="#b2b2ec" d="M1346 0h1"/>
<path stroke="#c6c6f1" d="M1404 0h1"/>
<path stroke="#e8e8e8" d="M1716 0h3"/>
</g>
<g transform="translate(0 984)" stroke-width="38">
<path stroke="#fefafa" d="M308 0h1M310 0h1M313 0h1M400 0h1M460 0h1M1027 0h1M1038 0h1M1042 0h1M1086 0h13M1141 0h1M1224 0h1M1535 0h1M1618 0h6M1632 0h8M1644 0h1M1650 0h5M1661 0h18"/>
<path stroke="#faecec" d="M309 0h1M322 0h1M330 0h1M452 0h2M467 0h1M478 0h1M663 0h1M876 0h4M932 0h1M1015 0h1M1421 0h1M1458 0h1M1581 0h1M1765 0h1"/>
<path stroke="#f8e2e2" d="M314 0h1M368 0h4M405 0h1M420 0h1M513 0h1M623 0h1M628 0h1M673 0h1M864 0h1M886 0h6M941 0h2M1404 0h1M1408 0h1M1412 0h9M1541 0h2M1578 0h1M1696 0h2M1723 0h1M1764 0h1"/>
<path stroke="#fdf5f5" d="M315 0h1M323 0h1M354 0h1M461 0h1M636 0h1M857 0h1M863 0h1M866 0h1M875 0h1M885 0h1M910 0h1M1039 0h3M1142 0h12M1226 0h1M1235 0h1M1411 0h1M1442 0h1M1459 0h1M1540 0h1M1580 0h1M1641 0h1M1698 0h1M1706 0h1M1719 0h3"/>
<path stroke="#f9e7e7" d="M329 0h1M367 0h1M619 0h4M625 0h3M630 0h6M981 0h1M1016 0h9M1028 0h9M1543 0h1M1576 0h1M1585 0h1M1680 0h1M1695 0h1"/>
<path stroke="#fbf1f1" d="M343 0h2M404 0h1M457 0h3M605 0h14M1025 0h1M1037 0h1M1407 0h1M1441 0h1M1536 0h2M1601 0h1M1645 0h5M1707 0h1"/>
<path stroke="#f7dede" d="M355 0h10M440 0h1M468 0h10M507 0h1M758 0h1M858 0h1M990 0h1M1074 0h1M1230 0h1M1538 0h1M1683 0h1M1699 0h1M1762 0h1"/>
<path stroke="#f6d9d9" d="M365 0h1M372 0h1M388 0h1M438 0h2M463 0h1M624 0h1M629 0h1M660 0h3M865 0h1M933 0h8M943 0h1M982 0h1M1225 0h1M1234 0h1M1579 0h1M1582 0h3M1643 0h1M1681 0h2M1689 0h1M1691 0h1M1700 0h4M1763 0h1"/>
<path stroke="#f1c6c6" d="M366 0h1M382 0h3M389 0h2M397 0h3M421 0h2M430 0h4M512 0h1M672 0h1M677 0h1M679 0h1M848 0h1M862 0h1M880 0h1M944 0h14M969 0h12M1405 0h1M1539 0h1M1684 0h1M1693 0h1M1722 0h1M1761 0h1"/>
<path stroke="#f3cfcf" d="M373 0h9M385 0h3M391 0h4M441 0h1M505 0h1M508 0h1M664 0h1M676 0h1M757 0h1M859 0h1M861 0h1M884 0h1M892 0h1M985 0h5M1233 0h1M1409 0h1M1590 0h1"/>
<path stroke="#eaa9a9" d="M395 0h2M425 0h1M667 0h1M853 0h1M881 0h3M1068 0h1"/>
<path stroke="#f1f1fb" d="M407 0h5M545 0h17M737 0h3M924 0h1M1010 0h4M1100 0h31M1163 0h5M1218 0h1M1221 0h1M1268 0h1M1274 0h4M1603 0h5M1709 0h2M1770 0h1"/>
<path stroke="#fafafe" d="M412 0h1M544 0h1M599 0h1M641 0h1M995 0h14M1162 0h1M1168 0h1M1182 0h1M1190 0h1M1220 0h1M1278 0h2M1282 0h1M1347 0h34M1423 0h18M1443 0h3M1460 0h3M1465 0h1M1534 0h1M1708 0h1M1711 0h1M1725 0h4M1732 0h1M1804 0h4"/>
<path stroke="#eebcbc" d="M423 0h1M434 0h1M509 0h1M958 0h11M983 0h2M1137 0h1M1231 0h2M1685 0h3"/>
<path stroke="#ecb2b2" d="M424 0h1M668 0h4M675 0h1M678 0h1M854 0h3M906 0h4M1410 0h1M1577 0h1M1688 0h1M1692 0h1"/>
<path stroke="#e79f9f" d="M426 0h4M437 0h1M442 0h2M462 0h1M665 0h2M674 0h1M1048 0h1M1058 0h5M1406 0h1M1464 0h1M1598 0h1M1642 0h1M1694 0h1"/>
<path stroke="#e38c8c" d="M435 0h2M849 0h1M899 0h1M1138 0h2M1595 0h3"/>
<path stroke="#e59696" d="M444 0h1M893 0h6M1050 0h1M1140 0h1M1463 0h1M1599 0h1"/>
<path stroke="#d45353" d="M445 0h6M506 0h1M1044 0h2M1055 0h1M1069 0h5"/>
<path stroke="#e08383" d="M451 0h1M1057 0h1"/>
<path stroke="#ececfa" d="M489 0h1M528 0h1M566 0h1M748 0h1M820 0h3M925 0h2M1222 0h2M1617 0h1M1705 0h1M1742 0h1"/>
<path stroke="#e2e2f8" d="M490 0h4M603 0h1M1295 0h5M1326 0h1M1609 0h3M1783 0h13"/>
<path stroke="#e7e7f9" d="M494 0h1M567 0h17M749 0h8M1327 0h8M1381 0h12M1775 0h8"/>
<path stroke="#dedef7" d="M529 0h5M600 0h3M799 0h21M1300 0h26M1769 0h1"/>
<path stroke="#f5f5fd" d="M584 0h1M642 0h5M650 0h1M659 0h1M823 0h1M927 0h1M1009 0h1M1014 0h1M1131 0h1M1156 0h4M1183 0h7M1195 0h5M1207 0h8M1273 0h1M1280 0h2M1294 0h1M1335 0h1M1466 0h32M1524 0h10M1549 0h7M1729 0h3M1774 0h1"/>
<path stroke="#a9a9ea" d="M651 0h8M783 0h1M917 0h1M1558 0h1M1613 0h4"/>
<path stroke="#c6c6f1" d="M695 0h1M699 0h1M1192 0h1M1557 0h1"/>
<path stroke="#bcbcee" d="M696 0h3M1193 0h1M1216 0h1M1264 0h1M1801 0h1"/>
<path stroke="#b2b2ec" d="M700 0h1M709 0h1M715 0h5M722 0h1M765 0h18M787 0h1M1170 0h12M1265 0h3M1797 0h4"/>
<path stroke="#9f9fe7" d="M701 0h8M723 0h9M784 0h3M923 0h1"/>
<path stroke="#d9d9f6" d="M714 0h1M732 0h1M1219 0h1M1743 0h4M1803 0h1"/>
<path stroke="#cfcff3" d="M720 0h1M764 0h1M1169 0h1M1191 0h1M1217 0h1M1612 0h1M1796 0h1M1802 0h1"/>
<path stroke="#d96666" d="M850 0h1M900 0h6M1043 0h1M1053 0h1M1591 0h3M1600 0h1"/>
<path stroke="#cb2d2d" d="M851 0h2M1046 0h2"/>
<path stroke="#9696e5" d="M918 0h5"/>
<path stroke="#de7979" d="M1049 0h1M1054 0h1"/>
<path stroke="#d04040" d="M1051 0h2"/>
<path stroke="#d24949" d="M1056 0h1"/>
<path stroke="#dcdcdc" d="M1340 0h5M1398 0h5M1451 0h6"/>
<path stroke="#dc7070" d="M1594 0h1"/>
<path stroke="#e8e8e8" d="M1716 0h3"/>
</g>
<g transform="translate(0 1021.5)" stroke-width="37">
<path stroke="#ecb2b2" d="M293 0h20M315 0h7M469 0h1M525 0h2M565 0h1M590 0h1M593 0h6M620 0h3M651 0h1M673 0h1M751 0h1M819 0h4M843 0h1M947 0h2M961 0h2M1042 0h1M1081 0h1M1108 0h5M1143 0h1M1196 0h4M1326 0h9M1382 0h1M1386 0h2M1414 0h1M1432 0h3M1474 0h1M1476 0h1M1479 0h1M1529 0h1M1531 0h1M1642 0h1M1683 0h1M1710 0h1M1761 0h1M1799 0h1"/>
<path stroke="#d75c5c" d="M313 0h1M447 0h1M1555 0h1"/>
<path stroke="#e08383" d="M314 0h1M600 0h7M619 0h1M1043 0h7M1119 0h1M1585 0h1M1736 0h1"/>
<path stroke="#eebcbc" d="M322 0h1M411 0h4M576 0h14M750 0h1M837 0h1M932 0h3M1096 0h4M1107 0h1M1121 0h1M1123 0h9M1136 0h1M1145 0h1M1170 0h9M1435 0h1M1463 0h1M1466 0h1M1491 0h1M1493 0h2M1497 0h1M1538 0h5M1571 0h5M1594 0h1M1617 0h1M1673 0h5M1814 0h2"/>
<path stroke="#f6d9d9" d="M323 0h30M449 0h3M454 0h15M483 0h22M515 0h10M566 0h1M658 0h1M664 0h1M672 0h1M724 0h7M754 0h3M786 0h6M823 0h1M848 0h7M952 0h9M1011 0h1M1295 0h1M1404 0h1M1426 0h1M1437 0h3M1446 0h1M1611 0h5M1618 0h1M1669 0h3M1688 0h1M1751 0h1M1762 0h1M1767 0h1M1779 0h7"/>
<path stroke="#fbf1f1" d="M353 0h1M385 0h7M653 0h1M661 0h1M752 0h1M757 0h1M1238 0h1M1299 0h1M1519 0h4M1590 0h1M1596 0h1M1625 0h1M1711 0h1"/>
<path stroke="#f7dede" d="M363 0h1M536 0h1M636 0h1M666 0h1M941 0h1M963 0h1M1012 0h18M1036 0h6M1085 0h11M1114 0h1M1213 0h22M1274 0h15M1336 0h1M1440 0h1M1464 0h1M1510 0h1M1668 0h1M1786 0h7M1798 0h1M1800 0h1"/>
<path stroke="#f1c6c6" d="M364 0h20M392 0h12M406 0h3M472 0h9M530 0h6M635 0h1M650 0h1M758 0h1M799 0h14M829 0h2M832 0h1M838 0h2M925 0h7M935 0h1M937 0h1M939 0h2M943 0h1M964 0h2M1113 0h1M1115 0h4M1139 0h4M1146 0h8M1155 0h1M1181 0h15M1206 0h7M1290 0h5M1317 0h9M1335 0h1M1384 0h1M1389 0h4M1405 0h6M1423 0h1M1425 0h1M1428 0h1M1431 0h1M1465 0h1M1468 0h6M1483 0h2M1487 0h1M1489 0h1M1534 0h1M1543 0h1M1564 0h1M1591 0h3M1616 0h1M1660 0h6M1667 0h1M1672 0h1M1692 0h1M1705 0h2M1726 0h1M1763 0h1M1765 0h2M1772 0h7"/>
<path stroke="#f3cfcf" d="M384 0h1M420 0h27M529 0h1M575 0h1M675 0h3M737 0h7M792 0h7M813 0h1M833 0h3M842 0h1M924 0h1M936 0h1M1082 0h3M1100 0h7M1132 0h1M1169 0h1M1200 0h1M1297 0h1M1316 0h1M1377 0h3M1416 0h5M1430 0h1M1481 0h1M1485 0h1M1561 0h1M1570 0h1M1604 0h7M1619 0h6M1684 0h1M1745 0h6M1760 0h1M1771 0h1M1816 0h1"/>
<path stroke="#de7979" d="M404 0h1M409 0h1M448 0h1M591 0h1M607 0h1M841 0h1M950 0h1M1579 0h1M1631 0h2M1795 0h1"/>
<path stroke="#e38c8c" d="M405 0h1M471 0h1M528 0h1M665 0h1M840 0h1M938 0h1M1122 0h1M1427 0h1M1475 0h1M1477 0h1M1480 0h1M1486 0h1M1504 0h4M1565 0h1M1577 0h1M1653 0h1M1708 0h1M1764 0h1"/>
<path stroke="#e79f9f" d="M410 0h1M453 0h1M592 0h1M659 0h1M831 0h1M836 0h1M1010 0h1M1120 0h1M1138 0h1M1144 0h1M1296 0h1M1380 0h1M1421 0h1M1429 0h1M1442 0h3M1462 0h1M1467 0h1M1496 0h1M1525 0h4M1537 0h1M1576 0h1M1581 0h1M1595 0h1M1639 0h1M1679 0h4M1743 0h1M1794 0h1"/>
<path stroke="#f8e2e2" d="M415 0h1M633 0h2M642 0h8M662 0h2M678 0h33M731 0h1M753 0h1M772 0h2M847 0h1M916 0h8M951 0h1M1030 0h1M1154 0h1M1158 0h11M1179 0h1M1205 0h1M1301 0h15M1388 0h1M1600 0h4M1630 0h1M1697 0h8M1737 0h1M1752 0h8M1797 0h1M1801 0h13"/>
<path stroke="#f9e7e7" d="M419 0h1M514 0h1M641 0h1M674 0h1M759 0h1M771 0h1M828 0h1M915 0h1M1157 0h1M1273 0h1M1415 0h1M1424 0h1M1640 0h1M1768 0h3M1793 0h1M1796 0h1"/>
<path stroke="#eaa9a9" d="M452 0h1M527 0h1M844 0h1M1156 0h1M1381 0h1M1383 0h1M1411 0h3M1422 0h1M1459 0h1M1478 0h1M1488 0h1M1511 0h7M1524 0h1M1532 0h2M1580 0h1M1582 0h1M1678 0h1M1685 0h3M1709 0h1"/>
<path stroke="#e59696" d="M470 0h1M481 0h1M599 0h1M711 0h1M1461 0h1M1490 0h1M1495 0h1M1503 0h1M1508 0h1M1535 0h2M1643 0h10M1666 0h1M1744 0h1"/>
<path stroke="#d96666" d="M482 0h1M616 0h3M712 0h7M1051 0h2M1460 0h1M1578 0h1M1637 0h2"/>
<path stroke="#fefafa" d="M505 0h1M736 0h1M814 0h1M818 0h1M966 0h1M978 0h4M1180 0h1M1347 0h8M1376 0h1M1393 0h1M1436 0h1M1492 0h1"/>
<path stroke="#e2e2f8" d="M506 0h8M776 0h9M1268 0h1"/>
<path stroke="#cb2d2d" d="M608 0h3M1445 0h1M1560 0h1"/>
<path stroke="#d45353" d="M611 0h2M623 0h1M846 0h1M949 0h1M1509 0h1M1633 0h1M1636 0h1"/>
<path stroke="#d04040" d="M613 0h1M624 0h9M845 0h1"/>
<path stroke="#cd3636" d="M614 0h2M944 0h2M1053 0h1M1583 0h2M1634 0h2"/>
<path stroke="#faecec" d="M654 0h4M660 0h1M668 0h4M744 0h6M774 0h1M1009 0h1M1035 0h1M1235 0h1M1289 0h1M1298 0h1M1300 0h1M1482 0h1M1530 0h1M1597 0h3M1641 0h1M1727 0h1M1742 0h1"/>
<path stroke="#fdf5f5" d="M667 0h1M815 0h3M1385 0h1M1518 0h1M1523 0h1M1695 0h2M1725 0h1"/>
<path stroke="#dc7070" d="M719 0h5M946 0h1M1050 0h1M1693 0h2"/>
<path stroke="#f1f1fb" d="M761 0h1M785 0h1M890 0h2M997 0h12M1032 0h3"/>
<path stroke="#ececfa" d="M762 0h7M892 0h18M968 0h1M1080 0h1M1239 0h27"/>
<path stroke="#f5f5fd" d="M769 0h1M855 0h1M879 0h1M881 0h1M983 0h2M1031 0h1M1068 0h1"/>
<path stroke="#e7e7f9" d="M775 0h1M856 0h23M882 0h8M969 0h8M1069 0h11"/>
<path stroke="#fafafe" d="M977 0h1M982 0h1M985 0h6M1356 0h20M1729 0h6"/>
<path stroke="#c92323" d="M1054 0h4M1236 0h2M1655 0h1"/>
<path stroke="#c41010" d="M1058 0h5"/>
<path stroke="#c61919" d="M1137 0h1"/>
<path stroke="#dedef7" d="M1266 0h1"/>
<path stroke="#9f9fe7" d="M1267 0h1"/>
<path stroke="#dcdcdc" d="M1340 0h5M1398 0h5M1451 0h6"/>
<path stroke="#d24949" d="M1556 0h1"/>
<path stroke="#c20606" d="M1654 0h1"/>
<path stroke="#e8e8e8" d="M1716 0h3"/>
</g>
<g transform="translate(0 1058.5)" stroke-width="37">
<path stroke="#d9d9f6" d="M293 0h11M368 0h1M658 0h1M810 0h1M1156 0h3M1172 0h1M1229 0h1M1350 0h1M1386 0h1M1429 0h1M1433 0h2M1475 0h1M1484 0h1M1487 0h1M1516 0h1M1529 0h1M1538 0h1M1611 0h6M1732 0h1"/>
<path stroke="#bcbcee" d="M304 0h1M1169 0h1M1518 0h1M1630 0h1M1635 0h1M1654 0h1M1724 0h1M1736 0h1"/>
<path stroke="#8c8ce3" d="M305 0h1M758 0h1M1567 0h1M1596 0h1M1637 0h1"/>
<path stroke="#e2e2f8" d="M306 0h9M349 0h1M369 0h1M555 0h2M586 0h1M769 0h1M798 0h1M941 0h1M1159 0h1M1348 0h1M1375 0h11M1428 0h1M1440 0h1M1471 0h1M1480 0h1M1488 0h1M1618 0h8M1696 0h1M1726 0h1M1799 0h1"/>
<path stroke="#e7e7f9" d="M315 0h1M462 0h1M664 0h1M804 0h1M842 0h1M950 0h1M1010 0h1M1129 0h1M1161 0h8M1289 0h1M1330 0h1M1351 0h1M1369 0h6M1388 0h5M1403 0h1M1445 0h1M1536 0h1M1541 0h1M1595 0h1M1603 0h8"/>
<path stroke="#f1f1fb" d="M316 0h2M350 0h1M464 0h1M546 0h1M566 0h10M657 0h1M1111 0h1M1287 0h1M1299 0h1M1368 0h1M1461 0h6M1494 0h1M1594 0h1M1694 0h1M1727 0h1M1729 0h1M1800 0h1"/>
<path stroke="#f5f5fd" d="M318 0h1M345 0h1M366 0h1M430 0h1M482 0h3M502 0h4M518 0h1M659 0h1M757 0h1M768 0h1M963 0h1M994 0h1M1106 0h3M1114 0h1M1132 0h1M1222 0h2M1228 0h1M1230 0h1M1332 0h1M1355 0h2M1405 0h1M1423 0h1M1432 0h1M1460 0h1M1472 0h1M1474 0h1M1476 0h1M1505 0h9M1528 0h1M1530 0h1M1566 0h1M1600 0h3M1693 0h1M1730 0h1M1766 0h1"/>
<path stroke="#fafafe" d="M319 0h6M420 0h7M481 0h1M485 0h1M533 0h1M535 0h1M542 0h1M576 0h1M641 0h16M770 0h1M797 0h1M799 0h1M843 0h1M845 0h1M848 0h1M985 0h5M1105 0h1M1115 0h14M1173 0h14M1207 0h12M1221 0h1M1224 0h1M1233 0h1M1235 0h1M1295 0h1M1334 0h1M1353 0h2M1357 0h1M1361 0h7M1436 0h1M1457 0h1M1467 0h1M1504 0h1M1534 0h1M1548 0h1M1569 0h17M1590 0h1M1731 0h1M1750 0h1M1752 0h1M1767 0h1M1798 0h1M1801 0h16"/>
<path stroke="#fefafa" d="M330 0h1M385 0h10M399 0h6M474 0h1M480 0h1M525 0h1M527 0h1M633 0h1M665 0h1M691 0h1M776 0h21M811 0h1M849 0h6M856 0h1M863 0h1M892 0h8M922 0h1M940 0h1M951 0h1M981 0h1M990 0h1M1025 0h1M1099 0h4M1189 0h11M1238 0h1M1246 0h1M1303 0h8M1409 0h12M1671 0h14M1688 0h1M1697 0h11M1743 0h2M1770 0h2M1775 0h11M1790 0h1"/>
<path stroke="#f9e7e7" d="M331 0h7M601 0h1M610 0h1M813 0h1M1264 0h1M1493 0h1"/>
<path stroke="#fdf5f5" d="M338 0h1M442 0h1M447 0h1M449 0h1M475 0h5M512 0h1M595 0h1M618 0h1M631 0h1M666 0h25M730 0h1M815 0h1M823 0h1M923 0h17M945 0h1M965 0h16M983 0h1M1019 0h2M1057 0h2M1137 0h1M1313 0h4M1524 0h1M1661 0h8M1757 0h1M1786 0h1M1791 0h1"/>
<path stroke="#ecb2b2" d="M339 0h1"/>
<path stroke="#f6d9d9" d="M340 0h1M448 0h1M1239 0h1M1525 0h1M1758 0h1M1761 0h1M1769 0h1M1772 0h1"/>
<path stroke="#faecec" d="M341 0h2M441 0h1M471 0h1M513 0h1M526 0h1M594 0h1M602 0h1M611 0h1M619 0h1M857 0h6M916 0h6M944 0h1M952 0h9M1012 0h1M1024 0h1M1038 0h12M1053 0h1M1138 0h3M1247 0h3M1252 0h4"/>
<path stroke="#ececfa" d="M346 0h1M352 0h1M429 0h1M519 0h1M534 0h1M543 0h3M584 0h1M663 0h1M803 0h1M809 0h1M844 0h1M846 0h1M961 0h1M1112 0h2M1160 0h1M1234 0h1M1296 0h3M1333 0h1M1349 0h1M1406 0h1M1422 0h1M1430 0h1M1444 0h1M1459 0h1M1468 0h1M1470 0h1M1485 0h1M1539 0h1M1542 0h1M1591 0h3M1598 0h1M1728 0h1M1751 0h1"/>
<path stroke="#4040d0" d="M353 0h1"/>
<path stroke="#b2b2ec" d="M354 0h1M463 0h1M1130 0h2M1288 0h1M1347 0h1M1387 0h1M1649 0h2M1723 0h1M1734 0h1"/>
<path stroke="#c6c6f1" d="M367 0h1M564 0h1M942 0h1M962 0h1M1331 0h1M1345 0h2M1352 0h1M1427 0h1M1469 0h1M1481 0h1M1535 0h1M1599 0h1M1633 0h1M1636 0h1M1647 0h1M1721 0h2"/>
<path stroke="#f8e2e2" d="M469 0h2M472 0h1M627 0h1M632 0h1M692 0h38M1021 0h3M1054 0h3M1142 0h12M1242 0h1M1760 0h1M1763 0h1"/>
<path stroke="#fbf1f1" d="M473 0h1M626 0h1M816 0h7M915 0h1M984 0h1M1013 0h6M1026 0h2M1059 0h4M1141 0h1M1154 0h1M1240 0h1M1243 0h1M1259 0h4M1685 0h3M1768 0h1M1787 0h1"/>
<path stroke="#9f9fe7" d="M563 0h1M585 0h1M1088 0h8M1170 0h2M1597 0h1M1648 0h1"/>
<path stroke="#cfcff3" d="M759 0h1M847 0h1M949 0h1M995 0h15M1087 0h1M1225 0h1M1404 0h1M1458 0h1M1515 0h1M1568 0h1M1645 0h2M1695 0h1M1720 0h1M1733 0h1"/>
<path stroke="#f1c6c6" d="M812 0h1M1028 0h1M1031 0h1M1051 0h1M1491 0h1M1527 0h1M1759 0h1M1764 0h1"/>
<path stroke="#dedef7" d="M841 0h1M1155 0h1M1226 0h1M1435 0h1M1437 0h3M1549 0h14M1617 0h1M1634 0h1M1638 0h1M1644 0h1M1725 0h1"/>
<path stroke="#d45353" d="M1011 0h1"/>
<path stroke="#eebcbc" d="M1029 0h2M1526 0h1"/>
<path stroke="#f7dede" d="M1032 0h1M1052 0h1M1265 0h1M1773 0h1"/>
<path stroke="#f3cfcf" d="M1033 0h5M1050 0h1M1708 0h1"/>
<path stroke="#dcdcdc" d="M1340 0h5M1398 0h5M1451 0h6"/>
<path stroke="#d04040" d="M1492 0h1"/>
<path stroke="#5353d4" d="M1519 0h1"/>
<path stroke="#d96666" d="M1563 0h1"/>
<path stroke="#de7979" d="M1564 0h1"/>
<path stroke="#e79f9f" d="M1565 0h1M1711 0h1M1762 0h1"/>
<path stroke="#9696e5" d="M1631 0h2M1640 0h1"/>
<path stroke="#2d2dcb" d="M1641 0h1"/>
<path stroke="#7979de" d="M1651 0h2"/>
<path stroke="#8383e0" d="M1653 0h1"/>
<path stroke="#a9a9ea" d="M1655 0h1M1735 0h1"/>
<path stroke="#d75c5c" d="M1709 0h2"/>
<path stroke="#e8e8e8" d="M1716 0h3"/>
</g>
<g transform="translate(0 1095.5)" stroke-width="37">
<path stroke="#9f9fe7" d="M294 0h1M804 0h1M1182 0h5M1229 0h1M1459 0h1M1517 0h1M1640 0h1"/>
<path stroke="#8383e0" d="M295 0h9M1087 0h1M1154 0h1M1289 0h1M1721 0h1"/>
<path stroke="#7070dc" d="M304 0h1"/>
<path stroke="#5353d4" d="M305 0h1M353 0h1M664 0h1M1597 0h1"/>
<path stroke="#ececfa" d="M306 0h1M310 0h1M315 0h1M462 0h1M586 0h1M657 0h1M667 0h1M674 0h1M681 0h1M683 0h1M724 0h1M762 0h1M978 0h1M1131 0h1M1143 0h11M1158 0h10M1407 0h1M1411 0h1M1428 0h1M1476 0h1M1493 0h1M1511 0h1M1675 0h1M1697 0h1M1706 0h1M1722 0h2M1735 0h1M1790 0h1"/>
<path stroke="#8c8ce3" d="M307 0h1M663 0h1M949 0h1M1345 0h1M1516 0h1M1523 0h1M1557 0h1M1559 0h1"/>
<path stroke="#cfcff3" d="M308 0h1M769 0h1M801 0h1M842 0h1M915 0h1M997 0h17M1084 0h1M1170 0h1M1228 0h1M1360 0h1M1569 0h1M1766 0h1"/>
<path stroke="#c6c6f1" d="M311 0h1M317 0h1M338 0h1M562 0h1M901 0h7M950 0h1M1068 0h2M1129 0h1M1141 0h1M1172 0h1M1412 0h1M1432 0h1M1471 0h1M1475 0h1M1652 0h1M1672 0h1M1732 0h1M1770 0h1M1801 0h1"/>
<path stroke="#f5f5fd" d="M312 0h1M319 0h8M430 0h1M630 0h1M675 0h1M702 0h1M707 0h1M718 0h1M725 0h1M761 0h1M770 0h1M773 0h2M831 0h1M835 0h1M848 0h1M945 0h1M990 0h1M1076 0h7M1132 0h1M1173 0h1M1188 0h2M1205 0h1M1230 0h1M1232 0h4M1260 0h3M1324 0h1M1347 0h7M1357 0h1M1386 0h1M1388 0h1M1406 0h1M1413 0h1M1474 0h1M1528 0h1M1530 0h1M1645 0h1M1727 0h1M1730 0h1M1763 0h1"/>
<path stroke="#f1f1fb" d="M313 0h1M329 0h1M429 0h1M445 0h3M517 0h1M607 0h2M659 0h1M703 0h1M768 0h1M797 0h2M809 0h1M1157 0h1M1180 0h1M1187 0h1M1206 0h1M1361 0h1M1409 0h1M1478 0h1M1483 0h9M1630 0h1M1638 0h1M1708 0h1M1736 0h1"/>
<path stroke="#bcbcee" d="M314 0h1M337 0h1M758 0h1M855 0h1M1015 0h1M1083 0h1M1130 0h1M1168 0h1M1332 0h1M1470 0h1M1534 0h1M1560 0h1"/>
<path stroke="#d9d9f6" d="M316 0h1M800 0h1M802 0h1M996 0h1M1073 0h1M1142 0h1M1191 0h9M1358 0h1M1387 0h1M1410 0h1M1427 0h1M1477 0h1M1480 0h1M1512 0h1M1529 0h1M1539 0h1M1549 0h8M1595 0h1M1646 0h2M1650 0h1M1670 0h1M1725 0h1M1728 0h1M1733 0h1M1751 0h1M1762 0h1M1799 0h1"/>
<path stroke="#fafafe" d="M318 0h1M339 0h13M428 0h1M629 0h1M666 0h1M668 0h1M709 0h1M719 0h1M772 0h1M775 0h1M829 0h1M836 0h1M900 0h1M985 0h4M1075 0h1M1231 0h1M1236 0h1M1354 0h1M1362 0h13M1482 0h1M1504 0h6M1548 0h1M1729 0h1M1750 0h1M1789 0h1M1791 0h1M1802 0h1"/>
<path stroke="#e7e7f9" d="M330 0h7M680 0h1M682 0h1M943 0h1M1074 0h1M1156 0h1M1174 0h6M1190 0h1M1359 0h1M1673 0h1M1707 0h1M1768 0h1M1800 0h1"/>
<path stroke="#1010c4" d="M354 0h9"/>
<path stroke="#fdf5f5" d="M364 0h1M420 0h1M432 0h1M459 0h1M478 0h1M485 0h1M521 0h1M550 0h6M566 0h4M590 0h1M595 0h1M623 0h1M696 0h1M729 0h1M815 0h1M823 0h1M881 0h1M897 0h1M953 0h6M981 0h1M1039 0h5M1051 0h1M1057 0h1M1114 0h1M1117 0h1M1122 0h1M1124 0h1M1127 0h1M1207 0h2M1222 0h1M1238 0h1M1242 0h17M1264 0h4M1275 0h11M1327 0h1M1414 0h1M1420 0h1M1436 0h9M1600 0h1M1609 0h10M1625 0h1M1743 0h7M1752 0h1"/>
<path stroke="#faecec" d="M365 0h1M369 0h1M383 0h1M392 0h3M436 0h1M441 0h3M474 0h1M477 0h1M499 0h1M513 0h1M576 0h1M594 0h1M632 0h1M764 0h1M862 0h3M882 0h8M896 0h1M967 0h1M1038 0h1M1053 0h4M1103 0h2M1115 0h1M1210 0h9M1237 0h1M1297 0h1M1328 0h1M1598 0h1M1764 0h1"/>
<path stroke="#f9e7e7" d="M366 0h1M368 0h1M370 0h1M409 0h1M421 0h6M455 0h1M490 0h1M496 0h1M498 0h1M508 0h1M604 0h1M738 0h5M845 0h1M857 0h1M878 0h1M893 0h3M968 0h9M1029 0h1M1044 0h1M1321 0h1M1577 0h1M1620 0h1"/>
<path stroke="#f6d9d9" d="M367 0h1M374 0h1M414 0h1M435 0h1M460 0h1M468 0h1M475 0h2M514 0h1M621 0h2M872 0h3M898 0h1M1030 0h8M1102 0h1M1105 0h1M1123 0h1M1296 0h1"/>
<path stroke="#f8e2e2" d="M371 0h3M431 0h1M456 0h3M486 0h4M509 0h2M522 0h1M577 0h6M589 0h1M603 0h1M610 0h2M620 0h1M627 0h1M743 0h7M858 0h2M871 0h1M876 0h1M1118 0h1M1126 0h1M1290 0h1M1322 0h1M1564 0h1M1566 0h1M1573 0h1M1621 0h4"/>
<path stroke="#f3cfcf" d="M375 0h4M398 0h2M402 0h1M405 0h1M407 0h1M411 0h1M479 0h1M877 0h1M1045 0h6M1058 0h5M1492 0h1M1796 0h1"/>
<path stroke="#f7dede" d="M379 0h1M495 0h1M844 0h1M899 0h1"/>
<path stroke="#fbf1f1" d="M380 0h1M427 0h1M461 0h1M467 0h1M480 0h1M543 0h7M583 0h1M626 0h1M816 0h7M850 0h2M861 0h1M875 0h1M890 0h1M982 0h3M1052 0h1M1098 0h2M1223 0h3M1415 0h5M1602 0h6M1753 0h6"/>
<path stroke="#ecb2b2" d="M381 0h1M396 0h2M408 0h1M413 0h1"/>
<path stroke="#f1c6c6" d="M382 0h1M400 0h1M406 0h1M410 0h1M776 0h1M1300 0h1M1305 0h2M1318 0h3M1571 0h1M1575 0h1M1599 0h1"/>
<path stroke="#e79f9f" d="M384 0h2M412 0h1M1294 0h1M1301 0h2M1574 0h1M1797 0h1"/>
<path stroke="#e08383" d="M386 0h6"/>
<path stroke="#eaa9a9" d="M401 0h1M1303 0h1"/>
<path stroke="#eebcbc" d="M403 0h1M1291 0h3M1307 0h1M1317 0h1M1684 0h1"/>
<path stroke="#4040d0" d="M463 0h1M585 0h1M942 0h1M1346 0h1M1671 0h1"/>
<path stroke="#b2b2ec" d="M464 0h1M584 0h1M658 0h1M847 0h1M856 0h1M941 0h1M961 0h2M1181 0h1M1325 0h1M1331 0h1M1481 0h1M1515 0h1M1535 0h1M1538 0h1M1561 0h3M1631 0h7M1649 0h1M1734 0h1M1769 0h1"/>
<path stroke="#fefafa" d="M469 0h1M511 0h1M523 0h1M542 0h1M588 0h1M602 0h1M631 0h1M651 0h6M695 0h1M730 0h1M750 0h7M763 0h1M860 0h1M865 0h1M892 0h1M916 0h25M1017 0h12M1119 0h1M1125 0h1M1219 0h1M1226 0h1M1274 0h1M1286 0h1M1304 0h1M1742 0h1M1759 0h3M1772 0h2"/>
<path stroke="#e2e2f8" d="M518 0h1M708 0h1M803 0h1M805 0h1M810 0h1M830 0h1M846 0h1M944 0h1M963 0h1M989 0h1M1072 0h1M1326 0h1M1433 0h1M1457 0h1M1494 0h1M1514 0h1M1648 0h1M1674 0h1M1724 0h1M1731 0h1M1798 0h1"/>
<path stroke="#a9a9ea" d="M563 0h1M1014 0h1M1288 0h1M1651 0h1"/>
<path stroke="#5c5cd7" d="M759 0h1M1695 0h1"/>
<path stroke="#e38c8c" d="M777 0h1M1308 0h9M1576 0h1"/>
<path stroke="#dedef7" d="M843 0h1M914 0h1M1469 0h1M1765 0h1"/>
<path stroke="#0606c2" d="M1088 0h8M1155 0h1"/>
<path stroke="#7979de" d="M1169 0h1M1720 0h1"/>
<path stroke="#6666d9" d="M1171 0h1M1567 0h2"/>
<path stroke="#e59696" d="M1295 0h1M1687 0h1"/>
<path stroke="#dcdcdc" d="M1340 0h5M1398 0h5M1451 0h6"/>
<path stroke="#9696e5" d="M1403 0h1"/>
<path stroke="#2d2dcb" d="M1404 0h1M1596 0h1"/>
<path stroke="#1919c6" d="M1458 0h1M1519 0h4M1558 0h1"/>
<path stroke="#cb2d2d" d="M1565 0h1"/>
<path stroke="#d04040" d="M1570 0h1"/>
<path stroke="#4949d2" d="M1641 0h1"/>
<path stroke="#de7979" d="M1685 0h2"/>
<path stroke="#3636cd" d="M1696 0h1"/>
<path stroke="#e8e8e8" d="M1716 0h3"/>
</g>
<g transform="translate(0 1132.5)" stroke-width="37">
<path stroke="#fbf1f1" d="M315 0h6M367 0h37M424 0h1M845 0h1M915 0h9M936 0h13M1016 0h3M1023 0h19M1376 0h1M1515 0h2"/>
<path stroke="#ecb2b2" d="M321 0h1M463 0h1M748 0h1M751 0h1M1155 0h1M1159 0h1M1165 0h1M1172 0h1M1565 0h1"/>
<path stroke="#de7979" d="M322 0h1M410 0h1M1160 0h1"/>
<path stroke="#fefafa" d="M324 0h15M542 0h93M663 0h1M665 0h1M669 0h5M801 0h21M851 0h1M857 0h22M934 0h1M949 0h1M996 0h17M1052 0h1M1089 0h7M1504 0h10M1559 0h1M1570 0h1M1576 0h1M1585 0h1"/>
<path stroke="#fafafe" d="M352 0h1M757 0h1M1013 0h1M1015 0h1M1088 0h1M1176 0h1M1185 0h1M1457 0h1M1460 0h2M1557 0h1M1764 0h4M1770 0h9"/>
<path stroke="#c6c6f1" d="M353 0h1"/>
<path stroke="#e7e7f9" d="M354 0h1M856 0h1"/>
<path stroke="#fdf5f5" d="M364 0h1M462 0h1M842 0h1M846 0h1M850 0h1M924 0h10M935 0h1M990 0h1M1019 0h1M1053 0h10M1166 0h1M1379 0h1M1577 0h8M1670 0h1M1672 0h1M1678 0h1M1688 0h1M1722 0h1M1726 0h1M1730 0h1M1732 0h1M1735 0h1"/>
<path stroke="#faecec" d="M365 0h2M420 0h1M428 0h2M448 0h1M664 0h1M676 0h1M824 0h1M841 0h1M985 0h5M1162 0h1M1378 0h1M1381 0h1M1555 0h1M1560 0h1M1562 0h1M1571 0h1M1679 0h1M1694 0h1M1696 0h1M1721 0h1M1727 0h1M1729 0h1M1731 0h1M1734 0h1"/>
<path stroke="#eebcbc" d="M404 0h1M432 0h1M749 0h1M1167 0h1"/>
<path stroke="#e38c8c" d="M405 0h1M411 0h1M414 0h1M1168 0h1"/>
<path stroke="#d96666" d="M406 0h1M413 0h1"/>
<path stroke="#e59696" d="M407 0h1M1169 0h1"/>
<path stroke="#e08383" d="M408 0h1"/>
<path stroke="#d45353" d="M409 0h1M1174 0h1"/>
<path stroke="#dc7070" d="M412 0h1"/>
<path stroke="#f6d9d9" d="M415 0h1M425 0h2M447 0h1M675 0h1M747 0h1M755 0h1M957 0h2M965 0h2M1156 0h1M1164 0h1M1564 0h1M1671 0h1M1685 0h3M1695 0h1"/>
<path stroke="#f9e7e7" d="M421 0h1M449 0h1M984 0h1M1051 0h1M1154 0h1M1380 0h1M1556 0h1M1563 0h1M1697 0h1"/>
<path stroke="#f8e2e2" d="M427 0h1M464 0h1M746 0h1M822 0h1M950 0h7M959 0h6M967 0h17M1020 0h3M1042 0h7M1137 0h1M1163 0h1M1375 0h1"/>
<path stroke="#e79f9f" d="M431 0h1M754 0h1M823 0h1M1157 0h1M1175 0h1"/>
<path stroke="#f3cfcf" d="M446 0h1M1138 0h16M1158 0h1"/>
<path stroke="#f1c6c6" d="M744 0h2M750 0h1M752 0h2M1050 0h1M1170 0h1"/>
<path stroke="#bcbcee" d="M758 0h1"/>
<path stroke="#e2e2f8" d="M759 0h1M1014 0h1M1087 0h1M1404 0h1M1458 0h1"/>
<path stroke="#ececfa" d="M855 0h1M1558 0h1M1596 0h1M1598 0h1M1693 0h1M1719 0h2M1723 0h1M1746 0h14M1768 0h1"/>
<path stroke="#f5f5fd" d="M906 0h1M1086 0h1M1177 0h8M1274 0h1M1286 0h1M1597 0h1M1692 0h1M1742 0h1M1769 0h1"/>
<path stroke="#f1f1fb" d="M907 0h1M1275 0h11M1403 0h1M1459 0h1M1568 0h1M1743 0h3M1760 0h4"/>
<path stroke="#f7dede" d="M1049 0h1M1684 0h1"/>
<path stroke="#eaa9a9" d="M1171 0h1"/>
<path stroke="#dcdcdc" d="M1340 0h5M1398 0h5M1451 0h6"/>
<path stroke="#1919c6" d="M1520 0h3"/>
<path stroke="#8c8ce3" d="M1523 0h1"/>
<path stroke="#d9d9f6" d="M1569 0h1M1595 0h1"/>
<path stroke="#e8e8e8" d="M1716 0h3"/>
</g>
<g transform="translate(0 1169.5)" stroke-width="37">
<path stroke="#fefafa" d="M293 0h33M346 0h7M355 0h7M363 0h1M366 0h1M374 0h1M378 0h1M384 0h1M399 0h16M420 0h12M433 0h1M454 0h1M467 0h1M472 0h1M480 0h1M485 0h1M508 0h1M519 0h1M529 0h1M543 0h7M576 0h1M590 0h1M602 0h1M623 0h1M635 0h1M657 0h1M660 0h1M662 0h1M665 0h1M673 0h1M685 0h1M708 0h1M716 0h1M722 0h1M724 0h1M730 0h1M752 0h1M765 0h1M773 0h1M781 0h1M808 0h1M818 0h1M830 0h1M836 0h1M879 0h1M881 0h1M891 0h1M896 0h12M915 0h5M930 0h12M952 0h1M961 0h8M981 0h9M995 0h10M1007 0h1M1013 0h1M1015 0h1M1028 0h1M1040 0h4M1054 0h1M1056 0h6M1070 0h1M1074 0h1M1076 0h1M1085 0h1M1099 0h6M1116 0h1M1118 0h1M1128 0h1M1164 0h1M1168 0h1M1172 0h1M1180 0h1M1184 0h1M1188 0h1M1198 0h1M1217 0h1M1223 0h1M1229 0h1M1235 0h1M1237 0h1M1247 0h1M1274 0h1M1280 0h1M1286 0h1M1298 0h1M1335 0h1M1364 0h1M1378 0h2M1386 0h7M1406 0h1M1420 0h1M1423 0h22M1519 0h1M1555 0h30M1591 0h8M1601 0h6M1609 0h15M1632 0h23M1661 0h27M1693 0h6M1700 0h1M1705 0h1M1707 0h4M1722 0h14M1742 0h4M1751 0h1M1759 0h8M1768 0h7M1779 0h1M1787 0h2M1792 0h1M1798 0h1M1806 0h1M1816 0h1"/>
<path stroke="#fdf5f5" d="M326 0h6M340 0h6M364 0h2M375 0h3M434 0h6M443 0h5M455 0h3M473 0h7M486 0h5M495 0h6M509 0h4M520 0h9M577 0h13M593 0h9M611 0h8M624 0h11M643 0h4M652 0h5M666 0h7M679 0h6M689 0h6M702 0h6M717 0h5M725 0h5M738 0h11M753 0h4M766 0h7M782 0h8M798 0h6M809 0h9M831 0h5M841 0h6M849 0h30M882 0h9M947 0h5M1008 0h5M1016 0h12M1034 0h4M1046 0h8M1071 0h3M1084 0h1M1127 0h1M1140 0h6M1159 0h1M1165 0h3M1173 0h7M1185 0h3M1193 0h5M1207 0h8M1218 0h5M1230 0h5M1238 0h6M1260 0h8M1275 0h5M1287 0h8M1311 0h8M1321 0h14M1373 0h1M1375 0h3M1407 0h7M1599 0h2M1607 0h2M1701 0h4M1752 0h6M1780 0h7M1789 0h3M1794 0h4M1800 0h5M1807 0h9"/>
<path stroke="#f5f5fd" d="M372 0h1M696 0h1M761 0h1M1346 0h1M1403 0h1M1459 0h1"/>
<path stroke="#fafafe" d="M373 0h1M760 0h1M1549 0h5"/>
<path stroke="#fbf1f1" d="M385 0h6M468 0h1M661 0h1M943 0h1M1077 0h5M1117 0h1M1248 0h10M1299 0h8M1365 0h8M1380 0h5M1414 0h6"/>
<path stroke="#f6d9d9" d="M942 0h1"/>
<path stroke="#faecec" d="M1153 0h1M1160 0h1"/>
<path stroke="#e79f9f" d="M1154 0h1"/>
<path stroke="#f8e2e2" d="M1155 0h1"/>
<path stroke="#f7dede" d="M1156 0h2"/>
<path stroke="#dcdcdc" d="M1340 0h5M1398 0h5M1451 0h6"/>
<path stroke="#d9d9f6" d="M1345 0h1"/>
<path stroke="#ececfa" d="M1404 0h1M1458 0h1"/>
<path stroke="#f9e7e7" d="M1517 0h1"/>
<path stroke="#f1c6c6" d="M1518 0h1"/>
<path stroke="#e8e8e8" d="M1716 0h3"/>
</g>
</g>
<rect x="414.8" y="146" width="3.8" height="1043.3" fill="#000"/>
<rect x="536.7" y="146" width="3.8" height="1043.3" fill="#000"/>
<rect x="636.4" y="146" width="3.8" height="1043.3" fill="#000"/>
<rect x="732.5" y="146" width="3.8" height="1043.3" fill="#000"/>
<rect x="823.6" y="146" width="3.8" height="1043.3" fill="#000"/>
<rect x="909.6" y="146" width="3.8" height="1043.3" fill="#000"/>
<rect x="990.9" y="146" width="3.8" height="1043.3" fill="#000"/>
<rect x="1063.4" y="146" width="3.8" height="1043.3" fill="#000"/>
<rect x="1133.1" y="146" width="3.8" height="1043.3" fill="#000"/>
<rect x="1200.9" y="146" width="3.8" height="1043.3" fill="#000"/>
<rect x="1269.7" y="146" width="3.8" height="1043.3" fill="#000"/>
<rect x="1336.7" y="146" width="3.8" height="1043.3" fill="#000"/>
<rect x="1394.6" y="146" width="3.8" height="1043.3" fill="#000"/>
<rect x="1447.7" y="146" width="3.8" height="1043.3" fill="#000"/>
<rect x="1498.7" y="146" width="3.8" height="1043.3" fill="#000"/>
<rect x="1544.1" y="146" width="3.8" height="1043.3" fill="#000"/>
<rect x="1585.8" y="146" width="3.8" height="1043.3" fill="#000"/>
<rect x="1626.5" y="146" width="3.8" height="1043.3" fill="#000"/>
<rect x="1655.9" y="146" width="3.8" height="1043.3" fill="#000"/>
<rect x="1688.9" y="146" width="3.8" height="1043.3" fill="#000"/>
<rect x="1712.4" y="146" width="3.8" height="1043.3" fill="#000"/>
<rect x="1738.1" y="146" width="3.8" height="1043.3" fill="#000"/>
<rect x="291.5" y="148.6" width="1526.5" height="1039.6" fill="none" stroke="#000" stroke-width="2.4"/>
<rect x="281.8" y="166.4" width="9.7" height="2.4" fill="#000"/>
<text class="dj" x="272.9" y="175.9" text-anchor="end" font-size="22.65" fill="#000">EXR001_M</text>
<rect x="281.8" y="203.5" width="9.7" height="2.4" fill="#000"/>
<text class="dj" x="272.9" y="213" text-anchor="end" font-size="22.65" fill="#000">EXR003_M</text>
<rect x="281.8" y="240.6" width="9.7" height="2.4" fill="#000"/>
<text class="dj" x="272.9" y="250.2" text-anchor="end" font-size="22.65" fill="#000">EXR011_PT</text>
<rect x="281.8" y="277.8" width="9.7" height="2.4" fill="#000"/>
<text class="dj" x="272.9" y="287.3" text-anchor="end" font-size="22.65" fill="#000">EXR021_M</text>
<rect x="281.8" y="314.9" width="9.7" height="2.4" fill="#000"/>
<text class="dj" x="272.9" y="324.4" text-anchor="end" font-size="22.65" fill="#000">EXR024_M</text>
<rect x="281.8" y="352" width="9.7" height="2.4" fill="#000"/>
<text class="dj" x="272.9" y="361.6" text-anchor="end" font-size="22.65" fill="#000">EXR025_PT</text>
<rect x="281.8" y="389.1" width="9.7" height="2.4" fill="#000"/>
<text class="dj" x="272.9" y="398.7" text-anchor="end" font-size="22.65" fill="#000">EXR031_M</text>
<rect x="281.8" y="426.3" width="9.7" height="2.4" fill="#000"/>
<text class="dj" x="272.9" y="435.8" text-anchor="end" font-size="22.65" fill="#000">EXR037_PT</text>
<rect x="281.8" y="463.4" width="9.7" height="2.4" fill="#000"/>
<text class="dj" x="272.9" y="472.9" text-anchor="end" font-size="22.65" fill="#000">EXR040_PT</text>
<rect x="281.8" y="500.5" width="9.7" height="2.4" fill="#000"/>
<text class="dj" x="272.9" y="510.1" text-anchor="end" font-size="22.65" fill="#000">EXR043_PT</text>
<rect x="281.8" y="537.7" width="9.7" height="2.4" fill="#000"/>
<text class="dj" x="272.9" y="547.2" text-anchor="end" font-size="22.65" fill="#000">EXR044_PT</text>
<rect x="281.8" y="574.8" width="9.7" height="2.4" fill="#000"/>
<text class="dj" x="272.9" y="584.3" text-anchor="end" font-size="22.65" fill="#000">EXR053_PT</text>
<rect x="281.8" y="611.9" width="9.7" height="2.4" fill="#000"/>
<text class="dj" x="272.9" y="621.5" text-anchor="end" font-size="22.65" fill="#000">EXS051_PT</text>
<rect x="281.8" y="649" width="9.7" height="2.4" fill="#000"/>
<text class="dj" x="272.9" y="658.6" text-anchor="end" font-size="22.65" fill="#000">EXS058_PT</text>
<rect x="281.8" y="686.2" width="9.7" height="2.4" fill="#000"/>
<text class="dj" x="272.9" y="695.7" text-anchor="end" font-size="22.65" fill="#000">EXS072_PT</text>
<rect x="281.8" y="723.3" width="9.7" height="2.4" fill="#000"/>
<text class="dj" x="272.9" y="732.8" text-anchor="end" font-size="22.65" fill="#000">EXS086_PT</text>
<rect x="281.8" y="760.4" width="9.7" height="2.4" fill="#000"/>
<text class="dj" x="272.9" y="770" text-anchor="end" font-size="22.65" fill="#000">STR006_PT</text>
<rect x="281.8" y="797.6" width="9.7" height="2.4" fill="#000"/>
<text class="dj" x="272.9" y="807.1" text-anchor="end" font-size="22.65" fill="#000">STR011_PT</text>
<rect x="281.8" y="834.7" width="9.7" height="2.4" fill="#000"/>
<text class="dj" x="272.9" y="844.2" text-anchor="end" font-size="22.65" fill="#000">STR019_M</text>
<rect x="281.8" y="871.8" width="9.7" height="2.4" fill="#000"/>
<text class="dj" x="272.9" y="881.4" text-anchor="end" font-size="22.65" fill="#000">STR019_PT</text>
<rect x="281.8" y="908.9" width="9.7" height="2.4" fill="#000"/>
<text class="dj" x="272.9" y="918.5" text-anchor="end" font-size="22.65" fill="#000">STR022_PT</text>
<rect x="281.8" y="946.1" width="9.7" height="2.4" fill="#000"/>
<text class="dj" x="272.9" y="955.6" text-anchor="end" font-size="22.65" fill="#000">STR023_PT</text>
<rect x="281.8" y="983.2" width="9.7" height="2.4" fill="#000"/>
<text class="dj" x="272.9" y="992.7" text-anchor="end" font-size="22.65" fill="#000">STR024_PT</text>
<rect x="281.8" y="1020.3" width="9.7" height="2.4" fill="#000"/>
<text class="dj" x="272.9" y="1029.9" text-anchor="end" font-size="22.65" fill="#000">STR029_PT</text>
<rect x="281.8" y="1057.5" width="9.7" height="2.4" fill="#000"/>
<text class="dj" x="272.9" y="1067" text-anchor="end" font-size="22.65" fill="#000">STR033_PT</text>
<rect x="281.8" y="1094.6" width="9.7" height="2.4" fill="#000"/>
<text class="dj" x="272.9" y="1104.1" text-anchor="end" font-size="22.65" fill="#000">STR035_PT</text>
<rect x="281.8" y="1131.7" width="9.7" height="2.4" fill="#000"/>
<text class="dj" x="272.9" y="1141.3" text-anchor="end" font-size="22.65" fill="#000">STR040_PT</text>
<rect x="281.8" y="1168.8" width="9.7" height="2.4" fill="#000"/>
<text class="dj" x="272.9" y="1178.4" text-anchor="end" font-size="22.65" fill="#000">STR054_M</text>
<text class="dj" transform="translate(346.3 1250.3) rotate(-60)" font-size="22.65" fill="#000">chr1</text>
<text class="dj" transform="translate(469.9 1250.3) rotate(-60)" font-size="22.65" fill="#000">chr2</text>
<text class="dj" transform="translate(580.7 1250.3) rotate(-60)" font-size="22.65" fill="#000">chr3</text>
<text class="dj" transform="translate(678.6 1250.3) rotate(-60)" font-size="22.65" fill="#000">chr4</text>
<text class="dj" transform="translate(772.2 1250.3) rotate(-60)" font-size="22.65" fill="#000">chr5</text>
<text class="dj" transform="translate(860.7 1250.3) rotate(-60)" font-size="22.65" fill="#000">chr6</text>
<text class="dj" transform="translate(944.4 1250.3) rotate(-60)" font-size="22.65" fill="#000">chr7</text>
<text class="dj" transform="translate(1021.3 1250.3) rotate(-60)" font-size="22.65" fill="#000">chr8</text>
<text class="dj" transform="translate(1092.4 1250.3) rotate(-60)" font-size="22.65" fill="#000">chr9</text>
<text class="dj" transform="translate(1157.5 1262.7) rotate(-60)" font-size="22.65" fill="#000">chr10</text>
<text class="dj" transform="translate(1225.8 1262.7) rotate(-60)" font-size="22.65" fill="#000">chr11</text>
<text class="dj" transform="translate(1293.7 1262.7) rotate(-60)" font-size="22.65" fill="#000">chr12</text>
<text class="dj" transform="translate(1356.2 1262.7) rotate(-60)" font-size="22.65" fill="#000">chr13</text>
<text class="dj" transform="translate(1411.7 1262.7) rotate(-60)" font-size="22.65" fill="#000">chr14</text>
<text class="dj" transform="translate(1463.7 1262.7) rotate(-60)" font-size="22.65" fill="#000">chr15</text>
<text class="dj" transform="translate(1511.9 1262.7) rotate(-60)" font-size="22.65" fill="#000">chr16</text>
<text class="dj" transform="translate(1555.5 1262.7) rotate(-60)" font-size="22.65" fill="#000">chr17</text>
<text class="dj" transform="translate(1596.7 1262.7) rotate(-60)" font-size="22.65" fill="#000">chr18</text>
<text class="dj" transform="translate(1631.7 1262.7) rotate(-60)" font-size="22.65" fill="#000">chr19</text>
<text class="dj" transform="translate(1662.9 1262.7) rotate(-60)" font-size="22.65" fill="#000">chr20</text>
<text class="dj" transform="translate(1691.2 1262.7) rotate(-60)" font-size="22.65" fill="#000">chr21</text>
<text class="dj" transform="translate(1715.8 1262.7) rotate(-60)" font-size="22.65" fill="#000">chr22</text>
<text class="dj" transform="translate(1770.9 1251.2) rotate(-60)" font-size="22.65" fill="#000">chrX</text>
<defs><linearGradient id="cb" x1="0" y1="0" x2="0" y2="1"><stop offset="0" stop-color="#c00000"/><stop offset="0.5" stop-color="#ffffff"/><stop offset="1" stop-color="#0000c0"/></linearGradient></defs>
<rect x="1867.4" y="356.6" width="31.1" height="624" fill="url(#cb)" stroke="#000" stroke-width="2.4"/>
<rect x="1899.6" y="432.7" width="8.4" height="2.6" fill="#000"/>
<text class="dj" transform="translate(1917.2 444.3)" font-size="27.2" fill="#000">1</text>
<rect x="1899.6" y="667.1" width="8.4" height="2.6" fill="#000"/>
<text class="dj" transform="translate(1917.2 678.7)" font-size="27.2" fill="#000">0</text>
<rect x="1899.6" y="901.7" width="8.4" height="2.6" fill="#000"/>
<text class="dj" transform="translate(1917.2 913.3)" font-size="27.2" fill="#000">−1</text>
<text class="dj" transform="translate(1977.6 668.5) rotate(-90)" text-anchor="middle" font-size="27" fill="#000">log2</text>
<text class="lb" transform="translate(857.4 1429) scale(1 1.07)" font-size="25.8" fill="#000">Type</text>
<g stroke="#239a57" stroke-width="2.4" fill="none" stroke-linejoin="round">
<line x1="948.55" y1="1404.5" x2="948.55" y2="1410.2"/><line x1="948.55" y1="1429.3" x2="948.55" y2="1435"/>
<rect x="934.5" y="1410.2" width="28.1" height="19.1"/>
<line x1="934.5" y1="1419.7" x2="962.6" y2="1419.7"/>
</g>
<circle cx="948.55" cy="1419.9" r="4.9" fill="#239a57"/>
<text class="lb" transform="translate(980.8 1427.3)" font-size="22.4" fill="#000">EXR</text>
<g stroke="#1fb7e6" stroke-width="2.4" fill="none" stroke-linejoin="round">
<line x1="1056.5" y1="1404.5" x2="1056.5" y2="1410.2"/><line x1="1056.5" y1="1429.3" x2="1056.5" y2="1435"/>
<rect x="1042.5" y="1410.2" width="28.1" height="19.1"/>
<line x1="1042.5" y1="1419.7" x2="1070.5" y2="1419.7"/>
</g>
<circle cx="1056.5" cy="1419.9" r="4.9" fill="#1fb7e6"/>
<text class="lb" transform="translate(1088.3 1427.3)" font-size="22.4" fill="#000">EXS</text>
<g stroke="#e8b606" stroke-width="2.4" fill="none" stroke-linejoin="round">
<line x1="1163.1" y1="1404.5" x2="1163.1" y2="1410.2"/><line x1="1163.1" y1="1429.3" x2="1163.1" y2="1435"/>
<rect x="1149" y="1410.2" width="28.1" height="19.1"/>
<line x1="1149" y1="1419.7" x2="1177.1" y2="1419.7"/>
</g>
<circle cx="1163.1" cy="1419.9" r="4.9" fill="#e8b606"/>
<text class="lb" transform="translate(1194.9 1427.3)" font-size="22.4" fill="#000">STR</text>
<rect x="250.1" y="1479.2" width="523.4" height="39.1" fill="#f2f2f2" stroke="#000" stroke-width="2.1"/>
<text class="lb" transform="translate(511.6 1506.7)" text-anchor="middle" font-size="22.4" font-weight="bold" fill="#000">gain</text>
<rect x="249.8" y="1520" width="523.7" height="697.8" fill="#fff"/>
<g fill="#000">
<rect x="249.1" y="1518.9" width="2" height="700.8"/>
<rect x="771.4" y="1518.9" width="3.1" height="700.8"/>
<rect x="249.1" y="1518.9" width="525.4" height="2.1"/>
<rect x="249.1" y="2215.9" width="525.4" height="3.8"/>
</g>
<text class="lb" transform="translate(329.9 1550.5)" font-size="24.5" fill="#000">p = 0.18</text>
<g stroke="#239a57" fill="none" stroke-width="2.3">
<line x1="348" y1="1880.7" x2="348" y2="1974.2"/>
<line x1="348" y1="2079.6" x2="348" y2="2147.8"/>
<rect x="290.7" y="1974.2" width="114.6" height="105.4"/>
<line x1="290.7" y1="2031.3" x2="405.3" y2="2031.3" stroke-width="4.8"/>
</g>
<g fill="#239a57">
<circle cx="373.4" cy="1880.7" r="5.4"/>
<circle cx="372.2" cy="1940.2" r="5.4"/>
<circle cx="344.5" cy="1965.5" r="5.4"/>
<circle cx="359.5" cy="1977" r="5.4"/>
<circle cx="377.3" cy="1991.3" r="5.4"/>
<circle cx="353.6" cy="2031.7" r="5.4"/>
<circle cx="358.7" cy="2031.3" r="5.4"/>
<circle cx="336.1" cy="2051.1" r="5.4"/>
<circle cx="357.5" cy="2069.7" r="5.4"/>
<circle cx="348.8" cy="2111.3" r="5.4"/>
<circle cx="333.4" cy="2115.7" r="5.4"/>
<circle cx="364.3" cy="2147.8" r="5.4"/>
</g>
<rect x="346.6" y="2219" width="2.8" height="5.6" fill="#000"/>
<text class="lb" transform="translate(348.2 2248.7) scale(1 1.055)" text-anchor="middle" font-size="26.3" fill="#000">EXR</text>
<g stroke="#1fb7e6" fill="none" stroke-width="2.3">
<line x1="511.7" y1="1994.8" x2="511.7" y2="2065.4"/>
<line x1="511.7" y1="2156.5" x2="511.7" y2="2164"/>
<rect x="454.4" y="2065.4" width="114.6" height="91.1"/>
<line x1="454.4" y1="2121.6" x2="568.9" y2="2121.6" stroke-width="4.8"/>
</g>
<g fill="#1fb7e6">
<circle cx="504.9" cy="1994.1" r="5.4"/>
<circle cx="530.3" cy="2089.1" r="5.4"/>
<circle cx="493" cy="2154.1" r="5.4"/>
<circle cx="487.1" cy="2164" r="5.4"/>
</g>
<rect x="510.3" y="2219" width="2.8" height="5.6" fill="#000"/>
<text class="lb" transform="translate(511.9 2248.7) scale(1 1.055)" text-anchor="middle" font-size="26.3" fill="#000">EXS</text>
<g stroke="#e8b606" fill="none" stroke-width="2.3">
<line x1="675.3" y1="2084.8" x2="675.3" y2="2093.5"/>
<line x1="675.3" y1="2164.8" x2="675.3" y2="2185"/>
<rect x="618" y="2093.5" width="114.6" height="71.3"/>
<line x1="618" y1="2148.6" x2="732.6" y2="2148.6" stroke-width="4.8"/>
</g>
<g fill="#e8b606">
<circle cx="678.4" cy="1862.1" r="5.4"/>
<circle cx="694.7" cy="1883.9" r="5.4"/>
<circle cx="659.4" cy="2083.6" r="5.4"/>
<circle cx="691.1" cy="2104.2" r="5.4"/>
<circle cx="685.2" cy="2131.1" r="5.4"/>
<circle cx="688.4" cy="2149" r="5.4"/>
<circle cx="659" cy="2156.1" r="5.4"/>
<circle cx="670.5" cy="2163.2" r="5.4"/>
<circle cx="656.3" cy="2166.4" r="5.4"/>
<circle cx="669.7" cy="2169.2" r="5.4"/>
<circle cx="664.6" cy="2185.8" r="5.4"/>
</g>
<rect x="673.9" y="2219" width="2.8" height="5.6" fill="#000"/>
<text class="lb" transform="translate(675.5 2248.7) scale(1 1.055)" text-anchor="middle" font-size="26.3" fill="#000">STR</text>
<rect x="786.1" y="1479.2" width="523.9" height="39.1" fill="#f2f2f2" stroke="#000" stroke-width="2.1"/>
<text class="lb" transform="translate(1048.2 1506.7)" text-anchor="middle" font-size="22.4" font-weight="bold" fill="#000">loss</text>
<rect x="786.4" y="1520" width="523.7" height="697.8" fill="#fff"/>
<g fill="#000">
<rect x="784.9" y="1518.9" width="2.8" height="700.8"/>
<rect x="1308" y="1518.9" width="3.1" height="700.8"/>
<rect x="784.9" y="1518.9" width="526.2" height="2.1"/>
<rect x="784.9" y="2215.9" width="526.2" height="3.8"/>
</g>
<text class="lb" transform="translate(866.4 1550.5)" font-size="24.5" fill="#000">p = 0.91</text>
<g stroke="#239a57" fill="none" stroke-width="2.3">
<line x1="884.6" y1="2138.9" x2="884.6" y2="2146.5"/>
<rect x="827.3" y="2146.5" width="114.6" height="39"/>
<line x1="827.3" y1="2171.9" x2="941.9" y2="2171.9" stroke-width="4.8"/>
</g>
<g fill="#239a57">
<circle cx="870.2" cy="2087.2" r="5.4"/>
<circle cx="912.9" cy="2084.7" r="5.4"/>
<circle cx="909.8" cy="2138.9" r="5.4"/>
<circle cx="910.1" cy="2148.7" r="5.4"/>
<circle cx="893.3" cy="2159.5" r="5.4"/>
<circle cx="913.6" cy="2165.2" r="5.4"/>
<circle cx="888.5" cy="2178.8" r="5.4"/>
<circle cx="864.8" cy="2184.9" r="5.4"/>
<circle cx="868.3" cy="2185.8" r="5.4"/>
<circle cx="897.4" cy="2185.8" r="5.4"/>
<circle cx="903.1" cy="2185.2" r="5.4"/>
<circle cx="913.9" cy="2185.8" r="5.4"/>
</g>
<rect x="883.2" y="2219" width="2.8" height="5.6" fill="#000"/>
<text class="lb" transform="translate(884.8 2248.7) scale(1 1.055)" text-anchor="middle" font-size="26.3" fill="#000">EXR</text>
<g stroke="#1fb7e6" fill="none" stroke-width="2.3">
<line x1="1048.2" y1="2128.1" x2="1048.2" y2="2146.8"/>
<line x1="1048.2" y1="2173.8" x2="1048.2" y2="2185.5"/>
<rect x="991" y="2146.8" width="114.6" height="26.9"/>
<line x1="991" y1="2161.1" x2="1105.5" y2="2161.1" stroke-width="4.8"/>
</g>
<g fill="#1fb7e6">
<circle cx="1039.1" cy="2127.2" r="5.4"/>
<circle cx="1016.6" cy="2152.9" r="5.4"/>
<circle cx="1030.2" cy="2168.7" r="5.4"/>
<circle cx="1024.2" cy="2185.2" r="5.4"/>
</g>
<rect x="1046.8" y="2219" width="2.8" height="5.6" fill="#000"/>
<text class="lb" transform="translate(1048.5 2248.7) scale(1 1.055)" text-anchor="middle" font-size="26.3" fill="#000">EXS</text>
<g stroke="#e8b606" fill="none" stroke-width="2.3">
<line x1="1211.9" y1="2113.5" x2="1211.9" y2="2133.2"/>
<rect x="1154.6" y="2133.2" width="114.6" height="52.3"/>
<line x1="1154.6" y1="2183.9" x2="1269.2" y2="2183.9" stroke-width="4.8"/>
</g>
<g fill="#e8b606">
<circle cx="1234.7" cy="2018.8" r="5.4"/>
<circle cx="1178.6" cy="2112.9" r="5.4"/>
<circle cx="1191.9" cy="2126.9" r="5.4"/>
<circle cx="1231.8" cy="2139.5" r="5.4"/>
<circle cx="1227.7" cy="2149.7" r="5.4"/>
<circle cx="1183.9" cy="2185.2" r="5.4"/>
<circle cx="1187.1" cy="2183.9" r="5.4"/>
<circle cx="1203.3" cy="2186.1" r="5.4"/>
<circle cx="1231.2" cy="2186.1" r="5.4"/>
<circle cx="1236.9" cy="2183" r="5.4"/>
</g>
<rect x="1210.5" y="2219" width="2.8" height="5.6" fill="#000"/>
<text class="lb" transform="translate(1212.1 2248.7) scale(1 1.055)" text-anchor="middle" font-size="26.3" fill="#000">STR</text>
<rect x="1322.7" y="1479.2" width="523.9" height="39.1" fill="#f2f2f2" stroke="#000" stroke-width="2.1"/>
<text class="lb" transform="translate(1584.8 1506.7)" text-anchor="middle" font-size="22.4" font-weight="bold" fill="#000">total</text>
<rect x="1322.9" y="1520" width="523.7" height="697.8" fill="#fff"/>
<g fill="#000">
<rect x="1321.4" y="1518.9" width="2.8" height="700.8"/>
<rect x="1844.5" y="1518.9" width="3.1" height="700.8"/>
<rect x="1321.4" y="1518.9" width="526.2" height="2.1"/>
<rect x="1321.4" y="2215.9" width="526.2" height="3.8"/>
</g>
<text class="lb" transform="translate(1405.4 1550.5)" font-size="24.5" fill="#000">p = 0.3</text>
<g stroke="#239a57" fill="none" stroke-width="2.3">
<line x1="1421.1" y1="1839.1" x2="1421.1" y2="1946.8"/>
<line x1="1421.1" y1="2065.7" x2="1421.1" y2="2146.8"/>
<rect x="1363.8" y="1946.8" width="114.6" height="118.9"/>
<line x1="1363.8" y1="1994.4" x2="1478.4" y2="1994.4" stroke-width="4.8"/>
</g>
<g fill="#239a57">
<circle cx="1390.8" cy="1838.7" r="5.4"/>
<circle cx="1390.5" cy="1880.6" r="5.4"/>
<circle cx="1397.5" cy="1932.9" r="5.4"/>
<circle cx="1452.9" cy="1951" r="5.4"/>
<circle cx="1433" cy="1954.1" r="5.4"/>
<circle cx="1417.1" cy="1965.5" r="5.4"/>
<circle cx="1394.3" cy="2024.2" r="5.4"/>
<circle cx="1446" cy="2029.9" r="5.4"/>
<circle cx="1424.1" cy="2064.1" r="5.4"/>
<circle cx="1423.2" cy="2070.1" r="5.4"/>
<circle cx="1414.9" cy="2114.8" r="5.4"/>
<circle cx="1408.6" cy="2146.5" r="5.4"/>
</g>
<rect x="1419.7" y="2219" width="2.8" height="5.6" fill="#000"/>
<text class="lb" transform="translate(1421.3 2248.7) scale(1 1.055)" text-anchor="middle" font-size="26.3" fill="#000">EXR</text>
<g stroke="#1fb7e6" fill="none" stroke-width="2.3">
<line x1="1584.8" y1="1935.7" x2="1584.8" y2="2026.1"/>
<rect x="1527.5" y="2026.1" width="114.6" height="122.7"/>
<line x1="1527.5" y1="2101.8" x2="1642" y2="2101.8" stroke-width="4.8"/>
</g>
<g fill="#1fb7e6">
<circle cx="1561.3" cy="1935.4" r="5.4"/>
<circle cx="1582.9" cy="2056.5" r="5.4"/>
<circle cx="1581.9" cy="2146.8" r="5.4"/>
<circle cx="1578.1" cy="2153.8" r="5.4"/>
</g>
<rect x="1583.3" y="2219" width="2.8" height="5.6" fill="#000"/>
<text class="lb" transform="translate(1585 2248.7) scale(1 1.055)" text-anchor="middle" font-size="26.3" fill="#000">EXS</text>
<g stroke="#e8b606" fill="none" stroke-width="2.3">
<line x1="1748.4" y1="1884.1" x2="1748.4" y2="2012.8"/>
<line x1="1748.4" y1="2147.5" x2="1748.4" y2="2185.5"/>
<rect x="1691.1" y="2012.8" width="114.6" height="134.7"/>
<line x1="1691.1" y1="2100.9" x2="1805.7" y2="2100.9" stroke-width="4.8"/>
</g>
<g fill="#e8b606">
<circle cx="1723.3" cy="1803.2" r="5.4"/>
<circle cx="1767.1" cy="1883.8" r="5.4"/>
<circle cx="1717.9" cy="1988.7" r="5.4"/>
<circle cx="1744.2" cy="2037.2" r="5.4"/>
<circle cx="1746.1" cy="2075.8" r="5.4"/>
<circle cx="1739.5" cy="2101.2" r="5.4"/>
<circle cx="1739.8" cy="2127.8" r="5.4"/>
<circle cx="1756.3" cy="2132.9" r="5.4"/>
<circle cx="1723" cy="2163" r="5.4"/>
<circle cx="1755" cy="2166.2" r="5.4"/>
<circle cx="1730.6" cy="2185.5" r="5.4"/>
</g>
<rect x="1747" y="2219" width="2.8" height="5.6" fill="#000"/>
<text class="lb" transform="translate(1748.6 2248.7) scale(1 1.055)" text-anchor="middle" font-size="26.3" fill="#000">STR</text>
<rect x="243.1" y="2184.5" width="6.2" height="2.7" fill="#000"/>
<text class="lb" transform="translate(237.4 2196.3) scale(1 1.03)" text-anchor="end" font-size="26.7" fill="#000">0.00</text>
<rect x="243.1" y="2025.6" width="6.2" height="2.7" fill="#000"/>
<text class="lb" transform="translate(237.4 2037.4) scale(1 1.03)" text-anchor="end" font-size="26.7" fill="#000">0.25</text>
<rect x="243.1" y="1866.7" width="6.2" height="2.7" fill="#000"/>
<text class="lb" transform="translate(237.4 1878.5) scale(1 1.03)" text-anchor="end" font-size="26.7" fill="#000">0.50</text>
<rect x="243.1" y="1707.8" width="6.2" height="2.7" fill="#000"/>
<text class="lb" transform="translate(237.4 1719.6) scale(1 1.03)" text-anchor="end" font-size="26.7" fill="#000">0.75</text>
<rect x="243.1" y="1548.9" width="6.2" height="2.7" fill="#000"/>
<text class="lb" transform="translate(237.4 1560.7) scale(1 1.03)" text-anchor="end" font-size="26.7" fill="#000">1.00</text>
<text class="lb" transform="translate(145.3 1868.7) rotate(-90)" text-anchor="middle" font-size="26.5" fill="#000">CNA burden</text>
<text class="lb" transform="translate(1048 2308) scale(1 1.07)" text-anchor="middle" font-size="25.8" fill="#000">Type</text>
</svg>
</body></html>
